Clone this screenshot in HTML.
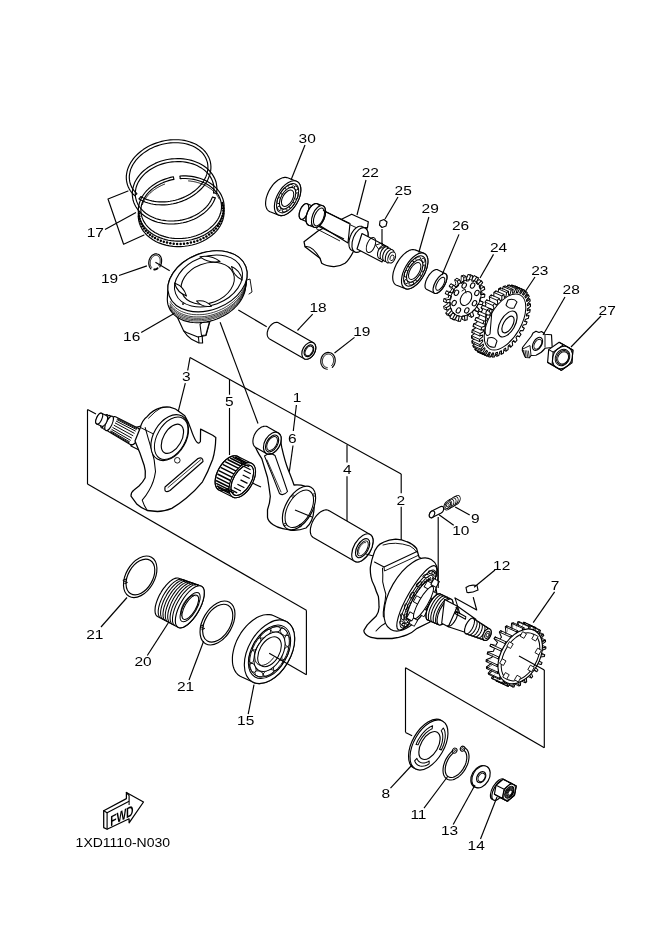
<!DOCTYPE html>
<html><head><meta charset="utf-8"><style>
html,body{margin:0;padding:0;background:#fff;}
svg{display:block;will-change:transform;}
text{font-family:"Liberation Sans",sans-serif;fill:#000;}
</style></head><body>
<svg width="660" height="933" viewBox="0 0 660 933">
<circle cx="222.3" cy="203.0" r="1.25" fill="#000"/>
<circle cx="222.9" cy="205.6" r="1.25" fill="#000"/>
<circle cx="223.2" cy="208.2" r="1.25" fill="#000"/>
<circle cx="223.3" cy="210.8" r="1.25" fill="#000"/>
<circle cx="223.1" cy="213.4" r="1.25" fill="#000"/>
<circle cx="222.5" cy="216.1" r="1.25" fill="#000"/>
<circle cx="221.7" cy="218.6" r="1.25" fill="#000"/>
<circle cx="220.7" cy="221.2" r="1.25" fill="#000"/>
<circle cx="219.3" cy="223.7" r="1.25" fill="#000"/>
<circle cx="217.8" cy="226.1" r="1.25" fill="#000"/>
<circle cx="215.9" cy="228.4" r="1.25" fill="#000"/>
<circle cx="213.9" cy="230.6" r="1.25" fill="#000"/>
<circle cx="211.6" cy="232.7" r="1.25" fill="#000"/>
<circle cx="209.1" cy="234.6" r="1.25" fill="#000"/>
<circle cx="206.4" cy="236.4" r="1.25" fill="#000"/>
<circle cx="203.5" cy="238.0" r="1.25" fill="#000"/>
<circle cx="200.5" cy="239.4" r="1.25" fill="#000"/>
<circle cx="197.4" cy="240.7" r="1.25" fill="#000"/>
<circle cx="194.2" cy="241.7" r="1.25" fill="#000"/>
<circle cx="190.9" cy="242.6" r="1.25" fill="#000"/>
<circle cx="187.5" cy="243.2" r="1.25" fill="#000"/>
<circle cx="184.0" cy="243.7" r="1.25" fill="#000"/>
<circle cx="180.6" cy="243.9" r="1.25" fill="#000"/>
<circle cx="177.1" cy="243.9" r="1.25" fill="#000"/>
<circle cx="173.7" cy="243.7" r="1.25" fill="#000"/>
<circle cx="170.3" cy="243.3" r="1.25" fill="#000"/>
<circle cx="167.0" cy="242.6" r="1.25" fill="#000"/>
<circle cx="163.8" cy="241.8" r="1.25" fill="#000"/>
<circle cx="160.8" cy="240.7" r="1.25" fill="#000"/>
<circle cx="157.8" cy="239.5" r="1.25" fill="#000"/>
<circle cx="155.0" cy="238.1" r="1.25" fill="#000"/>
<circle cx="152.4" cy="236.5" r="1.25" fill="#000"/>
<circle cx="150.0" cy="234.7" r="1.25" fill="#000"/>
<circle cx="147.8" cy="232.8" r="1.25" fill="#000"/>
<circle cx="145.8" cy="230.7" r="1.25" fill="#000"/>
<circle cx="144.0" cy="228.5" r="1.25" fill="#000"/>
<circle cx="142.5" cy="226.2" r="1.25" fill="#000"/>
<circle cx="141.3" cy="223.8" r="1.25" fill="#000"/>
<circle cx="140.3" cy="221.3" r="1.25" fill="#000"/>
<circle cx="139.6" cy="218.8" r="1.25" fill="#000"/>
<circle cx="139.2" cy="216.2" r="1.25" fill="#000"/>
<circle cx="139.1" cy="213.6" r="1.25" fill="#000"/>
<path d="M222.3,202.9 L223.2,205.7 L223.8,208.5 L224.1,211.4 L224.0,214.3 L223.6,217.2 L222.8,220.0 L221.7,222.9 L220.3,225.6 L218.6,228.3 L216.6,230.8 L214.3,233.3 L211.7,235.5 L208.9,237.6 L205.9,239.5 L202.7,241.2 L199.3,242.7 L195.8,244.0 L192.1,245.0 L188.4,245.8 L184.6,246.3 L180.8,246.6 L177.0,246.6 L173.2,246.4 L169.5,245.9 L165.9,245.1 L162.4,244.1 L159.0,242.9 L155.8,241.4 L152.9,239.7 L150.1,237.8 L147.6,235.8 L145.4,233.5 L143.4,231.1 L141.8,228.6 L140.4,225.9 L139.4,223.2 L138.7,220.3 L138.3,217.5 L138.3,214.6 L138.7,211.7" fill="none" stroke="#000" stroke-width="1.15" stroke-linejoin="round" stroke-linecap="round"/>
<path d="M180.0,176.0 L183.0,175.9 L185.9,175.9 L188.8,176.1 L191.6,176.4 L194.4,176.9 L197.2,177.6 L199.8,178.3 L202.4,179.2 L204.9,180.3 L207.3,181.5 L209.5,182.8 L211.7,184.2 L213.7,185.7 L215.5,187.4 L217.2,189.1 L218.7,191.0 L220.0,192.9 L221.2,194.9 L222.1,196.9 L222.9,199.0 L223.5,201.1 L223.9,203.3 L224.1,205.5 L224.1,207.8 L223.9,210.0 L223.5,212.2 L222.9,214.4 L222.1,216.6 L221.1,218.7 L219.9,220.8 L218.6,222.8 L217.1,224.8 L215.4,226.6 L213.5,228.4 L211.6,230.2 L209.4,231.8 L207.2,233.3 L204.8,234.7 L202.3,235.9 L199.7,237.1 L197.0,238.1 L194.3,238.9 L191.5,239.7 L188.6,240.3 L185.7,240.7 L182.8,241.0 L179.9,241.1 L177.0,241.1 L174.1,240.9 L171.2,240.6 L168.4,240.2 L165.6,239.6 L163.0,238.8 L160.4,237.9 L157.9,236.9 L155.5,235.7 L153.2,234.4 L151.0,233.0 L149.0,231.5 L147.2,229.9 L145.5,228.1 L144.0,226.3 L142.6,224.4 L141.4,222.5 L140.4,220.4 L139.6,218.3 L139.0,216.2 L138.6,214.0 L138.3,211.8 L138.3,209.6 L138.5,207.4 L138.9,205.2 L139.4,203.0 L140.2,200.8 L141.1,198.6 L142.3,196.5 L143.6,194.5 L145.1,192.5 L146.7,190.6 L148.6,188.8 L150.5,187.1 L152.6,185.5 L154.9,184.0 L157.2,182.5 L159.7,181.3 L162.3,180.1 L165.0,179.1 L167.7,178.2 L170.5,177.4 L173.4,176.8" fill="none" stroke="#000" stroke-width="1.15" stroke-linejoin="round" stroke-linecap="round"/>
<path d="M180.2,178.6 L182.9,178.5 L185.7,178.5 L188.4,178.7 L191.1,179.0 L193.7,179.4 L196.3,180.0 L198.8,180.7 L201.2,181.5 L203.5,182.5 L205.8,183.6 L207.9,184.8 L209.9,186.1 L211.7,187.5 L213.4,189.0 L215.0,190.6 L216.4,192.3 L217.7,194.0 L218.8,195.9 L219.7,197.7 L220.4,199.7 L220.9,201.7 L221.3,203.7 L221.5,205.7 L221.5,207.7 L221.3,209.8 L220.9,211.8 L220.3,213.8 L219.6,215.8 L218.7,217.8 L217.6,219.7 L216.3,221.6 L214.9,223.4 L213.3,225.1 L211.5,226.8 L209.7,228.4 L207.7,229.9 L205.5,231.2 L203.3,232.5 L201.0,233.7 L198.5,234.7 L196.0,235.7 L193.4,236.5 L190.8,237.2 L188.1,237.7 L185.4,238.1 L182.6,238.4 L179.9,238.5 L177.2,238.5 L174.4,238.4 L171.8,238.1 L169.1,237.7 L166.5,237.1 L164.0,236.4 L161.6,235.6 L159.2,234.7 L157.0,233.6 L154.8,232.4 L152.8,231.1 L150.9,229.7 L149.2,228.2 L147.6,226.7 L146.2,225.0 L144.9,223.2 L143.8,221.4 L142.9,219.5 L142.1,217.6 L141.5,215.7 L141.1,213.7 L140.9,211.6 L140.9,209.6 L141.1,207.5 L141.4,205.5 L142.0,203.5 L142.7,201.5 L143.6,199.5 L144.7,197.6 L145.9,195.7 L147.3,193.9 L148.9,192.1 L150.6,190.5 L152.4,188.9 L154.4,187.4 L156.5,186.0 L158.8,184.7 L161.1,183.5 L163.5,182.4 L166.0,181.5 L168.6,180.6 L171.2,179.9 L173.9,179.4" fill="none" stroke="#000" stroke-width="1.15" stroke-linejoin="round" stroke-linecap="round"/>
<line x1="173.4" y1="176.8" x2="173.9" y2="179.4" stroke="#000" stroke-width="1.15"/>
<line x1="180.0" y1="176.0" x2="180.2" y2="178.6" stroke="#000" stroke-width="1.15"/>
<path d="M142.4,204.5 L142.6,203.9 L142.9,203.2 L143.2,202.6 L143.5,202.0 L143.8,201.3 L144.1,200.7 L144.5,200.1 L144.8,199.5 L145.2,198.9 L145.6,198.3 L146.1,197.7 L146.5,197.1 L147.0,196.5 L147.4,195.9 L147.9,195.4 L148.4,194.8 L148.9,194.3 L149.5,193.7 L150.0,193.2 L150.6,192.7 L151.2,192.1 L151.8,191.6 L152.4,191.1 L153.0,190.6 L153.6,190.2 L154.3,189.7 L154.9,189.2 L155.6,188.8 L156.3,188.3 L157.0,187.9 L157.7,187.5 L158.4,187.1 L159.1,186.7 L159.9,186.3 L160.6,185.9 L161.4,185.5 L162.2,185.2 L162.9,184.8 L163.7,184.5 L164.5,184.2" fill="none" stroke="#000" stroke-width="0.92" stroke-linejoin="round" stroke-linecap="round"/>
<path d="M188.6,180.9 L189.6,181.0 L190.6,181.1 L191.7,181.3 L192.7,181.4 L193.7,181.6 L194.7,181.8 L195.7,182.0 L196.7,182.3 L197.6,182.6 L198.6,182.8 L199.5,183.1 L200.5,183.5 L201.4,183.8 L202.3,184.2 L203.2,184.5 L204.1,184.9 L204.9,185.3 L205.8,185.8 L206.6,186.2 L207.4,186.7 L208.2,187.2 L209.0,187.7 L209.7,188.2 L210.5,188.7 L211.2,189.2 L211.9,189.8 L212.5,190.4 L213.2,191.0 L213.8,191.6 L214.4,192.2 L215.0,192.8 L215.6,193.4 L216.1,194.1 L216.6,194.7 L217.1,195.4 L217.6,196.1 L218.0,196.8 L218.4,197.5 L218.8,198.2 L219.2,198.9" fill="none" stroke="#000" stroke-width="0.92" stroke-linejoin="round" stroke-linecap="round"/>
<path d="M215.3,197.9 L214.4,200.0 L213.4,202.2 L212.1,204.3 L210.7,206.3 L209.1,208.2 L207.3,210.1 L205.4,211.9 L203.4,213.6 L201.2,215.1 L198.9,216.6 L196.5,218.0 L193.9,219.2 L191.3,220.3 L188.6,221.3 L185.9,222.1 L183.1,222.8 L180.2,223.3 L177.4,223.7 L174.5,223.9 L171.6,224.0 L168.7,224.0 L165.9,223.7 L163.1,223.4 L160.3,222.8 L157.6,222.2 L155.0,221.4 L152.5,220.4 L150.1,219.3 L147.8,218.1 L145.6,216.8 L143.6,215.3 L141.7,213.7 L140.0,212.0 L138.4,210.3 L137.0,208.4 L135.7,206.5 L134.7,204.5 L133.8,202.4 L133.1,200.3 L132.7,198.1 L132.4,195.9 L132.3,193.7 L132.4,191.4 L132.7,189.2 L133.2,187.0 L133.9,184.8 L134.7,182.6 L135.8,180.5 L137.1,178.4 L138.5,176.4 L140.1,174.4 L141.8,172.5 L143.7,170.8 L145.8,169.1 L147.9,167.5 L150.3,166.0 L152.7,164.7 L155.2,163.4 L157.8,162.3 L160.5,161.3 L163.2,160.5 L166.1,159.8 L168.9,159.3 L171.8,158.9 L174.7,158.7 L177.6,158.6 L180.4,158.6 L183.3,158.9 L186.1,159.2 L188.8,159.7 L191.5,160.4 L194.1,161.2 L196.6,162.2 L199.1,163.3 L201.4,164.5 L203.5,165.8 L205.6,167.3 L207.5,168.8 L209.2,170.5 L210.8,172.3 L212.2,174.1 L213.4,176.1 L214.5,178.1 L215.4,180.2 L216.1,182.3 L216.5,184.5 L216.8,186.7 L216.9,188.9 L216.8,191.1 L216.5,193.3" fill="none" stroke="#000" stroke-width="1.15" stroke-linejoin="round" stroke-linecap="round"/>
<path d="M212.4,197.1 L211.6,199.1 L210.6,201.1 L209.4,203.0 L208.1,204.8 L206.6,206.6 L205.0,208.3 L203.2,209.9 L201.3,211.4 L199.2,212.9 L197.1,214.2 L194.8,215.5 L192.5,216.6 L190.1,217.6 L187.6,218.5 L185.0,219.2 L182.4,219.9 L179.7,220.4 L177.1,220.7 L174.4,220.9 L171.7,221.0 L169.0,221.0 L166.4,220.8 L163.8,220.4 L161.2,220.0 L158.7,219.4 L156.3,218.7 L154.0,217.8 L151.7,216.8 L149.6,215.7 L147.6,214.5 L145.7,213.2 L144.0,211.8 L142.4,210.2 L140.9,208.6 L139.6,207.0 L138.4,205.2 L137.5,203.4 L136.7,201.5 L136.1,199.6 L135.6,197.6 L135.3,195.6 L135.3,193.6 L135.4,191.5 L135.7,189.5 L136.1,187.5 L136.8,185.5 L137.6,183.5 L138.6,181.6 L139.8,179.7 L141.1,177.9 L142.6,176.1 L144.2,174.4 L146.0,172.7 L147.9,171.2 L149.9,169.8 L152.1,168.4 L154.3,167.2 L156.7,166.0 L159.1,165.0 L161.6,164.1 L164.1,163.4 L166.8,162.8 L169.4,162.3 L172.1,161.9 L174.8,161.7 L177.4,161.6 L180.1,161.6 L182.8,161.8 L185.4,162.1 L187.9,162.6 L190.4,163.2 L192.8,163.9 L195.2,164.8 L197.4,165.8 L199.5,166.9 L201.5,168.1 L203.4,169.4 L205.2,170.8 L206.8,172.3 L208.3,173.9 L209.6,175.6 L210.7,177.4 L211.7,179.2 L212.5,181.1 L213.1,183.0 L213.6,185.0 L213.8,187.0 L213.9,189.0 L213.8,191.0 L213.5,193.0" fill="none" stroke="#000" stroke-width="1.15" stroke-linejoin="round" stroke-linecap="round"/>
<line x1="216.5" y1="193.3" x2="213.5" y2="193.0" stroke="#000" stroke-width="1.15"/>
<line x1="215.3" y1="197.9" x2="212.4" y2="197.1" stroke="#000" stroke-width="1.15"/>
<path d="M134.6,195.6 L133.0,194.0 L131.5,192.3 L130.2,190.5 L129.1,188.6 L128.2,186.7 L127.4,184.6 L126.9,182.6 L126.5,180.4 L126.3,178.3 L126.3,176.1 L126.6,173.8 L127.0,171.6 L127.6,169.4 L128.4,167.2 L129.4,165.0 L130.5,162.9 L131.9,160.8 L133.4,158.7 L135.1,156.7 L136.9,154.8 L138.9,153.0 L141.0,151.2 L143.2,149.6 L145.6,148.1 L148.1,146.6 L150.6,145.3 L153.3,144.1 L156.0,143.1 L158.8,142.2 L161.6,141.4 L164.4,140.7 L167.3,140.2 L170.2,139.9 L173.1,139.7 L175.9,139.7 L178.7,139.8 L181.5,140.0 L184.2,140.4 L186.8,141.0 L189.4,141.7 L191.8,142.6 L194.2,143.5 L196.4,144.6 L198.5,145.9 L200.5,147.3 L202.3,148.7 L204.0,150.3 L205.5,152.0 L206.8,153.8 L207.9,155.7 L208.9,157.6 L209.7,159.6 L210.3,161.7 L210.7,163.8 L210.9,166.0 L210.9,168.2 L210.7,170.4 L210.3,172.6 L209.7,174.9 L208.9,177.1 L208.0,179.2 L206.9,181.4 L205.5,183.5 L204.1,185.6 L202.4,187.6 L200.6,189.5 L198.6,191.3 L196.5,193.1 L194.3,194.8 L192.0,196.3 L189.5,197.8 L187.0,199.1 L184.3,200.3 L181.6,201.4 L178.9,202.3 L176.1,203.1 L173.2,203.8 L170.3,204.3 L167.5,204.7 L164.6,204.9 L161.7,204.9 L158.9,204.8 L156.1,204.6 L153.4,204.2 L150.8,203.7 L148.2,203.0 L145.7,202.2 L143.4,201.2 L141.1,200.1 L139.0,198.9" fill="none" stroke="#000" stroke-width="1.15" stroke-linejoin="round" stroke-linecap="round"/>
<path d="M136.9,193.7 L135.4,192.2 L134.0,190.7 L132.9,189.1 L131.8,187.4 L131.0,185.6 L130.3,183.8 L129.8,181.9 L129.5,179.9 L129.3,178.0 L129.3,176.0 L129.6,174.0 L130.0,172.0 L130.5,169.9 L131.3,167.9 L132.2,165.9 L133.3,164.0 L134.6,162.1 L136.0,160.2 L137.6,158.4 L139.3,156.6 L141.1,155.0 L143.1,153.4 L145.2,151.9 L147.4,150.5 L149.7,149.1 L152.1,147.9 L154.5,146.8 L157.1,145.9 L159.7,145.0 L162.3,144.3 L164.9,143.7 L167.6,143.2 L170.3,142.9 L172.9,142.7 L175.6,142.7 L178.2,142.7 L180.8,143.0 L183.3,143.3 L185.7,143.8 L188.1,144.4 L190.4,145.2 L192.6,146.0 L194.6,147.0 L196.6,148.2 L198.4,149.4 L200.0,150.7 L201.6,152.1 L203.0,153.7 L204.2,155.3 L205.2,157.0 L206.1,158.7 L206.8,160.6 L207.4,162.4 L207.7,164.4 L207.9,166.3 L207.9,168.3 L207.7,170.3 L207.3,172.3 L206.8,174.4 L206.0,176.4 L205.1,178.3 L204.1,180.3 L202.8,182.2 L201.4,184.1 L199.9,185.9 L198.2,187.7 L196.4,189.4 L194.4,191.0 L192.3,192.5 L190.2,193.9 L187.9,195.3 L185.5,196.5 L183.0,197.6 L180.5,198.6 L177.9,199.5 L175.3,200.2 L172.7,200.8 L170.0,201.3 L167.3,201.7 L164.7,201.9 L162.0,201.9 L159.4,201.9 L156.8,201.7 L154.3,201.4 L151.8,200.9 L149.5,200.3 L147.2,199.6 L145.0,198.7 L142.9,197.7 L140.9,196.6" fill="none" stroke="#000" stroke-width="1.15" stroke-linejoin="round" stroke-linecap="round"/>
<line x1="139.0" y1="198.9" x2="140.9" y2="196.6" stroke="#000" stroke-width="1.15"/>
<line x1="134.6" y1="195.6" x2="136.9" y2="193.7" stroke="#000" stroke-width="1.15"/>
<path d="M128.0,191.0 L108.0,199.0 L123.6,244.2 L144.0,235.0" fill="none" stroke="#000" stroke-width="1.15" stroke-linejoin="round" stroke-linecap="round"/>
<line x1="105.0" y1="229.5" x2="136.0" y2="212.5" stroke="#000" stroke-width="1.15"/>
<path d="M150.9,268.8 L150.4,268.2 L149.9,267.6 L149.5,266.8 L149.2,266.0 L149.0,265.1 L148.8,264.2 L148.7,263.2 L148.8,262.3 L148.9,261.3 L149.1,260.3 L149.4,259.4 L149.8,258.5 L150.3,257.6 L150.8,256.8 L151.4,256.1 L152.0,255.5 L152.7,254.9 L153.5,254.5 L154.2,254.2 L155.0,253.9 L155.7,253.8 L156.5,253.8 L157.2,254.0 L158.0,254.2 L158.6,254.5 L159.3,255.0 L159.8,255.5 L160.3,256.2 L160.8,256.9 L161.1,257.7 L161.4,258.6 L161.6,259.5 L161.6,260.4 L161.6,261.4 L161.5,262.3 L161.4,263.3 L161.1,264.3 L160.7,265.2 L160.3,266.0 L159.8,266.9" fill="none" stroke="#000" stroke-width="1.15" stroke-linejoin="round" stroke-linecap="round"/>
<path d="M151.6,267.4 L151.2,266.9 L150.9,266.4 L150.6,265.7 L150.4,265.1 L150.2,264.4 L150.2,263.6 L150.2,262.9 L150.2,262.1 L150.3,261.3 L150.5,260.5 L150.8,259.8 L151.1,259.1 L151.5,258.4 L151.9,257.8 L152.3,257.2 L152.8,256.7 L153.4,256.2 L153.9,255.9 L154.5,255.6 L155.1,255.4 L155.7,255.3 L156.3,255.3 L156.8,255.4 L157.4,255.6 L157.9,255.8 L158.4,256.2 L158.8,256.6 L159.2,257.1 L159.5,257.7 L159.8,258.3 L160.0,258.9 L160.2,259.7 L160.2,260.4 L160.2,261.2 L160.2,261.9 L160.1,262.7 L159.9,263.5 L159.6,264.2 L159.3,265.0 L158.9,265.6" fill="none" stroke="#000" stroke-width="0.92" stroke-linejoin="round" stroke-linecap="round"/>
<path d="M157.6,268.2 L157.6,268.3 L157.5,268.3 L157.4,268.4 L157.3,268.5 L157.2,268.5 L157.1,268.6 L157.1,268.6 L157.0,268.7 L156.9,268.7 L156.8,268.8 L156.7,268.8 L156.6,268.9 L156.6,268.9 L156.5,269.0 L156.4,269.0 L156.3,269.0 L156.2,269.1 L156.1,269.1 L156.0,269.1 L156.0,269.2 L155.9,269.2 L155.8,269.2 L155.7,269.3 L155.6,269.3 L155.5,269.3 L155.4,269.3 L155.3,269.4 L155.3,269.4 L155.2,269.4 L155.1,269.4 L155.0,269.4 L154.9,269.4 L154.8,269.5 L154.7,269.5 L154.6,269.5 L154.6,269.5 L154.5,269.5 L154.4,269.5 L154.3,269.5 L154.2,269.5" fill="none" stroke="#000" stroke-width="1.84" stroke-linejoin="round" stroke-linecap="round"/>
<line x1="119.0" y1="275.5" x2="146.9" y2="265.9" stroke="#000" stroke-width="1.15"/>
<line x1="155.4" y1="262.2" x2="169.7" y2="270.7" stroke="#000" stroke-width="1.15"/>
<line x1="220.1" y1="322.3" x2="258.0" y2="423.5" stroke="#000" stroke-width="1.15"/>
<path d="M173,306 L174,310 L183.6,330.8 Q187,336.5 191.5,339.2 L199,343 L202.6,343 L202.2,336.3 L206,335.5 L210,321 L190,318 Z" fill="#fff" stroke="#000" stroke-width="1.15" stroke-linejoin="round" stroke-linecap="round"/>
<path d="M183.6,330.8 L186.5,332.5 L197.9,337.1 L202.2,336.3" fill="none" stroke="#000" stroke-width="1.03" stroke-linejoin="round" stroke-linecap="round"/>
<path d="M200,324.4 L202.1,322.3 L209.5,321.7 L205.8,335 L201.5,335.5 Z" fill="#fff" stroke="#000" stroke-width="1.03" stroke-linejoin="round" stroke-linecap="round"/>
<line x1="198.4" y1="336.5" x2="199.0" y2="343.0" stroke="#000" stroke-width="1.03"/>
<path d="M167.3,299.4 L167.9,288.6 L168.0,286.0 L168.5,283.3 L169.2,280.7 L170.3,278.0 L171.6,275.4 L173.2,272.8 L175.0,270.3 L177.2,267.9 L179.5,265.5 L182.0,263.3 L184.8,261.2 L187.7,259.3 L190.8,257.6 L193.9,256.0 L197.2,254.6 L200.6,253.4 L204.1,252.4 L207.5,251.7 L211.0,251.2 L214.4,250.9 L217.8,250.8 L221.1,251.0 L224.2,251.4 L227.3,252.0 L230.2,252.9 L233.0,253.9 L235.5,255.2 L237.9,256.7 L240.0,258.4 L241.8,260.2 L243.4,262.2 L244.7,264.3 L245.8,266.6 L246.5,269.0 L247.0,271.5 L247.1,274.0 L247.0,276.6 L245.5,287.8 L245.1,290.4 L244.4,293.1 L243.3,295.7 L242.1,298.3 L240.5,300.9 L238.7,303.4 L236.6,305.9 L234.3,308.2 L231.8,310.4 L229.1,312.4 L226.2,314.3 L223.2,316.1 L220.0,317.6 L216.8,319.0 L213.4,320.2 L210.0,321.1 L206.6,321.9 L203.2,322.4 L199.8,322.6 L196.5,322.7 L193.2,322.5 L190.1,322.1 L187.0,321.4 L184.1,320.6 L181.4,319.5 L178.9,318.2 L176.6,316.7 L174.5,315.1 L172.6,313.2 L171.0,311.2 L169.7,309.1 L168.7,306.8 L167.9,304.4 L167.5,302.0 Z" fill="#fff" stroke="#000" stroke-width="1.15" stroke-linejoin="round" stroke-linecap="round"/>
<path d="M246.5,274.5 L246.6,276.6 L246.6,278.7 L246.3,280.9 L245.9,283.1 L245.2,285.3 L244.4,287.4 L243.3,289.6 L242.1,291.7 L240.7,293.8 L239.1,295.8 L237.4,297.8 L235.5,299.7 L233.5,301.6 L231.3,303.3 L229.0,305.0 L226.6,306.5 L224.1,308.0 L221.5,309.3 L218.8,310.4 L216.1,311.5 L213.3,312.4 L210.5,313.2 L207.7,313.8 L204.9,314.3 L202.1,314.6 L199.3,314.7 L196.6,314.7 L193.9,314.6 L191.3,314.3 L188.7,313.8 L186.3,313.2 L183.9,312.4 L181.7,311.5 L179.6,310.5 L177.7,309.3 L175.9,308.0 L174.3,306.6 L172.8,305.0 L171.5,303.4 L170.4,301.6" fill="none" stroke="#000" stroke-width="0.75" stroke-linejoin="round" stroke-linecap="round"/>
<path d="M246.3,276.7 L246.4,278.8 L246.4,280.9 L246.1,283.1 L245.7,285.3 L245.0,287.5 L244.2,289.6 L243.1,291.8 L241.9,293.9 L240.5,296.0 L238.9,298.0 L237.2,300.0 L235.3,301.9 L233.3,303.8 L231.1,305.5 L228.8,307.2 L226.4,308.7 L223.9,310.2 L221.3,311.5 L218.6,312.6 L215.9,313.7 L213.1,314.6 L210.3,315.4 L207.5,316.0 L204.7,316.5 L201.9,316.8 L199.1,316.9 L196.3,316.9 L193.7,316.8 L191.0,316.5 L188.5,316.0 L186.1,315.4 L183.7,314.6 L181.5,313.7 L179.4,312.7 L177.5,311.5 L175.7,310.2 L174.0,308.8 L172.6,307.2 L171.3,305.6 L170.2,303.8" fill="none" stroke="#000" stroke-width="0.75" stroke-linejoin="round" stroke-linecap="round"/>
<path d="M246.1,278.1 L246.3,280.2 L246.2,282.3 L246.0,284.5 L245.5,286.7 L244.9,288.9 L244.0,291.0 L243.0,293.2 L241.8,295.3 L240.3,297.4 L238.8,299.4 L237.0,301.4 L235.1,303.3 L233.1,305.2 L230.9,306.9 L228.6,308.6 L226.2,310.1 L223.7,311.6 L221.1,312.9 L218.5,314.0 L215.8,315.1 L213.0,316.0 L210.2,316.8 L207.4,317.4 L204.5,317.9 L201.7,318.2 L198.9,318.3 L196.2,318.3 L193.5,318.2 L190.9,317.9 L188.4,317.4 L185.9,316.8 L183.6,316.0 L181.4,315.1 L179.3,314.1 L177.3,312.9 L175.5,311.6 L173.9,310.2 L172.4,308.6 L171.1,307.0 L170.0,305.2" fill="none" stroke="#000" stroke-width="0.75" stroke-linejoin="round" stroke-linecap="round"/>
<path d="M246.0,279.5 L246.1,281.6 L246.1,283.7 L245.8,285.9 L245.4,288.1 L244.7,290.3 L243.9,292.4 L242.8,294.6 L241.6,296.7 L240.2,298.8 L238.6,300.8 L236.9,302.8 L235.0,304.7 L233.0,306.6 L230.8,308.3 L228.5,310.0 L226.1,311.5 L223.6,313.0 L221.0,314.3 L218.3,315.4 L215.6,316.5 L212.8,317.4 L210.0,318.2 L207.2,318.8 L204.4,319.3 L201.6,319.6 L198.8,319.7 L196.1,319.7 L193.4,319.6 L190.8,319.3 L188.2,318.8 L185.8,318.2 L183.4,317.4 L181.2,316.5 L179.1,315.5 L177.2,314.3 L175.4,313.0 L173.8,311.6 L172.3,310.0 L171.0,308.4 L169.9,306.6" fill="none" stroke="#000" stroke-width="0.75" stroke-linejoin="round" stroke-linecap="round"/>
<path d="M245.9,280.8 L246.0,282.9 L246.0,285.0 L245.7,287.2 L245.2,289.4 L244.6,291.6 L243.7,293.7 L242.7,295.9 L241.5,298.0 L240.1,300.1 L238.5,302.1 L236.8,304.1 L234.9,306.0 L232.8,307.9 L230.7,309.6 L228.4,311.3 L226.0,312.8 L223.5,314.3 L220.9,315.6 L218.2,316.7 L215.5,317.8 L212.7,318.7 L209.9,319.5 L207.1,320.1 L204.3,320.6 L201.5,320.9 L198.7,321.0 L195.9,321.0 L193.2,320.9 L190.6,320.6 L188.1,320.1 L185.6,319.5 L183.3,318.7 L181.1,317.8 L179.0,316.8 L177.1,315.6 L175.3,314.3 L173.6,312.9 L172.2,311.3 L170.9,309.7 L169.8,307.9" fill="none" stroke="#000" stroke-width="0.75" stroke-linejoin="round" stroke-linecap="round"/>
<ellipse cx="207.5" cy="281.3" rx="41.0" ry="28.6" transform="rotate(-21.0 207.5 281.3)" fill="#fff" stroke="#000" stroke-width="1.15"/>
<ellipse cx="208.5" cy="281.0" rx="35.2" ry="24.3" transform="rotate(-21.0 208.5 281.0)" fill="none" stroke="#000" stroke-width="1.03"/>
<ellipse cx="207.7" cy="283.2" rx="27.5" ry="19.8" transform="rotate(-21.0 207.7 283.2)" fill="none" stroke="#000" stroke-width="1.03"/>
<path d="M200.0,256.8 Q209.0,263.5 220.0,261.5 Q211.0,254.8 200.0,256.8 Z" fill="#fff" stroke="#000" stroke-width="1.03" stroke-linejoin="round" stroke-linecap="round"/>
<path d="M231.5,266.5 Q233.4,276.1 242.3,280.0 Q240.4,270.4 231.5,266.5 Z" fill="#fff" stroke="#000" stroke-width="1.03" stroke-linejoin="round" stroke-linecap="round"/>
<path d="M174.5,283.0 Q177.2,292.6 186.5,296.0 Q183.8,286.4 174.5,283.0 Z" fill="#fff" stroke="#000" stroke-width="1.03" stroke-linejoin="round" stroke-linecap="round"/>
<path d="M196.5,301.0 Q202.5,307.9 211.5,306.2 Q205.5,299.3 196.5,301.0 Z" fill="#fff" stroke="#000" stroke-width="1.03" stroke-linejoin="round" stroke-linecap="round"/>
<circle cx="183" cy="304" r="0.9" fill="#000"/>
<path d="M247,280 L250,279 L252,292 L249,294" fill="none" stroke="#000" stroke-width="0.92" stroke-linejoin="round" stroke-linecap="round"/>
<line x1="141.2" y1="332.5" x2="174.5" y2="313.2" stroke="#000" stroke-width="1.15"/>
<line x1="238.3" y1="310.0" x2="266.7" y2="326.7" stroke="#000" stroke-width="1.15"/>
<path d="M267.2,333.7 L267.2,333.0 L267.3,332.2 L267.5,331.5 L267.7,330.8 L267.9,330.0 L268.2,329.3 L268.5,328.6 L268.9,327.9 L269.3,327.2 L269.8,326.5 L270.3,325.9 L270.8,325.3 L271.4,324.8 L271.9,324.3 L272.5,323.8 L273.1,323.4 L273.7,323.1 L274.3,322.8 L274.9,322.6 L275.5,322.5 L276.1,322.4 L276.7,322.4 L277.3,322.4 L277.8,322.5 L278.3,322.7 L278.8,322.9 L313.4,342.7 L313.8,343.0 L314.2,343.4 L314.6,343.8 L314.9,344.3 L315.2,344.8 L315.4,345.3 L315.6,345.9 L315.7,346.6 L315.8,347.2 L315.8,347.9 L315.8,348.6 L315.7,349.4 L315.5,350.1 L315.3,350.8 L315.1,351.6 L314.8,352.3 L314.5,353.0 L314.1,353.8 L313.7,354.4 L313.2,355.1 L312.7,355.7 L312.2,356.3 L311.6,356.8 L311.1,357.3 L310.5,357.8 L309.9,358.2 L309.3,358.5 L308.7,358.8 L308.1,359.0 L307.5,359.1 L306.9,359.2 L306.3,359.2 L305.7,359.2 L305.2,359.1 L304.7,358.9 L304.2,358.7 L269.6,338.9 L269.2,338.6 L268.8,338.2 L268.4,337.8 L268.1,337.3 L267.8,336.8 L267.6,336.3 L267.4,335.7 L267.3,335.0 L267.2,334.4 Z" fill="#fff" stroke="#000" stroke-width="1.15" stroke-linejoin="round" stroke-linecap="round"/>
<ellipse cx="308.8" cy="350.7" rx="6.1" ry="9.2" transform="rotate(30.0 308.8 350.7)" fill="#fff" stroke="#000" stroke-width="1.15"/>
<ellipse cx="308.9" cy="350.8" rx="4.2" ry="6.3" transform="rotate(30.0 308.9 350.8)" fill="none" stroke="#000" stroke-width="1.15"/>
<ellipse cx="309.0" cy="350.9" rx="3.3" ry="5.2" transform="rotate(30.0 309.0 350.9)" fill="none" stroke="#000" stroke-width="0.92"/>
<line x1="312.7" y1="314.2" x2="300.0" y2="327.7" stroke="#000" stroke-width="1.15"/>
<line x1="300.0" y1="327.7" x2="297.5" y2="330.5" stroke="#000" stroke-width="1.15"/>
<path d="M327.3,369.2 L326.3,369.0 L325.3,368.7 L324.4,368.3 L323.6,367.7 L322.8,367.0 L322.2,366.1 L321.7,365.2 L321.2,364.2 L320.9,363.1 L320.8,362.0 L320.8,360.8 L320.9,359.6 L321.2,358.5 L321.5,357.4 L322.1,356.4 L322.7,355.4 L323.4,354.6 L324.2,353.9 L325.1,353.3 L326.1,352.9 L327.1,352.6 L328.1,352.4 L329.1,352.5 L330.0,352.7 L331.0,353.0 L331.9,353.5 L332.7,354.1 L333.4,354.9 L334.0,355.8 L334.5,356.8 L334.9,357.8 L335.1,358.9 L335.2,360.1 L335.2,361.2 L335.0,362.4 L334.7,363.5 L334.3,364.6 L333.7,365.6 L333.1,366.5 L332.3,367.3" fill="none" stroke="#000" stroke-width="1.15" stroke-linejoin="round" stroke-linecap="round"/>
<path d="M327.2,367.5 L326.5,367.4 L325.7,367.2 L325.1,366.8 L324.4,366.3 L323.9,365.7 L323.4,365.1 L323.0,364.3 L322.7,363.5 L322.5,362.6 L322.4,361.7 L322.4,360.8 L322.5,359.9 L322.7,359.0 L323.0,358.1 L323.4,357.3 L323.9,356.5 L324.4,355.9 L325.1,355.3 L325.7,354.8 L326.5,354.4 L327.2,354.2 L328.0,354.1 L328.7,354.0 L329.5,354.2 L330.2,354.4 L330.9,354.8 L331.5,355.2 L332.1,355.8 L332.6,356.5 L333.0,357.2 L333.3,358.1 L333.5,358.9 L333.6,359.8 L333.6,360.7 L333.5,361.7 L333.3,362.6 L333.0,363.4 L332.6,364.3 L332.2,365.0 L331.6,365.7" fill="none" stroke="#000" stroke-width="0.92" stroke-linejoin="round" stroke-linecap="round"/>
<line x1="354.5" y1="337.4" x2="334.5" y2="353.0" stroke="#000" stroke-width="1.15"/>
<line x1="190.0" y1="357.6" x2="401.2" y2="474.1" stroke="#000" stroke-width="1.15"/>
<line x1="190.0" y1="357.6" x2="187.7" y2="370.5" stroke="#000" stroke-width="1.15"/>
<line x1="185.3" y1="383.2" x2="178.0" y2="412.3" stroke="#000" stroke-width="1.15"/>
<line x1="229.5" y1="379.5" x2="229.5" y2="394.7" stroke="#000" stroke-width="1.15"/>
<line x1="229.5" y1="408.0" x2="229.5" y2="455.0" stroke="#000" stroke-width="1.15"/>
<line x1="296.4" y1="405.0" x2="293.3" y2="431.0" stroke="#000" stroke-width="1.15"/>
<line x1="293.0" y1="445.5" x2="289.3" y2="471.8" stroke="#000" stroke-width="1.15"/>
<line x1="347.0" y1="444.8" x2="347.0" y2="462.5" stroke="#000" stroke-width="1.15"/>
<line x1="347.0" y1="476.2" x2="347.0" y2="522.0" stroke="#000" stroke-width="1.15"/>
<line x1="401.2" y1="474.1" x2="401.2" y2="493.2" stroke="#000" stroke-width="1.15"/>
<line x1="401.2" y1="506.8" x2="401.2" y2="540.0" stroke="#000" stroke-width="1.15"/>
<line x1="87.5" y1="409.6" x2="87.5" y2="484.1" stroke="#000" stroke-width="1.15"/>
<line x1="87.5" y1="409.6" x2="96.0" y2="414.0" stroke="#000" stroke-width="1.15"/>
<line x1="87.5" y1="484.1" x2="306.4" y2="610.3" stroke="#000" stroke-width="1.15"/>
<line x1="306.4" y1="610.3" x2="306.4" y2="674.7" stroke="#000" stroke-width="1.15"/>
<path d="M131.0,428.6 L141.0,426.0 L146.0,440.0 L141.0,451.0 L131.0,446.0 Z" fill="#fff" stroke="#000" stroke-width="1.15" stroke-linejoin="round" stroke-linecap="round"/>
<path d="M107.2,428.4 L107.3,427.8 L107.3,427.2 L107.4,426.6 L107.6,426.0 L107.8,425.3 L108.0,424.6 L108.2,424.0 L108.5,423.3 L108.7,422.7 L109.0,422.0 L109.4,421.4 L109.8,420.8 L110.1,420.2 L110.5,419.7 L110.9,419.2 L111.3,418.7 L111.7,418.3 L112.1,417.9 L112.6,417.5 L113.0,417.2 L113.4,417.0 L113.8,416.8 L114.1,416.7 L114.5,416.6 L114.8,416.6 L115.2,416.7 L115.5,416.8 L138.3,428.3 L138.6,428.5 L138.9,428.8 L139.2,429.1 L139.4,429.4 L139.6,429.9 L139.7,430.3 L139.8,430.8 L139.9,431.4 L139.9,432.0 L139.9,432.6 L139.8,433.3 L139.7,434.0 L139.6,434.7 L139.4,435.4 L139.2,436.1 L138.9,436.8 L138.6,437.6 L138.3,438.3 L138.0,439.0 L137.6,439.7 L137.2,440.3 L136.8,441.0 L136.3,441.6 L135.9,442.1 L135.4,442.6 L135.0,443.1 L134.5,443.5 L134.0,443.9 L133.6,444.2 L133.1,444.4 L132.7,444.6 L132.2,444.8 L131.8,444.8 L131.4,444.8 L131.0,444.8 L130.7,444.7 L108.5,431.6 L108.3,431.5 L108.0,431.2 L107.8,431.0 L107.6,430.7 L107.5,430.3 L107.4,429.9 L107.3,429.4 L107.2,428.9 Z" fill="#fff" stroke="#000" stroke-width="1.15" stroke-linejoin="round" stroke-linecap="round"/>
<line x1="110.2" y1="431.6" x2="129.3" y2="442.9" stroke="#000" stroke-width="0.98"/>
<line x1="110.7" y1="430.8" x2="129.8" y2="442.0" stroke="#000" stroke-width="0.98"/>
<line x1="111.5" y1="429.3" x2="130.7" y2="440.4" stroke="#000" stroke-width="0.98"/>
<line x1="112.5" y1="427.4" x2="131.9" y2="438.2" stroke="#000" stroke-width="0.98"/>
<line x1="113.8" y1="425.2" x2="133.2" y2="435.8" stroke="#000" stroke-width="0.98"/>
<line x1="115.0" y1="422.9" x2="134.5" y2="433.4" stroke="#000" stroke-width="0.98"/>
<line x1="116.0" y1="421.0" x2="135.7" y2="431.2" stroke="#000" stroke-width="0.98"/>
<line x1="116.8" y1="419.5" x2="136.6" y2="429.6" stroke="#000" stroke-width="0.98"/>
<line x1="117.3" y1="418.7" x2="137.1" y2="428.7" stroke="#000" stroke-width="0.98"/>
<path d="M138.3,428.3 L138.6,428.5 L138.9,428.7 L139.1,429.0 L139.3,429.3 L139.5,429.6 L139.6,430.0 L139.7,430.5 L139.8,430.9 L139.9,431.5 L139.9,432.0 L139.9,432.6 L139.8,433.1 L139.7,433.8 L139.6,434.4 L139.5,435.0 L139.3,435.7 L139.1,436.3 L138.9,437.0 L138.6,437.6 L138.3,438.3 L138.0,438.9 L137.7,439.5 L137.3,440.1 L136.9,440.7 L136.6,441.3 L136.2,441.8 L135.8,442.3 L135.3,442.7 L134.9,443.1 L134.5,443.5 L134.1,443.9 L133.7,444.1 L133.2,444.4 L132.8,444.6 L132.4,444.7 L132.1,444.8 L131.7,444.8 L131.3,444.8 L131.0,444.8 L130.7,444.7" fill="none" stroke="#000" stroke-width="1.03" stroke-linejoin="round" stroke-linecap="round"/>
<ellipse cx="104.5" cy="421.2" rx="3.0" ry="7.2" transform="rotate(25.0 104.5 421.2)" fill="#fff" stroke="#000" stroke-width="1.03"/>
<ellipse cx="106.8" cy="422.3" rx="3.0" ry="7.5" transform="rotate(25.0 106.8 422.3)" fill="#fff" stroke="#000" stroke-width="1.03"/>
<ellipse cx="109.1" cy="423.4" rx="3.0" ry="7.8" transform="rotate(25.0 109.1 423.4)" fill="#fff" stroke="#000" stroke-width="1.03"/>
<path d="M95.8,421.5 L95.8,421.1 L95.9,420.7 L95.9,420.3 L96.0,419.8 L96.2,419.4 L96.3,418.9 L96.5,418.4 L96.6,418.0 L96.8,417.5 L97.1,417.1 L97.3,416.6 L97.6,416.2 L97.8,415.8 L98.1,415.4 L98.4,415.0 L98.7,414.7 L99.0,414.4 L99.3,414.1 L99.6,413.9 L99.9,413.7 L100.1,413.5 L100.4,413.4 L100.7,413.3 L101.0,413.2 L101.2,413.2 L101.4,413.3 L101.7,413.3 L106.7,415.7 L106.8,415.9 L107.0,416.0 L107.2,416.2 L107.3,416.4 L107.4,416.7 L107.5,417.0 L107.6,417.3 L107.6,417.7 L107.6,418.1 L107.6,418.5 L107.5,418.9 L107.5,419.3 L107.4,419.8 L107.2,420.2 L107.1,420.7 L107.0,421.2 L106.8,421.6 L106.6,422.1 L106.3,422.6 L106.1,423.0 L105.8,423.4 L105.6,423.8 L105.3,424.2 L105.0,424.6 L104.7,424.9 L104.4,425.2 L104.1,425.5 L103.8,425.7 L103.5,425.9 L103.3,426.1 L103.0,426.2 L102.7,426.3 L102.4,426.4 L102.2,426.4 L102.0,426.3 L101.8,426.3 L96.8,423.9 L96.5,423.7 L96.4,423.6 L96.2,423.4 L96.1,423.2 L96.0,422.9 L95.9,422.6 L95.8,422.3 L95.8,421.9 Z" fill="#fff" stroke="#000" stroke-width="1.15" stroke-linejoin="round" stroke-linecap="round"/>
<ellipse cx="99.2" cy="418.6" rx="2.6" ry="5.8" transform="rotate(25.0 99.2 418.6)" fill="#fff" stroke="#000" stroke-width="1.15"/>
<path d="M140,428.6 Q142,420 147.3,416.4 Q153,410 159.5,408.2 Q165,406.5 169.8,407.2 Q176,408.5 180,412.3 L184.8,415.8 Q188.5,421.8 190.9,429.1 Q193.5,437 196,441 Q198.5,444.8 200.4,441.5 L200.6,429.1 L212.7,435.2 L215.8,437.5 Q215.5,450 212.7,459.3 Q208,472 202.5,481.8 Q195,491 186.1,498.2 Q179,504 171.8,508.4 Q164,511.5 157.5,511.5 L147.3,510.5 Q141,508 137,504.3 L131,496.1 Q131,492 134,490 L139,486 Q143,482 145.2,477.7 Q146,471 144.2,465.5 Q142,459 140,453.2 Q137,446 135,441 Z" fill="#fff" stroke="#000" stroke-width="1.26" stroke-linejoin="round" stroke-linecap="round"/>
<path d="M145.2,427.6 Q148,438 151.4,449 Q155,460 155.5,471.6 Q154,482 149.3,490 Q146,496 142.2,500.2 Q144,506 147.3,510.5" fill="none" stroke="#000" stroke-width="1.03" stroke-linejoin="round" stroke-linecap="round"/>
<path d="M141.2,427.9 L153.3,433.9" fill="none" stroke="#000" stroke-width="1.03" stroke-linejoin="round" stroke-linecap="round"/>
<path d="M148.5,418.2 Q155,411 161.8,407.3" fill="none" stroke="#000" stroke-width="0.92" stroke-linejoin="round" stroke-linecap="round"/>
<ellipse cx="169.7" cy="437.6" rx="16.3" ry="24.8" transform="rotate(30.0 169.7 437.6)" fill="#fff" stroke="#000" stroke-width="1.15"/>
<ellipse cx="171.2" cy="438.2" rx="14.1" ry="23.1" transform="rotate(30.0 171.2 438.2)" fill="none" stroke="#000" stroke-width="1.03"/>
<ellipse cx="172.4" cy="438.8" rx="9.0" ry="16.0" transform="rotate(30.0 172.4 438.8)" fill="none" stroke="#000" stroke-width="1.15"/>
<circle cx="177.3" cy="460.3" r="2.8" fill="none" stroke="#000" stroke-width="0.9"/>
<path d="M165,487 L198,458.5 Q203,456.5 203,461.5 L170,490.5 Q164,494 165,487 Z" fill="none" stroke="#000" stroke-width="1.15" stroke-linejoin="round" stroke-linecap="round"/>
<path d="M168,487.5 L201,459.5" fill="none" stroke="#000" stroke-width="0.80" stroke-linejoin="round" stroke-linecap="round"/>
<line x1="250.0" y1="482.0" x2="261.0" y2="487.0" stroke="#000" stroke-width="1.15"/>
<path d="M215.1,481.3 L215.2,480.0 L215.4,478.5 L215.7,477.1 L216.1,475.6 L216.5,474.0 L217.1,472.5 L217.8,471.0 L218.5,469.5 L219.3,468.0 L220.2,466.6 L221.1,465.2 L222.1,463.9 L223.1,462.6 L224.2,461.4 L225.3,460.3 L226.4,459.4 L227.6,458.5 L228.8,457.7 L229.9,457.1 L231.0,456.5 L232.2,456.1 L233.2,455.9 L234.3,455.7 L235.3,455.7 L236.2,455.8 L237.1,456.1 L237.9,456.5 L251.9,463.5 L252.7,464.0 L253.4,464.6 L253.9,465.4 L254.4,466.3 L254.8,467.2 L255.2,468.3 L255.4,469.5 L255.5,470.7 L255.5,472.1 L255.4,473.4 L255.2,474.9 L254.9,476.4 L254.5,477.9 L254.1,479.4 L253.5,480.9 L252.8,482.4 L252.1,483.9 L251.3,485.4 L250.4,486.8 L249.5,488.2 L248.5,489.6 L247.5,490.8 L246.4,492.0 L245.3,493.1 L244.2,494.0 L243.0,494.9 L241.8,495.7 L240.7,496.3 L239.6,496.9 L238.4,497.3 L237.4,497.5 L236.3,497.7 L235.3,497.7 L234.4,497.6 L233.5,497.3 L232.7,496.9 L218.7,489.9 L217.9,489.4 L217.2,488.8 L216.7,488.0 L216.2,487.1 L215.8,486.1 L215.4,485.1 L215.2,483.9 L215.1,482.7 Z" fill="#fff" stroke="#000" stroke-width="1.15" stroke-linejoin="round" stroke-linecap="round"/>
<ellipse cx="228.3" cy="473.2" rx="10.4" ry="19.3" transform="rotate(30.0 228.3 473.2)" fill="none" stroke="#000" stroke-width="1.03"/>
<line x1="218.0" y1="487.7" x2="232.0" y2="494.7" stroke="#000" stroke-width="1.49"/>
<line x1="216.8" y1="485.8" x2="230.8" y2="492.8" stroke="#000" stroke-width="1.49"/>
<line x1="216.2" y1="483.4" x2="230.2" y2="490.4" stroke="#000" stroke-width="1.49"/>
<line x1="216.0" y1="480.5" x2="230.0" y2="487.5" stroke="#000" stroke-width="1.49"/>
<line x1="216.4" y1="477.3" x2="230.4" y2="484.3" stroke="#000" stroke-width="1.49"/>
<line x1="217.4" y1="474.0" x2="231.4" y2="481.0" stroke="#000" stroke-width="1.49"/>
<line x1="218.8" y1="470.6" x2="232.8" y2="477.6" stroke="#000" stroke-width="1.49"/>
<line x1="220.6" y1="467.3" x2="234.6" y2="474.3" stroke="#000" stroke-width="1.49"/>
<line x1="222.7" y1="464.3" x2="236.7" y2="471.3" stroke="#000" stroke-width="1.49"/>
<line x1="225.1" y1="461.6" x2="239.1" y2="468.6" stroke="#000" stroke-width="1.49"/>
<line x1="227.6" y1="459.5" x2="241.6" y2="466.5" stroke="#000" stroke-width="1.49"/>
<line x1="230.2" y1="458.0" x2="244.2" y2="465.0" stroke="#000" stroke-width="1.49"/>
<line x1="232.7" y1="457.1" x2="246.7" y2="464.1" stroke="#000" stroke-width="1.49"/>
<line x1="235.0" y1="457.0" x2="249.0" y2="464.0" stroke="#000" stroke-width="1.49"/>
<ellipse cx="242.3" cy="480.2" rx="10.4" ry="19.3" transform="rotate(30.0 242.3 480.2)" fill="#fff" stroke="#000" stroke-width="1.15"/>
<ellipse cx="242.3" cy="480.2" rx="8.8" ry="16.8" transform="rotate(30.0 242.3 480.2)" fill="none" stroke="#000" stroke-width="1.03"/>
<line x1="242.2" y1="463.3" x2="249.2" y2="466.8" stroke="#000" stroke-width="1.26"/>
<line x1="243.6" y1="466.2" x2="250.6" y2="469.7" stroke="#000" stroke-width="1.26"/>
<line x1="243.8" y1="470.3" x2="250.8" y2="473.8" stroke="#000" stroke-width="1.26"/>
<line x1="242.7" y1="475.0" x2="249.7" y2="478.5" stroke="#000" stroke-width="1.26"/>
<line x1="240.5" y1="479.9" x2="247.5" y2="483.4" stroke="#000" stroke-width="1.26"/>
<line x1="237.4" y1="484.2" x2="244.4" y2="487.7" stroke="#000" stroke-width="1.26"/>
<line x1="233.9" y1="487.5" x2="240.9" y2="491.0" stroke="#000" stroke-width="1.26"/>
<line x1="230.2" y1="489.4" x2="237.2" y2="492.9" stroke="#000" stroke-width="1.26"/>
<line x1="227.0" y1="489.6" x2="234.0" y2="493.1" stroke="#000" stroke-width="1.26"/>
<ellipse cx="242.3" cy="480.2" rx="8.8" ry="16.8" transform="rotate(30.0 242.3 480.2)" fill="none" stroke="#000" stroke-width="1.03"/>
<path d="M255,442 L262,432 L275,433 L280.5,440 L281.7,447.2 Q285,462 288.3,470 Q292,479 294,485 Q305,484 310,490 Q315,497 314,510 Q313,522 306,528 Q298,531 290,530 L282.7,528.6 Q277,527.5 273.2,524.8 Q268,521 267.5,517.3 L267.5,509.7 Q270,503 270.3,496.4 Q269,486 267.5,477.5 Q264,466 261.8,458.6 Q256,450 254.2,443.4 Z" fill="#fff" stroke="#000" stroke-width="1.26" stroke-linejoin="round" stroke-linecap="round"/>
<path d="M252.9,440.9 L253.0,440.0 L253.1,439.1 L253.3,438.1 L253.6,437.1 L253.9,436.2 L254.2,435.2 L254.7,434.3 L255.2,433.4 L255.7,432.5 L256.3,431.6 L256.9,430.8 L257.6,430.1 L258.3,429.4 L259.1,428.7 L259.8,428.2 L260.6,427.6 L261.3,427.2 L262.1,426.8 L262.9,426.6 L263.6,426.4 L264.4,426.2 L265.1,426.2 L265.8,426.2 L266.5,426.4 L267.2,426.6 L267.8,426.9 L278.3,432.9 L278.8,433.3 L279.3,433.7 L279.8,434.2 L280.2,434.8 L280.5,435.5 L280.8,436.2 L281.0,436.9 L281.1,437.8 L281.2,438.6 L281.2,439.5 L281.1,440.4 L281.0,441.4 L280.8,442.3 L280.6,443.3 L280.2,444.2 L279.9,445.2 L279.4,446.1 L278.9,447.0 L278.4,447.9 L277.8,448.8 L277.1,449.6 L276.5,450.3 L275.8,451.0 L275.1,451.7 L274.3,452.2 L273.5,452.8 L272.8,453.2 L272.0,453.6 L271.2,453.8 L270.4,454.0 L269.7,454.2 L269.0,454.2 L268.3,454.1 L267.6,454.0 L266.9,453.8 L266.3,453.5 L255.8,447.5 L255.3,447.1 L254.8,446.7 L254.3,446.2 L253.9,445.6 L253.6,444.9 L253.3,444.2 L253.1,443.5 L253.0,442.6 L252.9,441.8 Z" fill="#fff" stroke="#000" stroke-width="1.15" stroke-linejoin="round" stroke-linecap="round"/>
<ellipse cx="272.3" cy="443.2" rx="7.6" ry="11.9" transform="rotate(30.0 272.3 443.2)" fill="#fff" stroke="#000" stroke-width="1.15"/>
<ellipse cx="272.1" cy="443.5" rx="5.4" ry="9.3" transform="rotate(30.0 272.1 443.5)" fill="none" stroke="#000" stroke-width="1.15"/>
<ellipse cx="272.1" cy="443.5" rx="4.4" ry="7.6" transform="rotate(30.0 272.1 443.5)" fill="none" stroke="#000" stroke-width="0.92"/>
<path d="M264.5,456 Q272,474 279.5,493.5 Q283.5,496.5 287.5,491.5 Q281,472 275,455.5 Q270,451.5 264.5,456 Z" fill="none" stroke="#000" stroke-width="1.03" stroke-linejoin="round" stroke-linecap="round"/>
<path d="M267,460 L281,492" fill="none" stroke="#000" stroke-width="0.80" stroke-linejoin="round" stroke-linecap="round"/>
<ellipse cx="299.0" cy="508.0" rx="13.3" ry="24.0" transform="rotate(30.0 299.0 508.0)" fill="#fff" stroke="#000" stroke-width="1.15"/>
<ellipse cx="299.3" cy="508.8" rx="11.4" ry="20.6" transform="rotate(30.0 299.3 508.8)" fill="none" stroke="#000" stroke-width="1.03"/>
<circle cx="300.2" cy="525.6" r="1.3" fill="none" stroke="#000" stroke-width="0.8"/>
<circle cx="285.1" cy="524.5" r="1.3" fill="none" stroke="#000" stroke-width="0.8"/>
<circle cx="293.0" cy="496.1" r="1.3" fill="none" stroke="#000" stroke-width="0.8"/>
<circle cx="314.2" cy="494.9" r="1.3" fill="none" stroke="#000" stroke-width="0.8"/>
<line x1="295.0" y1="510.0" x2="312.0" y2="517.0" stroke="#000" stroke-width="1.15"/>
<path d="M310.3,530.5 L310.4,529.4 L310.5,528.2 L310.8,527.0 L311.1,525.8 L311.4,524.6 L311.9,523.4 L312.4,522.1 L313.0,520.9 L313.6,519.8 L314.3,518.6 L315.1,517.5 L315.9,516.4 L316.7,515.4 L317.6,514.5 L318.5,513.6 L319.4,512.8 L320.3,512.1 L321.3,511.5 L322.2,511.0 L323.1,510.6 L324.0,510.2 L324.9,510.0 L325.8,509.9 L326.6,509.9 L327.4,510.0 L328.1,510.3 L328.8,510.6 L370.1,534.5 L370.8,534.9 L371.3,535.4 L371.8,536.0 L372.2,536.7 L372.5,537.5 L372.8,538.4 L373.0,539.3 L373.1,540.4 L373.1,541.4 L373.0,542.5 L372.9,543.7 L372.6,544.9 L372.4,546.1 L372.0,547.3 L371.5,548.5 L371.0,549.8 L370.4,551.0 L369.8,552.1 L369.1,553.3 L368.3,554.4 L367.5,555.5 L366.7,556.5 L365.8,557.4 L364.9,558.3 L364.0,559.1 L363.1,559.8 L362.1,560.4 L361.2,560.9 L360.3,561.3 L359.4,561.6 L358.5,561.9 L357.6,562.0 L356.8,562.0 L356.1,561.9 L355.3,561.6 L354.6,561.3 L313.2,537.4 L312.6,537.0 L312.1,536.5 L311.6,535.9 L311.2,535.2 L310.9,534.4 L310.6,533.5 L310.4,532.6 L310.3,531.5 Z" fill="#fff" stroke="#000" stroke-width="1.15" stroke-linejoin="round" stroke-linecap="round"/>
<ellipse cx="362.4" cy="547.9" rx="8.5" ry="15.5" transform="rotate(30.0 362.4 547.9)" fill="#fff" stroke="#000" stroke-width="1.15"/>
<ellipse cx="362.6" cy="548.2" rx="5.6" ry="10.5" transform="rotate(30.0 362.6 548.2)" fill="none" stroke="#000" stroke-width="1.15"/>
<ellipse cx="362.8" cy="548.4" rx="4.2" ry="8.3" transform="rotate(30.0 362.8 548.4)" fill="none" stroke="#000" stroke-width="0.92"/>
<path d="M359.1,553.7 L359.0,553.5 L358.9,553.3 L358.7,553.0 L358.7,552.8 L358.6,552.5 L358.6,552.2 L358.5,551.9 L358.5,551.5 L358.5,551.2 L358.6,550.8 L358.6,550.4 L358.7,550.0 L358.8,549.6 L358.9,549.2 L359.1,548.8 L359.2,548.4 L359.4,548.0 L359.6,547.6 L359.8,547.2 L360.0,546.8 L360.3,546.4 L360.5,546.0 L360.8,545.7 L361.0,545.3 L361.3,545.0 L361.6,544.6 L361.9,544.3 L362.2,544.1 L362.5,543.8 L362.8,543.6 L363.1,543.3 L363.4,543.1 L363.7,543.0 L363.9,542.8 L364.2,542.7 L364.5,542.6 L364.8,542.6 L365.0,542.6 L365.3,542.6 L365.5,542.6" fill="none" stroke="#000" stroke-width="0.92" stroke-linejoin="round" stroke-linecap="round"/>
<line x1="366.0" y1="554.0" x2="377.0" y2="557.0" stroke="#000" stroke-width="1.15"/>
<path d="M373.5,554.6 Q376,545 383.3,542.3 Q389,539.5 395.7,539.2 Q402,539.5 406.8,541.7 Q413,544 416.6,548.5 L419,557 L432,566 L438,600 L430,622 L416.6,628.6 Q412,633 406.8,634.8 Q400,637.5 392,638.5 L377.2,638.5 Q369,637.5 366.1,634.8 Q363,632 364.2,629.8 Q366,627 367.3,624.9 Q372,620 376,616.3 Q379.5,611 379,606.4 Q379,601 378.4,596.6 Q376,591 374.7,586.7 Q371.5,581 371,576.8 Q370,571 370.4,567 Q371.5,560 373.5,554.6 Z" fill="#fff" stroke="#000" stroke-width="1.26" stroke-linejoin="round" stroke-linecap="round"/>
<path d="M374.5,562 L384,567 L417,551.5" fill="none" stroke="#000" stroke-width="1.03" stroke-linejoin="round" stroke-linecap="round"/>
<path d="M384,567 L384.5,571 L418,555.5" fill="none" stroke="#000" stroke-width="0.92" stroke-linejoin="round" stroke-linecap="round"/>
<path d="M383,545 Q395,541 410,546 Q415,549 416.6,552" fill="none" stroke="#000" stroke-width="0.92" stroke-linejoin="round" stroke-linecap="round"/>
<path d="M382.5,568 Q383,575 382.7,581.8 Q384,588 385.8,594 Q385.5,600 384,606.4 Q383,612 383.3,616.3 Q386,619 389.5,621.2" fill="none" stroke="#000" stroke-width="1.03" stroke-linejoin="round" stroke-linecap="round"/>
<path d="M376,631 Q382,624 389.5,621.2 L398,623" fill="none" stroke="#000" stroke-width="1.03" stroke-linejoin="round" stroke-linecap="round"/>
<ellipse cx="411.0" cy="594.5" rx="20.7" ry="40.4" transform="rotate(30.0 411.0 594.5)" fill="#fff" stroke="#000" stroke-width="1.15"/>
<ellipse cx="416.8" cy="597.8" rx="9.0" ry="36.8" transform="rotate(30.0 416.8 597.8)" fill="#fff" stroke="#000" stroke-width="1.15"/>
<ellipse cx="418.0" cy="599.0" rx="8.1" ry="33.1" transform="rotate(30.0 418.0 599.0)" fill="none" stroke="#000" stroke-width="0.92"/>
<ellipse cx="424.7" cy="602.5" rx="1.6" ry="3.2" transform="rotate(30.0 424.7 602.5)" fill="none" stroke="#000" stroke-width="0.92"/>
<ellipse cx="417.5" cy="613.5" rx="1.6" ry="3.2" transform="rotate(55.7 417.5 613.5)" fill="none" stroke="#000" stroke-width="0.92"/>
<ellipse cx="410.5" cy="621.5" rx="1.6" ry="3.2" transform="rotate(81.4 410.5 621.5)" fill="none" stroke="#000" stroke-width="0.92"/>
<ellipse cx="405.0" cy="625.1" rx="1.6" ry="3.2" transform="rotate(107.1 405.0 625.1)" fill="none" stroke="#000" stroke-width="0.92"/>
<ellipse cx="402.2" cy="623.5" rx="1.6" ry="3.2" transform="rotate(132.9 402.2 623.5)" fill="none" stroke="#000" stroke-width="0.92"/>
<ellipse cx="402.5" cy="616.9" rx="1.6" ry="3.2" transform="rotate(158.6 402.5 616.9)" fill="none" stroke="#000" stroke-width="0.92"/>
<ellipse cx="406.0" cy="606.8" rx="1.6" ry="3.2" transform="rotate(184.3 406.0 606.8)" fill="none" stroke="#000" stroke-width="0.92"/>
<ellipse cx="411.9" cy="595.1" rx="1.6" ry="3.2" transform="rotate(210.0 411.9 595.1)" fill="none" stroke="#000" stroke-width="0.92"/>
<ellipse cx="419.1" cy="584.1" rx="1.6" ry="3.2" transform="rotate(235.7 419.1 584.1)" fill="none" stroke="#000" stroke-width="0.92"/>
<ellipse cx="426.1" cy="576.1" rx="1.6" ry="3.2" transform="rotate(261.4 426.1 576.1)" fill="none" stroke="#000" stroke-width="0.92"/>
<ellipse cx="431.6" cy="572.5" rx="1.6" ry="3.2" transform="rotate(287.1 431.6 572.5)" fill="none" stroke="#000" stroke-width="0.92"/>
<ellipse cx="434.4" cy="574.1" rx="1.6" ry="3.2" transform="rotate(312.9 434.4 574.1)" fill="none" stroke="#000" stroke-width="0.92"/>
<ellipse cx="434.1" cy="580.7" rx="1.6" ry="3.2" transform="rotate(338.6 434.1 580.7)" fill="none" stroke="#000" stroke-width="0.92"/>
<ellipse cx="430.6" cy="590.8" rx="1.6" ry="3.2" transform="rotate(364.3 430.6 590.8)" fill="none" stroke="#000" stroke-width="0.92"/>
<ellipse cx="418.6" cy="599.2" rx="6.7" ry="27.2" transform="rotate(30.0 418.6 599.2)" fill="none" stroke="#000" stroke-width="0.92"/>
<path d="M406.1,620.8 L408.2,618.1 L407.7,617.5 Z" fill="#000" stroke="#000" stroke-width="0.69" stroke-linejoin="round" stroke-linecap="round"/>
<path d="M405.5,619.5 L407.5,617.2 L407.3,616.1 Z" fill="#000" stroke="#000" stroke-width="0.69" stroke-linejoin="round" stroke-linecap="round"/>
<path d="M405.4,617.4 L407.3,615.6 L407.4,614.1 Z" fill="#000" stroke="#000" stroke-width="0.69" stroke-linejoin="round" stroke-linecap="round"/>
<path d="M405.9,614.7 L407.5,613.5 L407.9,611.6 Z" fill="#000" stroke="#000" stroke-width="0.69" stroke-linejoin="round" stroke-linecap="round"/>
<path d="M406.8,611.4 L408.2,610.8 L408.9,608.6 Z" fill="#000" stroke="#000" stroke-width="0.69" stroke-linejoin="round" stroke-linecap="round"/>
<path d="M408.1,607.7 L409.2,607.7 L410.2,605.3 Z" fill="#000" stroke="#000" stroke-width="0.69" stroke-linejoin="round" stroke-linecap="round"/>
<path d="M409.9,603.7 L410.6,604.4 L411.8,601.8 Z" fill="#000" stroke="#000" stroke-width="0.69" stroke-linejoin="round" stroke-linecap="round"/>
<path d="M412.0,599.5 L412.3,600.8 L413.7,598.2 Z" fill="#000" stroke="#000" stroke-width="0.69" stroke-linejoin="round" stroke-linecap="round"/>
<path d="M414.3,595.3 L414.2,597.2 L415.8,594.6 Z" fill="#000" stroke="#000" stroke-width="0.69" stroke-linejoin="round" stroke-linecap="round"/>
<path d="M416.9,591.3 L416.4,593.7 L418.0,591.2 Z" fill="#000" stroke="#000" stroke-width="0.69" stroke-linejoin="round" stroke-linecap="round"/>
<path d="M419.5,587.6 L418.6,590.4 L420.2,588.1 Z" fill="#000" stroke="#000" stroke-width="0.69" stroke-linejoin="round" stroke-linecap="round"/>
<path d="M422.1,584.3 L420.8,587.4 L422.4,585.5 Z" fill="#000" stroke="#000" stroke-width="0.69" stroke-linejoin="round" stroke-linecap="round"/>
<path d="M424.5,581.6 L423.0,584.9 L424.5,583.3 Z" fill="#000" stroke="#000" stroke-width="0.69" stroke-linejoin="round" stroke-linecap="round"/>
<path d="M426.8,579.5 L425.0,582.9 L426.4,581.8 Z" fill="#000" stroke="#000" stroke-width="0.69" stroke-linejoin="round" stroke-linecap="round"/>
<path d="M428.8,578.2 L426.8,581.5 L428.0,580.9 Z" fill="#000" stroke="#000" stroke-width="0.69" stroke-linejoin="round" stroke-linecap="round"/>
<path d="M430.4,577.6 L428.3,580.8 L429.2,580.7 Z" fill="#000" stroke="#000" stroke-width="0.69" stroke-linejoin="round" stroke-linecap="round"/>
<ellipse cx="419.0" cy="599.5" rx="5.6" ry="22.8" transform="rotate(30.0 419.0 599.5)" fill="none" stroke="#000" stroke-width="0.92"/>
<rect x="420.0" y="608.9" width="6" height="6.8" fill="#fff" stroke="#000" stroke-width="0.9" transform="rotate(30 423.0 612.3)"/>
<rect x="410.3" y="618.4" width="6" height="6.8" fill="#fff" stroke="#000" stroke-width="0.9" transform="rotate(30 413.3 621.8)"/>
<rect x="407.9" y="613.0" width="6" height="6.8" fill="#fff" stroke="#000" stroke-width="0.9" transform="rotate(30 410.9 616.4)"/>
<rect x="414.6" y="596.8" width="6" height="6.8" fill="#fff" stroke="#000" stroke-width="0.9" transform="rotate(30 417.6 600.2)"/>
<rect x="425.4" y="581.9" width="6" height="6.8" fill="#fff" stroke="#000" stroke-width="0.9" transform="rotate(30 428.4 585.3)"/>
<rect x="432.1" y="579.6" width="6" height="6.8" fill="#fff" stroke="#000" stroke-width="0.9" transform="rotate(30 435.1 583.0)"/>
<rect x="429.7" y="591.6" width="6" height="6.8" fill="#fff" stroke="#000" stroke-width="0.9" transform="rotate(30 432.7 595.0)"/>
<ellipse cx="423.5" cy="602.5" rx="4.5" ry="18.4" transform="rotate(30.0 423.5 602.5)" fill="#fff" stroke="#000" stroke-width="1.03"/>
<path d="M425.9,615.4 L426.0,614.5 L426.1,613.5 L426.3,612.5 L426.5,611.4 L426.8,610.3 L427.2,609.2 L427.6,608.0 L428.0,606.9 L428.5,605.7 L429.1,604.6 L429.6,603.5 L430.2,602.4 L430.9,601.3 L431.5,600.3 L432.2,599.3 L432.9,598.4 L433.6,597.5 L434.3,596.8 L435.0,596.1 L435.7,595.5 L436.4,594.9 L437.0,594.5 L437.7,594.2 L438.3,593.9 L438.9,593.8 L439.4,593.8 L439.9,593.8 L440.4,594.0 L451.2,599.2 L451.6,599.5 L452.0,599.9 L452.3,600.3 L452.5,600.8 L452.7,601.5 L452.9,602.1 L452.9,602.9 L452.9,603.8 L452.9,604.7 L452.8,605.6 L452.6,606.6 L452.4,607.7 L452.1,608.8 L451.8,609.9 L451.4,611.0 L450.9,612.2 L450.5,613.3 L449.9,614.4 L449.4,615.5 L448.8,616.6 L448.2,617.6 L447.5,618.6 L446.9,619.6 L446.2,620.5 L445.5,621.3 L444.8,622.0 L444.1,622.7 L443.4,623.3 L442.7,623.8 L442.1,624.3 L441.4,624.6 L440.8,624.8 L440.3,625.0 L439.7,625.0 L439.2,624.9 L438.8,624.8 L427.6,620.0 L427.2,619.8 L426.9,619.4 L426.6,619.0 L426.3,618.4 L426.1,617.8 L426.0,617.1 L426.0,616.3 Z" fill="#fff" stroke="#000" stroke-width="1.15" stroke-linejoin="round" stroke-linecap="round"/>
<path d="M427.6,620.0 L427.3,619.8 L426.9,619.5 L426.7,619.1 L426.4,618.6 L426.2,618.1 L426.1,617.5 L426.0,616.9 L426.0,616.1 L426.0,615.3 L426.0,614.5 L426.1,613.6 L426.3,612.7 L426.5,611.8 L426.7,610.8 L427.0,609.8 L427.3,608.7 L427.7,607.7 L428.1,606.7 L428.6,605.6 L429.1,604.6 L429.6,603.6 L430.1,602.6 L430.7,601.6 L431.3,600.7 L431.9,599.8 L432.5,598.9 L433.1,598.1 L433.7,597.4 L434.4,596.7 L435.0,596.1 L435.6,595.5 L436.2,595.0 L436.8,594.6 L437.4,594.3 L438.0,594.0 L438.5,593.9 L439.0,593.8 L439.5,593.8 L439.9,593.8 L440.4,594.0" fill="none" stroke="#000" stroke-width="1.03" stroke-linejoin="round" stroke-linecap="round"/>
<path d="M430.0,621.1 L429.7,620.9 L429.3,620.6 L429.1,620.2 L428.8,619.7 L428.6,619.2 L428.5,618.6 L428.4,618.0 L428.4,617.2 L428.4,616.4 L428.4,615.6 L428.5,614.7 L428.7,613.8 L428.9,612.9 L429.1,611.9 L429.4,610.9 L429.7,609.8 L430.1,608.8 L430.5,607.8 L431.0,606.7 L431.5,605.7 L432.0,604.7 L432.5,603.7 L433.1,602.7 L433.7,601.8 L434.3,600.9 L434.9,600.0 L435.5,599.2 L436.1,598.5 L436.8,597.8 L437.4,597.2 L438.0,596.6 L438.6,596.1 L439.2,595.7 L439.8,595.4 L440.4,595.1 L440.9,595.0 L441.4,594.9 L441.9,594.9 L442.3,594.9 L442.8,595.1" fill="none" stroke="#000" stroke-width="1.03" stroke-linejoin="round" stroke-linecap="round"/>
<path d="M432.4,622.2 L432.1,622.0 L431.7,621.7 L431.5,621.3 L431.2,620.8 L431.0,620.3 L430.9,619.7 L430.8,619.1 L430.8,618.3 L430.8,617.5 L430.8,616.7 L430.9,615.8 L431.1,614.9 L431.3,614.0 L431.5,613.0 L431.8,612.0 L432.1,610.9 L432.5,609.9 L432.9,608.9 L433.4,607.8 L433.9,606.8 L434.4,605.8 L434.9,604.8 L435.5,603.8 L436.1,602.9 L436.7,602.0 L437.3,601.1 L437.9,600.3 L438.5,599.6 L439.2,598.9 L439.8,598.3 L440.4,597.7 L441.0,597.2 L441.6,596.8 L442.2,596.5 L442.8,596.2 L443.3,596.1 L443.8,596.0 L444.3,596.0 L444.7,596.0 L445.2,596.2" fill="none" stroke="#000" stroke-width="1.03" stroke-linejoin="round" stroke-linecap="round"/>
<path d="M434.8,623.3 L434.5,623.1 L434.1,622.8 L433.9,622.4 L433.6,621.9 L433.4,621.4 L433.3,620.8 L433.2,620.2 L433.2,619.4 L433.2,618.6 L433.2,617.8 L433.3,616.9 L433.5,616.0 L433.7,615.1 L433.9,614.1 L434.2,613.1 L434.5,612.0 L434.9,611.0 L435.3,610.0 L435.8,608.9 L436.3,607.9 L436.8,606.9 L437.3,605.9 L437.9,604.9 L438.5,604.0 L439.1,603.1 L439.7,602.2 L440.3,601.4 L440.9,600.7 L441.6,600.0 L442.2,599.4 L442.8,598.8 L443.4,598.3 L444.0,597.9 L444.6,597.6 L445.2,597.3 L445.7,597.2 L446.2,597.1 L446.7,597.1 L447.1,597.1 L447.6,597.3" fill="none" stroke="#000" stroke-width="1.03" stroke-linejoin="round" stroke-linecap="round"/>
<path d="M437.2,624.4 L436.9,624.2 L436.5,623.9 L436.3,623.5 L436.0,623.0 L435.8,622.5 L435.7,621.9 L435.6,621.3 L435.6,620.5 L435.6,619.7 L435.6,618.9 L435.7,618.0 L435.9,617.1 L436.1,616.2 L436.3,615.2 L436.6,614.2 L436.9,613.1 L437.3,612.1 L437.7,611.1 L438.2,610.0 L438.7,609.0 L439.2,608.0 L439.7,607.0 L440.3,606.0 L440.9,605.1 L441.5,604.2 L442.1,603.3 L442.7,602.5 L443.3,601.8 L444.0,601.1 L444.6,600.5 L445.2,599.9 L445.8,599.4 L446.4,599.0 L447.0,598.7 L447.6,598.4 L448.1,598.3 L448.6,598.2 L449.1,598.2 L449.5,598.2 L450.0,598.4" fill="none" stroke="#000" stroke-width="1.03" stroke-linejoin="round" stroke-linecap="round"/>
<ellipse cx="445.0" cy="612.0" rx="5.5" ry="14.2" transform="rotate(26.0 445.0 612.0)" fill="#fff" stroke="#000" stroke-width="1.15"/>
<path d="M444.5,599.5 L457.5,606.2 L452.0,621.0 L448.3,626.7 L441.7,623.3 Z" fill="#fff" stroke="#000" stroke-width="1.15" stroke-linejoin="round" stroke-linecap="round"/>
<path d="M457.5,606.2 L475.8,619.2 L465.8,632.5 L448.3,626.7 Z" fill="#fff" stroke="#000" stroke-width="1.15" stroke-linejoin="round" stroke-linecap="round"/>
<path d="M455.9,607.8 L456.2,607.9 L456.6,608.0 L456.9,608.2 L457.1,608.4 L457.4,608.8 L457.6,609.1 L457.7,609.5 L457.9,610.0 L457.9,610.6 L458.0,611.1 L458.0,611.8 L457.9,612.4 L457.8,613.1 L457.7,613.8 L457.5,614.6 L457.3,615.3 L457.1,616.1 L456.8,616.9 L456.5,617.7 L456.2,618.4 L455.8,619.2 L455.4,620.0 L455.0,620.7 L454.5,621.4 L454.1,622.1 L453.6,622.7 L453.1,623.3 L452.6,623.8 L452.1,624.3 L451.6,624.8 L451.2,625.2 L450.7,625.5 L450.2,625.7 L449.8,626.0 L449.3,626.1 L448.9,626.2 L448.5,626.2 L448.1,626.1 L447.8,626.0 L447.5,625.8" fill="none" stroke="#000" stroke-width="1.15" stroke-linejoin="round" stroke-linecap="round"/>
<path d="M464.5,630.9 L464.6,630.4 L464.6,629.8 L464.7,629.1 L464.8,628.5 L465.0,627.8 L465.2,627.2 L465.4,626.5 L465.7,625.8 L465.9,625.1 L466.3,624.4 L466.6,623.8 L467.0,623.1 L467.4,622.5 L467.8,621.9 L468.2,621.3 L468.6,620.8 L469.0,620.3 L469.4,619.8 L469.9,619.4 L470.3,619.1 L470.7,618.8 L471.1,618.5 L471.6,618.3 L471.9,618.2 L472.3,618.1 L472.6,618.1 L473.0,618.2 L473.3,618.3 L473.5,618.4 L490.0,629.2 L490.2,629.4 L490.5,629.6 L490.7,629.9 L490.8,630.2 L491.0,630.6 L491.1,630.9 L491.2,631.4 L491.2,631.8 L491.2,632.2 L491.2,632.7 L491.2,633.2 L491.1,633.7 L491.0,634.2 L490.8,634.7 L490.7,635.2 L490.5,635.7 L490.2,636.2 L490.0,636.7 L489.7,637.1 L489.4,637.6 L489.1,638.0 L488.8,638.4 L488.4,638.8 L488.1,639.1 L487.7,639.4 L487.4,639.7 L487.0,639.9 L486.6,640.1 L486.3,640.2 L485.9,640.3 L485.6,640.4 L485.2,640.4 L484.9,640.4 L484.6,640.3 L466.0,633.8 L465.7,633.7 L465.5,633.6 L465.2,633.3 L465.0,633.1 L464.9,632.7 L464.7,632.3 L464.6,631.9 L464.6,631.4 Z" fill="#fff" stroke="#000" stroke-width="1.15" stroke-linejoin="round" stroke-linecap="round"/>
<path d="M473.3,618.3 L473.5,618.4 L473.7,618.6 L473.9,618.9 L474.1,619.1 L474.2,619.5 L474.3,619.8 L474.4,620.2 L474.5,620.7 L474.5,621.1 L474.5,621.7 L474.4,622.2 L474.3,622.7 L474.2,623.3 L474.1,623.9 L473.9,624.5 L473.7,625.1 L473.5,625.7 L473.3,626.3 L473.0,627.0 L472.7,627.6 L472.4,628.2 L472.1,628.8 L471.8,629.3 L471.4,629.9 L471.0,630.4 L470.7,630.9 L470.3,631.4 L469.9,631.8 L469.5,632.2 L469.1,632.6 L468.7,632.9 L468.4,633.2 L468.0,633.4 L467.6,633.6 L467.3,633.7 L466.9,633.8 L466.6,633.9 L466.3,633.9 L466.0,633.8 L465.7,633.7" fill="none" stroke="#000" stroke-width="1.03" stroke-linejoin="round" stroke-linecap="round"/>
<path d="M475.9,620.0 L476.1,620.1 L476.3,620.3 L476.5,620.5 L476.7,620.8 L476.8,621.1 L476.9,621.5 L477.0,621.9 L477.1,622.3 L477.1,622.8 L477.1,623.2 L477.1,623.8 L477.0,624.3 L476.9,624.8 L476.8,625.4 L476.6,626.0 L476.4,626.6 L476.2,627.2 L476.0,627.8 L475.8,628.4 L475.5,628.9 L475.2,629.5 L474.9,630.1 L474.6,630.6 L474.2,631.2 L473.9,631.7 L473.5,632.1 L473.1,632.6 L472.7,633.0 L472.4,633.4 L472.0,633.7 L471.6,634.0 L471.2,634.3 L470.9,634.5 L470.5,634.7 L470.2,634.8 L469.8,634.9 L469.5,634.9 L469.2,634.9 L468.9,634.9 L468.6,634.8" fill="none" stroke="#000" stroke-width="1.03" stroke-linejoin="round" stroke-linecap="round"/>
<path d="M478.4,621.7 L478.7,621.8 L478.9,622.0 L479.1,622.2 L479.3,622.5 L479.4,622.8 L479.5,623.1 L479.6,623.5 L479.7,623.9 L479.7,624.4 L479.7,624.8 L479.7,625.3 L479.6,625.9 L479.6,626.4 L479.4,626.9 L479.3,627.5 L479.1,628.0 L479.0,628.6 L478.7,629.2 L478.5,629.8 L478.2,630.3 L478.0,630.9 L477.7,631.4 L477.3,631.9 L477.0,632.4 L476.7,632.9 L476.3,633.3 L476.0,633.8 L475.6,634.2 L475.2,634.5 L474.8,634.8 L474.5,635.1 L474.1,635.4 L473.8,635.6 L473.4,635.7 L473.1,635.9 L472.7,635.9 L472.4,636.0 L472.1,636.0 L471.8,635.9 L471.6,635.8" fill="none" stroke="#000" stroke-width="1.03" stroke-linejoin="round" stroke-linecap="round"/>
<path d="M481.0,623.4 L481.3,623.5 L481.5,623.7 L481.7,623.9 L481.9,624.2 L482.0,624.5 L482.1,624.8 L482.2,625.2 L482.3,625.6 L482.4,626.0 L482.4,626.4 L482.3,626.9 L482.3,627.4 L482.2,627.9 L482.1,628.4 L482.0,629.0 L481.8,629.5 L481.7,630.1 L481.5,630.6 L481.2,631.1 L481.0,631.7 L480.7,632.2 L480.4,632.7 L480.1,633.2 L479.8,633.7 L479.5,634.1 L479.1,634.6 L478.8,635.0 L478.4,635.3 L478.1,635.7 L477.7,636.0 L477.4,636.3 L477.0,636.5 L476.6,636.7 L476.3,636.8 L476.0,636.9 L475.6,637.0 L475.3,637.0 L475.0,637.0 L474.7,636.9 L474.5,636.8" fill="none" stroke="#000" stroke-width="1.03" stroke-linejoin="round" stroke-linecap="round"/>
<path d="M483.6,625.1 L483.9,625.2 L484.1,625.4 L484.3,625.6 L484.5,625.9 L484.6,626.1 L484.8,626.5 L484.9,626.8 L484.9,627.2 L485.0,627.6 L485.0,628.0 L485.0,628.5 L485.0,629.0 L484.9,629.5 L484.8,630.0 L484.7,630.5 L484.5,631.0 L484.4,631.5 L484.2,632.0 L484.0,632.5 L483.7,633.0 L483.5,633.5 L483.2,634.0 L482.9,634.5 L482.6,634.9 L482.3,635.4 L482.0,635.8 L481.6,636.2 L481.3,636.5 L480.9,636.8 L480.6,637.1 L480.2,637.4 L479.9,637.6 L479.5,637.8 L479.2,637.9 L478.8,638.0 L478.5,638.1 L478.2,638.1 L477.9,638.0 L477.6,638.0 L477.4,637.9" fill="none" stroke="#000" stroke-width="1.03" stroke-linejoin="round" stroke-linecap="round"/>
<path d="M486.2,626.8 L486.5,626.9 L486.7,627.1 L486.9,627.3 L487.1,627.5 L487.2,627.8 L487.4,628.1 L487.5,628.5 L487.6,628.8 L487.6,629.2 L487.6,629.6 L487.6,630.1 L487.6,630.5 L487.6,631.0 L487.5,631.5 L487.4,632.0 L487.2,632.5 L487.1,632.9 L486.9,633.4 L486.7,633.9 L486.5,634.4 L486.2,634.9 L486.0,635.3 L485.7,635.8 L485.4,636.2 L485.1,636.6 L484.8,637.0 L484.5,637.4 L484.1,637.7 L483.8,638.0 L483.4,638.2 L483.1,638.5 L482.8,638.7 L482.4,638.8 L482.1,639.0 L481.7,639.1 L481.4,639.1 L481.1,639.1 L480.8,639.1 L480.5,639.0 L480.3,638.9" fill="none" stroke="#000" stroke-width="1.03" stroke-linejoin="round" stroke-linecap="round"/>
<path d="M488.8,628.4 L489.1,628.6 L489.3,628.8 L489.5,629.0 L489.7,629.2 L489.8,629.5 L490.0,629.8 L490.1,630.1 L490.2,630.5 L490.2,630.9 L490.3,631.2 L490.3,631.7 L490.3,632.1 L490.2,632.5 L490.2,633.0 L490.1,633.5 L489.9,633.9 L489.8,634.4 L489.6,634.9 L489.4,635.3 L489.2,635.8 L489.0,636.2 L488.8,636.7 L488.5,637.1 L488.2,637.5 L487.9,637.9 L487.6,638.2 L487.3,638.6 L487.0,638.9 L486.6,639.1 L486.3,639.4 L486.0,639.6 L485.6,639.8 L485.3,639.9 L485.0,640.0 L484.6,640.1 L484.3,640.2 L484.0,640.2 L483.7,640.1 L483.5,640.1 L483.2,640.0" fill="none" stroke="#000" stroke-width="1.03" stroke-linejoin="round" stroke-linecap="round"/>
<ellipse cx="487.0" cy="634.6" rx="3.6" ry="6.2" transform="rotate(26.0 487.0 634.6)" fill="#fff" stroke="#000" stroke-width="1.15"/>
<ellipse cx="487.3" cy="634.9" rx="2.2" ry="3.8" transform="rotate(26.0 487.3 634.9)" fill="none" stroke="#000" stroke-width="0.92"/>
<ellipse cx="487.5" cy="635.0" rx="1.2" ry="2.2" transform="rotate(26.0 487.5 635.0)" fill="none" stroke="#000" stroke-width="0.80"/>
<path d="M455.8,611.3 L465.8,616.8 L465.5,619.2 L455.5,613.8 Z" fill="none" stroke="#000" stroke-width="1.03" stroke-linejoin="round" stroke-linecap="round"/>
<line x1="455.0" y1="597.9" x2="460.0" y2="614.2" stroke="#000" stroke-width="1.03"/>
<path d="M455.0,597.9 L476.7,610.0 L473.3,597.5" fill="none" stroke="#000" stroke-width="1.15" stroke-linejoin="round" stroke-linecap="round"/>
<path d="M466,587.5 Q470,584 477,585.5 L478,590 Q472,593 467,592.5 Z" fill="#fff" stroke="#000" stroke-width="1.15" stroke-linejoin="round" stroke-linecap="round"/>
<line x1="495.0" y1="570.0" x2="474.1" y2="587.3" stroke="#000" stroke-width="1.15"/>
<path d="M429.4,515.3 L429.4,515.0 L429.4,514.8 L429.4,514.5 L429.5,514.2 L429.6,513.9 L429.7,513.6 L429.8,513.3 L430.1,512.7 L430.3,512.5 L430.5,512.2 L430.7,512.0 L430.9,511.8 L431.1,511.6 L431.3,511.4 L431.5,511.3 L431.8,511.1 L440.8,506.6 L441.0,506.6 L441.2,506.5 L441.5,506.4 L441.7,506.4 L441.9,506.4 L442.1,506.4 L442.3,506.5 L442.5,506.5 L442.7,506.6 L442.9,506.8 L443.0,506.9 L443.2,507.1 L443.3,507.3 L443.4,507.5 L443.5,507.7 L443.6,507.9 L443.6,508.2 L443.6,508.5 L443.6,508.8 L443.6,509.1 L443.6,509.3 L443.6,509.6 L443.5,509.9 L443.4,510.2 L443.3,510.5 L443.2,510.8 L442.9,511.4 L442.7,511.6 L442.5,511.9 L442.3,512.1 L442.1,512.3 L441.9,512.5 L441.7,512.7 L441.5,512.8 L441.2,513.0 L432.2,517.5 L432.0,517.5 L431.8,517.6 L431.5,517.7 L431.3,517.7 L431.1,517.7 L430.9,517.7 L430.7,517.6 L430.5,517.6 L430.3,517.5 L430.1,517.3 L430.0,517.2 L429.8,517.0 L429.7,516.8 L429.6,516.6 L429.5,516.4 L429.4,516.1 L429.4,515.9 L429.4,515.6 Z" fill="#fff" stroke="#000" stroke-width="1.15" stroke-linejoin="round" stroke-linecap="round"/>
<ellipse cx="432.0" cy="514.3" rx="2.4" ry="3.6" transform="rotate(25.0 432.0 514.3)" fill="#fff" stroke="#000" stroke-width="1.15"/>
<line x1="438.2" y1="517.0" x2="438.2" y2="588.0" stroke="#000" stroke-width="1.15"/>
<line x1="439.0" y1="514.7" x2="453.7" y2="525.3" stroke="#000" stroke-width="1.15"/>
<ellipse cx="456.3" cy="500.2" rx="3.4" ry="5.2" transform="rotate(30.0 456.3 500.2)" fill="#fff" stroke="#000" stroke-width="0.92"/>
<ellipse cx="454.2" cy="501.4" rx="3.4" ry="5.2" transform="rotate(30.0 454.2 501.4)" fill="#fff" stroke="#000" stroke-width="0.92"/>
<ellipse cx="452.1" cy="502.7" rx="3.4" ry="5.2" transform="rotate(30.0 452.1 502.7)" fill="#fff" stroke="#000" stroke-width="0.92"/>
<ellipse cx="449.9" cy="503.9" rx="3.4" ry="5.2" transform="rotate(30.0 449.9 503.9)" fill="#fff" stroke="#000" stroke-width="0.92"/>
<ellipse cx="447.8" cy="505.2" rx="3.4" ry="5.2" transform="rotate(30.0 447.8 505.2)" fill="#fff" stroke="#000" stroke-width="0.92"/>
<ellipse cx="447.8" cy="505.2" rx="2.3" ry="3.7" transform="rotate(30.0 447.8 505.2)" fill="none" stroke="#000" stroke-width="0.92"/>
<ellipse cx="447.8" cy="505.2" rx="1.1" ry="1.9" transform="rotate(30.0 447.8 505.2)" fill="none" stroke="#000" stroke-width="0.80"/>
<line x1="455.2" y1="507.1" x2="469.7" y2="515.0" stroke="#000" stroke-width="1.15"/>
<path d="M524.3,659.8 L523.4,661.3 L527.0,665.0 L525.8,666.7 L521.7,663.7 L520.6,665.1 L519.5,666.4 L521.7,671.6 L520.3,673.0 L517.5,668.3 L516.3,669.4 L515.0,670.5 L515.7,676.8 L514.2,677.8 L512.9,671.9 L511.5,672.6 L510.1,673.3 L509.4,680.3 L507.9,680.9 L508.0,674.0 L506.7,674.4 L505.3,674.6 L503.1,681.9 L501.7,681.9 L503.3,674.7 L502.1,674.6 L500.9,674.4 L497.3,681.4 L496.1,681.0 L499.1,673.8 L498.1,673.3 L497.1,672.6 L492.5,678.9 L491.5,678.0 L495.7,671.4 L495.0,670.5 L494.2,669.5 L488.8,674.5 L488.2,673.2 L493.3,667.7 L492.9,666.4 L492.5,665.1 L486.6,668.6 L486.4,667.0 L492.1,662.8 L492.0,661.3 L491.9,659.8 L486.1,661.6 L486.2,659.8 L492.1,657.3 L492.3,655.6 L492.7,654.0 L487.2,653.9 L487.7,652.0 L493.4,651.3 L494.0,649.7 L494.6,648.0 L489.9,646.0 L490.8,644.2 L495.8,645.4 L496.7,643.8 L497.6,642.3 L494.0,638.6 L495.2,636.9 L499.3,639.9 L500.4,638.5 L501.5,637.2 L499.3,632.0 L500.7,630.6 L503.5,635.3 L504.7,634.2 L506.0,633.1 L505.3,626.8 L506.8,625.8 L508.1,631.7 L509.5,631.0 L510.9,630.3 L511.6,623.3 L513.1,622.7 L513.0,629.6 L514.3,629.2 L515.7,629.0 L517.9,621.7 L519.3,621.7 L517.7,628.9 L518.9,629.0 L520.1,629.2 L523.7,622.2 L524.9,622.6 L521.9,629.8 L522.9,630.3 L523.9,631.0 L528.5,624.7 L529.5,625.6 L525.3,632.2 L526.0,633.1 L526.8,634.1 L532.2,629.1 L532.8,630.4 L527.7,635.9 L528.1,637.2 L528.5,638.5 L534.4,635.0 L534.6,636.6 L528.9,640.8 L529.0,642.3 L529.1,643.8 L534.9,642.0 L534.8,643.8 L528.9,646.3 L528.7,648.0 L528.3,649.6 L533.8,649.7 L533.3,651.6 L527.6,652.3 L527.0,653.9 L526.4,655.6 L531.1,657.6 L530.2,659.4 L525.2,658.2 Z" fill="#fff" stroke="#000" stroke-width="1.03" stroke-linejoin="round" stroke-linecap="round"/>
<path d="M526.1,660.6 L525.2,662.2 L528.8,665.9 L527.6,667.6 L523.6,664.5 L522.5,665.9 L521.3,667.2 L523.6,672.4 L522.2,673.8 L519.4,669.2 L518.1,670.3 L516.8,671.3 L517.6,677.6 L516.1,678.6 L514.7,672.7 L513.3,673.5 L512.0,674.1 L511.2,681.1 L509.7,681.7 L509.8,674.9 L508.5,675.2 L507.2,675.4 L504.9,682.7 L503.5,682.8 L505.2,675.5 L503.9,675.4 L502.7,675.2 L499.2,682.2 L497.9,681.8 L501.0,674.6 L499.9,674.1 L499.0,673.5 L494.3,679.7 L493.3,678.8 L497.6,672.2 L496.8,671.3 L496.1,670.3 L490.7,675.4 L490.0,674.1 L495.2,668.5 L494.7,667.2 L494.3,665.9 L488.5,669.5 L488.2,667.9 L493.9,663.7 L493.8,662.2 L493.8,660.6 L487.9,662.4 L488.1,660.6 L493.9,658.1 L494.2,656.5 L494.5,654.8 L489.1,654.7 L489.6,652.8 L495.2,652.2 L495.8,650.5 L496.4,648.8 L491.8,646.8 L492.6,645.0 L497.7,646.3 L498.5,644.7 L499.5,643.1 L495.9,639.4 L497.0,637.7 L501.1,640.8 L502.2,639.4 L503.4,638.0 L501.1,632.8 L502.5,631.4 L505.3,636.1 L506.6,635.0 L507.9,634.0 L507.1,627.6 L508.6,626.6 L510.0,632.6 L511.3,631.8 L512.7,631.2 L513.4,624.1 L515.0,623.6 L514.8,630.4 L516.2,630.0 L517.5,629.8 L519.7,622.6 L521.2,622.5 L519.5,629.7 L520.7,629.8 L521.9,630.0 L525.5,623.1 L526.8,623.5 L523.7,630.6 L524.7,631.2 L525.7,631.8 L530.4,625.6 L531.4,626.4 L527.1,633.0 L527.9,634.0 L528.6,635.0 L534.0,629.9 L534.7,631.2 L529.5,636.8 L530.0,638.0 L530.4,639.4 L536.2,635.8 L536.5,637.4 L530.7,641.6 L530.9,643.1 L530.9,644.6 L536.7,642.9 L536.6,644.7 L530.7,647.2 L530.5,648.8 L530.2,650.5 L535.6,650.6 L535.1,652.5 L529.5,653.1 L528.9,654.8 L528.2,656.4 L532.9,658.4 L532.0,660.3 L527.0,659.0 Z" fill="#fff" stroke="none" stroke-width="0.00" stroke-linejoin="round" stroke-linecap="round"/>
<path d="M528.0,661.4 L527.0,663.0 L530.6,666.7 L529.5,668.4 L525.4,665.3 L524.3,666.7 L523.1,668.1 L525.4,673.3 L524.0,674.7 L521.2,670.0 L519.9,671.1 L518.6,672.1 L519.4,678.5 L517.9,679.5 L516.5,673.5 L515.2,674.3 L513.8,674.9 L513.1,682.0 L511.5,682.5 L511.7,675.7 L510.3,676.1 L509.0,676.3 L506.8,683.5 L505.3,683.6 L507.0,676.4 L505.8,676.3 L504.6,676.1 L501.0,683.0 L499.7,682.6 L502.8,675.5 L501.8,674.9 L500.8,674.3 L496.1,680.5 L495.1,679.7 L499.4,673.1 L498.6,672.1 L497.9,671.1 L492.5,676.2 L491.8,674.9 L497.0,669.3 L496.5,668.1 L496.1,666.7 L490.3,670.3 L490.0,668.7 L495.8,664.5 L495.6,663.0 L495.6,661.5 L489.8,663.2 L489.9,661.4 L495.8,658.9 L496.0,657.3 L496.3,655.6 L490.9,655.5 L491.4,653.6 L497.0,653.0 L497.6,651.3 L498.3,649.7 L493.6,647.7 L494.5,645.8 L499.5,647.1 L500.4,645.5 L501.3,643.9 L497.7,640.2 L498.9,638.5 L502.9,641.6 L504.0,640.2 L505.2,638.9 L502.9,633.7 L504.3,632.3 L507.1,636.9 L508.4,635.8 L509.7,634.8 L508.9,628.5 L510.4,627.5 L511.8,633.4 L513.2,632.6 L514.5,632.0 L515.3,625.0 L516.8,624.4 L516.7,631.2 L518.0,630.9 L519.3,630.7 L521.6,623.4 L523.0,623.3 L521.3,630.6 L522.6,630.7 L523.8,630.9 L527.3,623.9 L528.6,624.3 L525.5,631.5 L526.6,632.0 L527.5,632.6 L532.2,626.4 L533.2,627.3 L528.9,633.9 L529.7,634.8 L530.4,635.8 L535.8,630.7 L536.5,632.0 L531.3,637.6 L531.8,638.9 L532.2,640.2 L538.0,636.6 L538.3,638.2 L532.6,642.4 L532.7,643.9 L532.7,645.5 L538.6,643.7 L538.4,645.5 L532.6,648.0 L532.3,649.6 L532.0,651.3 L537.4,651.4 L536.9,653.3 L531.3,653.9 L530.7,655.6 L530.1,657.3 L534.7,659.3 L533.9,661.1 L528.8,659.8 Z" fill="#fff" stroke="none" stroke-width="0.00" stroke-linejoin="round" stroke-linecap="round"/>
<path d="M529.8,662.3 L528.9,663.8 L532.5,667.5 L531.3,669.2 L527.2,666.2 L526.1,667.6 L525.0,668.9 L527.2,674.1 L525.8,675.5 L523.0,670.8 L521.8,671.9 L520.5,673.0 L521.2,679.3 L519.7,680.3 L518.4,674.4 L517.0,675.1 L515.6,675.8 L514.9,682.8 L513.4,683.4 L513.5,676.5 L512.2,676.9 L510.8,677.1 L508.6,684.4 L507.2,684.4 L508.8,677.2 L507.6,677.1 L506.4,676.9 L502.8,683.9 L501.6,683.5 L504.6,676.3 L503.6,675.8 L502.6,675.1 L498.0,681.4 L497.0,680.5 L501.2,673.9 L500.5,673.0 L499.7,672.0 L494.3,677.0 L493.7,675.7 L498.8,670.2 L498.4,668.9 L498.0,667.6 L492.1,671.1 L491.9,669.5 L497.6,665.3 L497.5,663.8 L497.4,662.3 L491.6,664.1 L491.7,662.3 L497.6,659.8 L497.8,658.1 L498.2,656.5 L492.7,656.4 L493.2,654.5 L498.9,653.8 L499.5,652.2 L500.1,650.5 L495.4,648.5 L496.3,646.7 L501.3,647.9 L502.2,646.3 L503.1,644.8 L499.5,641.1 L500.7,639.4 L504.8,642.4 L505.9,641.0 L507.0,639.7 L504.8,634.5 L506.2,633.1 L509.0,637.8 L510.2,636.7 L511.5,635.6 L510.8,629.3 L512.3,628.3 L513.6,634.2 L515.0,633.5 L516.4,632.8 L517.1,625.8 L518.6,625.2 L518.5,632.1 L519.8,631.7 L521.2,631.5 L523.4,624.2 L524.8,624.2 L523.2,631.4 L524.4,631.5 L525.6,631.7 L529.2,624.7 L530.4,625.1 L527.4,632.3 L528.4,632.8 L529.4,633.5 L534.0,627.2 L535.0,628.1 L530.8,634.7 L531.5,635.6 L532.3,636.6 L537.7,631.6 L538.3,632.9 L533.2,638.4 L533.6,639.7 L534.0,641.0 L539.9,637.5 L540.1,639.1 L534.4,643.3 L534.5,644.8 L534.6,646.3 L540.4,644.5 L540.3,646.3 L534.4,648.8 L534.2,650.5 L533.8,652.1 L539.3,652.2 L538.8,654.1 L533.1,654.8 L532.5,656.4 L531.9,658.1 L536.6,660.1 L535.7,661.9 L530.7,660.7 Z" fill="#fff" stroke="none" stroke-width="0.00" stroke-linejoin="round" stroke-linecap="round"/>
<path d="M531.6,663.1 L530.7,664.7 L534.3,668.4 L533.1,670.1 L529.1,667.0 L528.0,668.4 L526.8,669.7 L529.1,674.9 L527.7,676.3 L524.9,671.7 L523.6,672.8 L522.3,673.8 L523.1,680.1 L521.6,681.1 L520.2,675.2 L518.8,676.0 L517.5,676.6 L516.7,683.6 L515.2,684.2 L515.3,677.4 L514.0,677.7 L512.7,677.9 L510.4,685.2 L509.0,685.3 L510.7,678.0 L509.4,677.9 L508.2,677.7 L504.7,684.7 L503.4,684.3 L506.5,677.1 L505.4,676.6 L504.5,676.0 L499.8,682.2 L498.8,681.3 L503.1,674.7 L502.3,673.8 L501.6,672.8 L496.2,677.9 L495.5,676.6 L500.7,671.0 L500.2,669.7 L499.8,668.4 L494.0,672.0 L493.7,670.4 L499.4,666.2 L499.3,664.7 L499.3,663.1 L493.4,664.9 L493.6,663.1 L499.4,660.6 L499.7,659.0 L500.0,657.3 L494.6,657.2 L495.1,655.3 L500.7,654.7 L501.3,653.0 L501.9,651.3 L497.3,649.3 L498.1,647.5 L503.2,648.8 L504.0,647.2 L505.0,645.6 L501.4,641.9 L502.5,640.2 L506.6,643.3 L507.7,641.9 L508.9,640.5 L506.6,635.3 L508.0,633.9 L510.8,638.6 L512.1,637.5 L513.4,636.5 L512.6,630.1 L514.1,629.1 L515.5,635.1 L516.8,634.3 L518.2,633.7 L518.9,626.6 L520.5,626.1 L520.3,632.9 L521.7,632.5 L523.0,632.3 L525.2,625.1 L526.7,625.0 L525.0,632.2 L526.2,632.3 L527.4,632.5 L531.0,625.6 L532.3,626.0 L529.2,633.1 L530.2,633.7 L531.2,634.3 L535.9,628.1 L536.9,628.9 L532.6,635.5 L533.4,636.5 L534.1,637.5 L539.5,632.4 L540.2,633.7 L535.0,639.3 L535.5,640.5 L535.9,641.9 L541.7,638.3 L542.0,639.9 L536.2,644.1 L536.4,645.6 L536.4,647.1 L542.2,645.4 L542.1,647.2 L536.2,649.7 L536.0,651.3 L535.7,653.0 L541.1,653.1 L540.6,655.0 L535.0,655.6 L534.4,657.3 L533.7,658.9 L538.4,660.9 L537.5,662.8 L532.5,661.5 Z" fill="#fff" stroke="none" stroke-width="0.00" stroke-linejoin="round" stroke-linecap="round"/>
<path d="M533.5,663.9 L532.5,665.5 L536.1,669.2 L535.0,670.9 L530.9,667.8 L529.8,669.2 L528.6,670.6 L530.9,675.8 L529.5,677.2 L526.7,672.5 L525.4,673.6 L524.1,674.6 L524.9,681.0 L523.4,682.0 L522.0,676.0 L520.7,676.8 L519.3,677.4 L518.6,684.5 L517.0,685.0 L517.2,678.2 L515.8,678.6 L514.5,678.8 L512.3,686.0 L510.8,686.1 L512.5,678.9 L511.3,678.8 L510.1,678.6 L506.5,685.5 L505.2,685.1 L508.3,678.0 L507.3,677.4 L506.3,676.8 L501.6,683.0 L500.6,682.2 L504.9,675.6 L504.1,674.6 L503.4,673.6 L498.0,678.7 L497.3,677.4 L502.5,671.8 L502.0,670.6 L501.6,669.2 L495.8,672.8 L495.5,671.2 L501.3,667.0 L501.1,665.5 L501.1,664.0 L495.3,665.7 L495.4,663.9 L501.3,661.4 L501.5,659.8 L501.8,658.1 L496.4,658.0 L496.9,656.1 L502.5,655.5 L503.1,653.8 L503.8,652.2 L499.1,650.2 L500.0,648.3 L505.0,649.6 L505.9,648.0 L506.8,646.4 L503.2,642.7 L504.4,641.0 L508.4,644.1 L509.5,642.7 L510.7,641.4 L508.4,636.2 L509.8,634.8 L512.6,639.4 L513.9,638.3 L515.2,637.3 L514.4,631.0 L515.9,630.0 L517.3,635.9 L518.7,635.1 L520.0,634.5 L520.8,627.5 L522.3,626.9 L522.2,633.7 L523.5,633.4 L524.8,633.2 L527.1,625.9 L528.5,625.8 L526.8,633.1 L528.1,633.2 L529.3,633.4 L532.8,626.4 L534.1,626.8 L531.0,634.0 L532.1,634.5 L533.0,635.1 L537.7,628.9 L538.7,629.8 L534.4,636.4 L535.2,637.3 L535.9,638.3 L541.3,633.2 L542.0,634.5 L536.8,640.1 L537.3,641.4 L537.7,642.7 L543.5,639.1 L543.8,640.7 L538.1,644.9 L538.2,646.4 L538.2,648.0 L544.1,646.2 L543.9,648.0 L538.1,650.5 L537.8,652.1 L537.5,653.8 L542.9,653.9 L542.4,655.8 L536.8,656.4 L536.2,658.1 L535.6,659.8 L540.2,661.8 L539.4,663.6 L534.3,662.3 Z" fill="#fff" stroke="none" stroke-width="0.00" stroke-linejoin="round" stroke-linecap="round"/>
<line x1="538.0" y1="670.0" x2="527.0" y2="665.0" stroke="#000" stroke-width="0.93"/>
<line x1="536.8" y1="671.7" x2="525.8" y2="666.7" stroke="#000" stroke-width="0.93"/>
<line x1="532.7" y1="676.6" x2="521.7" y2="671.6" stroke="#000" stroke-width="0.93"/>
<line x1="531.3" y1="678.0" x2="520.3" y2="673.0" stroke="#000" stroke-width="0.93"/>
<line x1="526.7" y1="681.8" x2="515.7" y2="676.8" stroke="#000" stroke-width="0.93"/>
<line x1="525.2" y1="682.8" x2="514.2" y2="677.8" stroke="#000" stroke-width="0.93"/>
<line x1="520.4" y1="685.3" x2="509.4" y2="680.3" stroke="#000" stroke-width="0.93"/>
<line x1="518.9" y1="685.9" x2="507.9" y2="680.9" stroke="#000" stroke-width="0.93"/>
<line x1="514.1" y1="686.9" x2="503.1" y2="681.9" stroke="#000" stroke-width="0.93"/>
<line x1="512.7" y1="686.9" x2="501.7" y2="681.9" stroke="#000" stroke-width="0.93"/>
<line x1="508.3" y1="686.4" x2="497.3" y2="681.4" stroke="#000" stroke-width="0.93"/>
<line x1="507.1" y1="686.0" x2="496.1" y2="681.0" stroke="#000" stroke-width="0.93"/>
<line x1="503.5" y1="683.9" x2="492.5" y2="678.9" stroke="#000" stroke-width="0.93"/>
<line x1="502.5" y1="683.0" x2="491.5" y2="678.0" stroke="#000" stroke-width="0.93"/>
<line x1="499.8" y1="679.5" x2="488.8" y2="674.5" stroke="#000" stroke-width="0.93"/>
<line x1="499.2" y1="678.2" x2="488.2" y2="673.2" stroke="#000" stroke-width="0.93"/>
<line x1="497.6" y1="673.6" x2="486.6" y2="668.6" stroke="#000" stroke-width="0.93"/>
<line x1="497.4" y1="672.0" x2="486.4" y2="667.0" stroke="#000" stroke-width="0.93"/>
<line x1="497.1" y1="666.6" x2="486.1" y2="661.6" stroke="#000" stroke-width="0.93"/>
<line x1="497.2" y1="664.8" x2="486.2" y2="659.8" stroke="#000" stroke-width="0.93"/>
<line x1="498.2" y1="658.9" x2="487.2" y2="653.9" stroke="#000" stroke-width="0.93"/>
<line x1="498.7" y1="657.0" x2="487.7" y2="652.0" stroke="#000" stroke-width="0.93"/>
<line x1="500.9" y1="651.0" x2="489.9" y2="646.0" stroke="#000" stroke-width="0.93"/>
<line x1="501.8" y1="649.2" x2="490.8" y2="644.2" stroke="#000" stroke-width="0.93"/>
<line x1="505.0" y1="643.6" x2="494.0" y2="638.6" stroke="#000" stroke-width="0.93"/>
<line x1="506.2" y1="641.9" x2="495.2" y2="636.9" stroke="#000" stroke-width="0.93"/>
<line x1="510.3" y1="637.0" x2="499.3" y2="632.0" stroke="#000" stroke-width="0.93"/>
<line x1="511.7" y1="635.6" x2="500.7" y2="630.6" stroke="#000" stroke-width="0.93"/>
<line x1="516.3" y1="631.8" x2="505.3" y2="626.8" stroke="#000" stroke-width="0.93"/>
<line x1="517.8" y1="630.8" x2="506.8" y2="625.8" stroke="#000" stroke-width="0.93"/>
<line x1="522.6" y1="628.3" x2="511.6" y2="623.3" stroke="#000" stroke-width="0.93"/>
<line x1="524.1" y1="627.7" x2="513.1" y2="622.7" stroke="#000" stroke-width="0.93"/>
<line x1="528.9" y1="626.7" x2="517.9" y2="621.7" stroke="#000" stroke-width="0.93"/>
<line x1="530.3" y1="626.7" x2="519.3" y2="621.7" stroke="#000" stroke-width="0.93"/>
<line x1="534.7" y1="627.2" x2="523.7" y2="622.2" stroke="#000" stroke-width="0.93"/>
<line x1="535.9" y1="627.6" x2="524.9" y2="622.6" stroke="#000" stroke-width="0.93"/>
<line x1="539.5" y1="629.7" x2="528.5" y2="624.7" stroke="#000" stroke-width="0.93"/>
<line x1="540.5" y1="630.6" x2="529.5" y2="625.6" stroke="#000" stroke-width="0.93"/>
<line x1="543.2" y1="634.1" x2="532.2" y2="629.1" stroke="#000" stroke-width="0.93"/>
<line x1="543.8" y1="635.4" x2="532.8" y2="630.4" stroke="#000" stroke-width="0.93"/>
<line x1="545.4" y1="640.0" x2="534.4" y2="635.0" stroke="#000" stroke-width="0.93"/>
<line x1="545.6" y1="641.6" x2="534.6" y2="636.6" stroke="#000" stroke-width="0.93"/>
<line x1="545.9" y1="647.0" x2="534.9" y2="642.0" stroke="#000" stroke-width="0.93"/>
<line x1="545.8" y1="648.8" x2="534.8" y2="643.8" stroke="#000" stroke-width="0.93"/>
<line x1="544.8" y1="654.7" x2="533.8" y2="649.7" stroke="#000" stroke-width="0.93"/>
<line x1="544.3" y1="656.6" x2="533.3" y2="651.6" stroke="#000" stroke-width="0.93"/>
<line x1="542.1" y1="662.6" x2="531.1" y2="657.6" stroke="#000" stroke-width="0.93"/>
<line x1="541.2" y1="664.4" x2="530.2" y2="659.4" stroke="#000" stroke-width="0.93"/>
<path d="M535.3,664.8 L534.4,666.3 L538.0,670.0 L536.8,671.7 L532.7,668.7 L531.6,670.1 L530.5,671.4 L532.7,676.6 L531.3,678.0 L528.5,673.3 L527.3,674.4 L526.0,675.5 L526.7,681.8 L525.2,682.8 L523.9,676.9 L522.5,677.6 L521.1,678.3 L520.4,685.3 L518.9,685.9 L519.0,679.0 L517.7,679.4 L516.3,679.6 L514.1,686.9 L512.7,686.9 L514.3,679.7 L513.1,679.6 L511.9,679.4 L508.3,686.4 L507.1,686.0 L510.1,678.8 L509.1,678.3 L508.1,677.6 L503.5,683.9 L502.5,683.0 L506.7,676.4 L506.0,675.5 L505.2,674.5 L499.8,679.5 L499.2,678.2 L504.3,672.7 L503.9,671.4 L503.5,670.1 L497.6,673.6 L497.4,672.0 L503.1,667.8 L503.0,666.3 L502.9,664.8 L497.1,666.6 L497.2,664.8 L503.1,662.3 L503.3,660.6 L503.7,659.0 L498.2,658.9 L498.7,657.0 L504.4,656.3 L505.0,654.7 L505.6,653.0 L500.9,651.0 L501.8,649.2 L506.8,650.4 L507.7,648.8 L508.6,647.3 L505.0,643.6 L506.2,641.9 L510.3,644.9 L511.4,643.5 L512.5,642.2 L510.3,637.0 L511.7,635.6 L514.5,640.3 L515.7,639.2 L517.0,638.1 L516.3,631.8 L517.8,630.8 L519.1,636.7 L520.5,636.0 L521.9,635.3 L522.6,628.3 L524.1,627.7 L524.0,634.6 L525.3,634.2 L526.7,634.0 L528.9,626.7 L530.3,626.7 L528.7,633.9 L529.9,634.0 L531.1,634.2 L534.7,627.2 L535.9,627.6 L532.9,634.8 L533.9,635.3 L534.9,636.0 L539.5,629.7 L540.5,630.6 L536.3,637.2 L537.0,638.1 L537.8,639.1 L543.2,634.1 L543.8,635.4 L538.7,640.9 L539.1,642.2 L539.5,643.5 L545.4,640.0 L545.6,641.6 L539.9,645.8 L540.0,647.3 L540.1,648.8 L545.9,647.0 L545.8,648.8 L539.9,651.3 L539.7,653.0 L539.3,654.6 L544.8,654.7 L544.3,656.6 L538.6,657.3 L538.0,658.9 L537.4,660.6 L542.1,662.6 L541.2,664.4 L536.2,663.2 Z" fill="#fff" stroke="#000" stroke-width="1.03" stroke-linejoin="round" stroke-linecap="round"/>
<ellipse cx="520.2" cy="656.4" rx="19.1" ry="29.7" transform="rotate(30.0 520.2 656.4)" fill="#fff" stroke="#000" stroke-width="1.15"/>
<ellipse cx="520.5" cy="656.8" rx="16.4" ry="26.1" transform="rotate(30.0 520.5 656.8)" fill="none" stroke="#000" stroke-width="1.03"/>
<rect x="528.8" y="665.9" width="4.4" height="5.2" fill="#fff" stroke="#000" stroke-width="0.8" transform="rotate(30 531.0 668.5)"/>
<rect x="515.5" y="676.0" width="4.4" height="5.2" fill="#fff" stroke="#000" stroke-width="0.8" transform="rotate(30 517.7 678.6)"/>
<rect x="503.8" y="673.3" width="4.4" height="5.2" fill="#fff" stroke="#000" stroke-width="0.8" transform="rotate(30 506.0 675.9)"/>
<rect x="500.6" y="659.5" width="4.4" height="5.2" fill="#fff" stroke="#000" stroke-width="0.8" transform="rotate(30 502.8 662.1)"/>
<rect x="507.8" y="642.5" width="4.4" height="5.2" fill="#fff" stroke="#000" stroke-width="0.8" transform="rotate(30 510.0 645.1)"/>
<rect x="521.1" y="632.4" width="4.4" height="5.2" fill="#fff" stroke="#000" stroke-width="0.8" transform="rotate(30 523.3 635.0)"/>
<rect x="532.8" y="635.1" width="4.4" height="5.2" fill="#fff" stroke="#000" stroke-width="0.8" transform="rotate(30 535.0 637.7)"/>
<rect x="536.0" y="648.9" width="4.4" height="5.2" fill="#fff" stroke="#000" stroke-width="0.8" transform="rotate(30 538.2 651.5)"/>
<line x1="519.0" y1="656.0" x2="544.3" y2="670.0" stroke="#000" stroke-width="1.15"/>
<line x1="554.6" y1="591.8" x2="533.2" y2="622.7" stroke="#000" stroke-width="1.15"/>
<line x1="405.5" y1="667.7" x2="405.5" y2="732.4" stroke="#000" stroke-width="1.15"/>
<line x1="405.5" y1="732.4" x2="412.1" y2="735.8" stroke="#000" stroke-width="1.15"/>
<line x1="405.5" y1="667.7" x2="544.3" y2="747.7" stroke="#000" stroke-width="1.15"/>
<line x1="544.3" y1="670.0" x2="544.3" y2="747.7" stroke="#000" stroke-width="1.15"/>
<ellipse cx="427.5" cy="744.2" rx="15.1" ry="27.5" transform="rotate(30.0 427.5 744.2)" fill="#fff" stroke="#000" stroke-width="1.15"/>
<ellipse cx="429.0" cy="745.0" rx="15.1" ry="27.5" transform="rotate(30.0 429.0 745.0)" fill="#fff" stroke="#000" stroke-width="1.15"/>
<ellipse cx="429.5" cy="745.5" rx="8.5" ry="15.4" transform="rotate(30.0 429.5 745.5)" fill="none" stroke="#000" stroke-width="1.15"/>
<path d="M443.3,728.0 L444.2,729.5 L444.8,731.2 L445.1,733.2 L445.3,735.3 L445.2,737.6 L444.8,740.0 L444.3,742.5 L443.5,745.0 L442.5,747.5 L441.3,750.0 L439.5,749.3 L440.5,747.2 L441.3,745.1 L442.0,742.9 L442.4,740.9 L442.7,738.8 L442.8,736.9 L442.7,735.1 L442.4,733.5 L441.9,732.0 L441.2,730.8 Z" fill="none" stroke="#000" stroke-width="1.03" stroke-linejoin="round" stroke-linecap="round"/>
<path d="M429.1,763.9 L427.2,765.0 L425.3,765.7 L423.5,766.1 L421.8,766.2 L420.1,766.1 L418.7,765.6 L417.4,764.8 L416.2,763.7 L415.3,762.4 L414.6,760.8 L416.9,758.4 L417.5,759.7 L418.3,760.9 L419.3,761.8 L420.4,762.4 L421.6,762.8 L423.0,763.0 L424.4,762.9 L426.0,762.5 L427.6,761.9 L429.2,761.0 Z" fill="none" stroke="#000" stroke-width="1.03" stroke-linejoin="round" stroke-linecap="round"/>
<path d="M416.0,744.6 L417.1,742.0 L418.4,739.6 L419.9,737.2 L421.5,734.9 L423.2,732.8 L425.0,730.9 L426.9,729.2 L428.8,727.8 L430.7,726.6 L432.6,725.7 L432.1,728.8 L430.5,729.6 L428.9,730.6 L427.3,731.8 L425.7,733.2 L424.2,734.8 L422.7,736.6 L421.4,738.5 L420.2,740.5 L419.1,742.6 L418.1,744.7 Z" fill="none" stroke="#000" stroke-width="1.03" stroke-linejoin="round" stroke-linecap="round"/>
<line x1="390.5" y1="788.2" x2="412.0" y2="765.0" stroke="#000" stroke-width="1.15"/>
<path d="M462.1,747.0 L463.7,747.3 L465.1,748.0 L466.3,748.9 L467.4,750.2 L468.2,751.8 L468.7,753.6 L469.0,755.6 L469.0,757.7 L468.7,760.0 L468.2,762.4 L467.4,764.8 L466.3,767.1 L465.1,769.4 L463.6,771.6 L462.0,773.6 L460.3,775.4 L458.5,776.9 L456.6,778.1 L454.8,779.1 L452.9,779.7 L451.1,780.0 L449.4,779.9 L447.9,779.5 L446.5,778.8 L445.3,777.7 L444.4,776.3 L443.6,774.7 L443.2,772.8 L443.0,770.8 L443.1,768.6 L443.4,766.2 L444.1,763.9 L444.9,761.5 L446.0,759.1 L447.4,756.9 L448.8,754.8 L450.5,752.8 L452.2,751.1 L454.1,749.7 L456.0,748.5" fill="none" stroke="#000" stroke-width="1.15" stroke-linejoin="round" stroke-linecap="round"/>
<path d="M461.2,749.5 L462.5,749.8 L463.7,750.3 L464.7,751.1 L465.6,752.2 L466.2,753.5 L466.6,755.0 L466.8,756.6 L466.8,758.5 L466.5,760.4 L466.1,762.4 L465.4,764.4 L464.5,766.4 L463.4,768.4 L462.2,770.2 L460.9,771.9 L459.4,773.4 L457.9,774.8 L456.3,775.8 L454.8,776.6 L453.2,777.2 L451.7,777.5 L450.3,777.4 L449.1,777.1 L447.9,776.5 L447.0,775.6 L446.2,774.5 L445.6,773.1 L445.3,771.5 L445.2,769.8 L445.3,767.9 L445.6,766.0 L446.1,764.0 L446.9,761.9 L447.8,759.9 L448.9,758.0 L450.2,756.2 L451.6,754.6 L453.1,753.1 L454.6,751.9 L456.2,750.9" fill="none" stroke="#000" stroke-width="1.15" stroke-linejoin="round" stroke-linecap="round"/>
<ellipse cx="462.6" cy="748.7" rx="2.2" ry="2.6" transform="rotate(30.0 462.6 748.7)" fill="#fff" stroke="#000" stroke-width="1.03"/>
<ellipse cx="462.6" cy="748.7" rx="0.9" ry="1.1" transform="rotate(30.0 462.6 748.7)" fill="none" stroke="#000" stroke-width="0.80"/>
<ellipse cx="454.7" cy="750.6" rx="2.2" ry="2.6" transform="rotate(30.0 454.7 750.6)" fill="#fff" stroke="#000" stroke-width="1.03"/>
<ellipse cx="454.7" cy="750.6" rx="0.9" ry="1.1" transform="rotate(30.0 454.7 750.6)" fill="none" stroke="#000" stroke-width="0.80"/>
<line x1="424.0" y1="808.2" x2="448.0" y2="776.0" stroke="#000" stroke-width="1.15"/>
<ellipse cx="480.0" cy="776.6" rx="8.2" ry="11.8" transform="rotate(30.0 480.0 776.6)" fill="#fff" stroke="#000" stroke-width="1.15"/>
<ellipse cx="481.0" cy="776.8" rx="8.2" ry="11.8" transform="rotate(30.0 481.0 776.8)" fill="#fff" stroke="#000" stroke-width="1.15"/>
<ellipse cx="481.2" cy="777.2" rx="4.1" ry="5.9" transform="rotate(30.0 481.2 777.2)" fill="none" stroke="#000" stroke-width="1.15"/>
<ellipse cx="481.6" cy="777.4" rx="3.1" ry="4.5" transform="rotate(30.0 481.6 777.4)" fill="none" stroke="#000" stroke-width="0.92"/>
<line x1="453.2" y1="824.5" x2="475.0" y2="785.0" stroke="#000" stroke-width="1.15"/>
<ellipse cx="497.8" cy="789.2" rx="5.3" ry="11.6" transform="rotate(30.0 497.8 789.2)" fill="#fff" stroke="#000" stroke-width="1.15"/>
<ellipse cx="499.2" cy="790.0" rx="5.3" ry="11.6" transform="rotate(30.0 499.2 790.0)" fill="#fff" stroke="#000" stroke-width="1.15"/>
<path d="M494.4,794.2 L496.1,785.2 L503.1,779.2 L511.1,783.2 L516.2,786.1 L514.5,795.2 L507.5,801.2 L499.5,797.2 Z" fill="#fff" stroke="#000" stroke-width="1.15" stroke-linejoin="round" stroke-linecap="round"/>
<line x1="514.5" y1="795.2" x2="506.5" y2="791.2" stroke="#000" stroke-width="1.03"/>
<line x1="507.5" y1="801.2" x2="499.5" y2="797.2" stroke="#000" stroke-width="1.03"/>
<line x1="502.4" y1="798.3" x2="494.4" y2="794.3" stroke="#000" stroke-width="1.03"/>
<line x1="504.1" y1="789.2" x2="496.1" y2="785.2" stroke="#000" stroke-width="1.03"/>
<line x1="511.1" y1="783.2" x2="503.1" y2="779.2" stroke="#000" stroke-width="1.03"/>
<line x1="516.2" y1="786.1" x2="508.2" y2="782.1" stroke="#000" stroke-width="1.03"/>
<path d="M514.5,795.2 L507.5,801.2 L502.4,798.3 L504.1,789.2 L511.1,783.2 L516.2,786.1 Z" fill="#fff" stroke="#000" stroke-width="1.15" stroke-linejoin="round" stroke-linecap="round"/>
<ellipse cx="509.3" cy="792.2" rx="5.2" ry="8.8" transform="rotate(30.0 509.3 792.2)" fill="none" stroke="#000" stroke-width="0.92"/>
<ellipse cx="509.3" cy="792.2" rx="3.9" ry="6.6" transform="rotate(30.0 509.3 792.2)" fill="none" stroke="#000" stroke-width="0.92"/>
<ellipse cx="509.5" cy="792.4" rx="3.5" ry="5.8" transform="rotate(30.0 509.5 792.4)" fill="none" stroke="#000" stroke-width="0.92"/>
<ellipse cx="509.7" cy="792.5" rx="2.9" ry="4.8" transform="rotate(30.0 509.7 792.5)" fill="none" stroke="#000" stroke-width="0.92"/>
<ellipse cx="509.9" cy="792.6" rx="2.3" ry="3.8" transform="rotate(30.0 509.9 792.6)" fill="none" stroke="#000" stroke-width="0.92"/>
<ellipse cx="510.1" cy="792.7" rx="1.7" ry="2.8" transform="rotate(30.0 510.1 792.7)" fill="none" stroke="#000" stroke-width="0.92"/>
<line x1="480.5" y1="839.0" x2="497.0" y2="797.0" stroke="#000" stroke-width="1.15"/>
<ellipse cx="140.2" cy="576.8" rx="14.3" ry="22.5" transform="rotate(30.0 140.2 576.8)" fill="none" stroke="#000" stroke-width="1.15"/>
<ellipse cx="140.4" cy="577.0" rx="12.3" ry="19.3" transform="rotate(30.0 140.4 577.0)" fill="none" stroke="#000" stroke-width="1.15"/>
<line x1="101.0" y1="627.0" x2="127.0" y2="597.5" stroke="#000" stroke-width="1.15"/>
<line x1="122.8" y1="580.5" x2="126.0" y2="579.0" stroke="#000" stroke-width="1.03"/>
<line x1="123.6" y1="582.1" x2="126.8" y2="580.6" stroke="#000" stroke-width="1.03"/>
<line x1="124.4" y1="583.7" x2="127.6" y2="582.2" stroke="#000" stroke-width="1.03"/>
<path d="M155.0,610.5 L155.1,609.1 L155.2,607.7 L155.4,606.2 L155.8,604.7 L156.2,603.1 L156.8,601.4 L157.4,599.7 L158.1,598.0 L158.9,596.3 L159.7,594.6 L160.7,593.0 L161.6,591.3 L162.7,589.7 L163.8,588.2 L164.9,586.8 L166.0,585.4 L167.2,584.1 L168.4,582.9 L169.5,581.8 L170.7,580.9 L171.9,580.0 L173.0,579.3 L174.1,578.8 L175.1,578.4 L176.1,578.1 L177.1,578.0 L177.9,578.0 L178.7,578.2 L200.8,586.0 L201.6,586.4 L202.3,586.9 L202.9,587.5 L203.4,588.3 L203.8,589.3 L204.1,590.3 L204.2,591.5 L204.3,592.9 L204.3,594.3 L204.1,595.8 L203.8,597.4 L203.5,599.1 L203.0,600.8 L202.4,602.6 L201.8,604.4 L201.0,606.2 L200.2,608.0 L199.2,609.9 L198.2,611.7 L197.2,613.4 L196.1,615.1 L194.9,616.8 L193.7,618.4 L192.5,619.9 L191.2,621.2 L189.9,622.5 L188.7,623.7 L187.4,624.7 L186.2,625.6 L185.0,626.3 L183.8,626.9 L182.7,627.4 L181.6,627.7 L180.6,627.8 L179.7,627.8 L178.8,627.6 L178.0,627.2 L157.5,616.5 L156.9,616.0 L156.3,615.4 L155.9,614.7 L155.5,613.8 L155.2,612.8 L155.1,611.7 Z" fill="#fff" stroke="#000" stroke-width="1.15" stroke-linejoin="round" stroke-linecap="round"/>
<path d="M160.1,617.7 L159.6,617.2 L159.1,616.5 L158.8,615.6 L158.5,614.7 L158.3,613.6 L158.2,612.5 L158.2,611.2 L158.3,609.9 L158.5,608.5 L158.8,607.0 L159.2,605.5 L159.6,603.9 L160.2,602.3 L160.8,600.7 L161.5,599.1 L162.3,597.4 L163.1,595.8 L164.0,594.2 L165.0,592.6 L166.0,591.1 L167.0,589.6 L168.1,588.2 L169.2,586.9 L170.3,585.6 L171.4,584.4 L172.6,583.4 L173.7,582.4 L174.8,581.6 L175.9,580.9 L177.0,580.3 L178.0,579.8 L179.0,579.4 L180.0,579.2 L180.8,579.2 L181.7,579.2 L182.4,579.4 L183.1,579.8 L183.7,580.2 L184.2,580.8 L184.7,581.5" fill="none" stroke="#000" stroke-width="1.03" stroke-linejoin="round" stroke-linecap="round"/>
<path d="M162.5,619.0 L162.0,618.4 L161.5,617.7 L161.1,616.9 L160.9,615.9 L160.7,614.9 L160.6,613.7 L160.6,612.4 L160.7,611.1 L160.9,609.7 L161.2,608.2 L161.6,606.7 L162.0,605.1 L162.6,603.5 L163.2,601.8 L163.9,600.2 L164.7,598.5 L165.6,596.9 L166.5,595.2 L167.4,593.6 L168.4,592.1 L169.5,590.6 L170.6,589.2 L171.7,587.8 L172.8,586.6 L174.0,585.4 L175.1,584.3 L176.2,583.3 L177.4,582.5 L178.5,581.8 L179.5,581.1 L180.6,580.7 L181.6,580.3 L182.5,580.1 L183.4,580.0 L184.3,580.1 L185.0,580.3 L185.7,580.7 L186.3,581.1 L186.9,581.7 L187.3,582.5" fill="none" stroke="#000" stroke-width="1.03" stroke-linejoin="round" stroke-linecap="round"/>
<path d="M164.9,620.3 L164.4,619.7 L163.9,619.0 L163.5,618.1 L163.2,617.2 L163.1,616.1 L163.0,614.9 L163.0,613.6 L163.1,612.3 L163.3,610.9 L163.6,609.4 L163.9,607.8 L164.4,606.2 L165.0,604.6 L165.6,602.9 L166.3,601.2 L167.1,599.6 L168.0,597.9 L168.9,596.3 L169.9,594.7 L170.9,593.1 L171.9,591.6 L173.0,590.2 L174.2,588.8 L175.3,587.5 L176.5,586.3 L177.6,585.2 L178.8,584.3 L179.9,583.4 L181.0,582.7 L182.1,582.0 L183.2,581.6 L184.2,581.2 L185.1,581.0 L186.0,580.9 L186.9,581.0 L187.6,581.2 L188.3,581.5 L189.0,582.0 L189.5,582.6 L189.9,583.4" fill="none" stroke="#000" stroke-width="1.03" stroke-linejoin="round" stroke-linecap="round"/>
<path d="M167.3,621.5 L166.7,620.9 L166.3,620.2 L165.9,619.4 L165.6,618.4 L165.4,617.3 L165.3,616.1 L165.3,614.8 L165.4,613.5 L165.6,612.0 L165.9,610.5 L166.3,608.9 L166.8,607.3 L167.4,605.7 L168.0,604.0 L168.7,602.3 L169.5,600.6 L170.4,599.0 L171.3,597.3 L172.3,595.7 L173.3,594.1 L174.4,592.6 L175.5,591.1 L176.6,589.7 L177.8,588.5 L179.0,587.3 L180.1,586.2 L181.3,585.2 L182.4,584.3 L183.6,583.6 L184.7,582.9 L185.7,582.5 L186.7,582.1 L187.7,581.9 L188.6,581.8 L189.5,581.9 L190.3,582.1 L191.0,582.4 L191.6,582.9 L192.1,583.5 L192.6,584.3" fill="none" stroke="#000" stroke-width="1.03" stroke-linejoin="round" stroke-linecap="round"/>
<path d="M169.7,622.8 L169.1,622.2 L168.7,621.5 L168.3,620.6 L168.0,619.6 L167.8,618.5 L167.7,617.3 L167.7,616.0 L167.8,614.7 L168.0,613.2 L168.3,611.7 L168.7,610.1 L169.2,608.5 L169.8,606.8 L170.4,605.1 L171.1,603.4 L171.9,601.7 L172.8,600.0 L173.7,598.3 L174.7,596.7 L175.8,595.1 L176.9,593.6 L178.0,592.1 L179.1,590.7 L180.3,589.4 L181.5,588.2 L182.6,587.1 L183.8,586.1 L185.0,585.2 L186.1,584.5 L187.2,583.8 L188.3,583.3 L189.3,583.0 L190.3,582.8 L191.2,582.7 L192.1,582.8 L192.9,583.0 L193.6,583.3 L194.2,583.8 L194.8,584.4 L195.2,585.2" fill="none" stroke="#000" stroke-width="1.03" stroke-linejoin="round" stroke-linecap="round"/>
<path d="M172.1,624.1 L171.5,623.5 L171.0,622.7 L170.7,621.8 L170.4,620.9 L170.2,619.8 L170.1,618.6 L170.1,617.2 L170.2,615.9 L170.4,614.4 L170.7,612.8 L171.1,611.2 L171.6,609.6 L172.1,607.9 L172.8,606.2 L173.5,604.5 L174.4,602.8 L175.2,601.1 L176.2,599.4 L177.2,597.7 L178.2,596.1 L179.3,594.6 L180.4,593.1 L181.6,591.7 L182.8,590.3 L184.0,589.1 L185.1,588.0 L186.3,587.0 L187.5,586.1 L188.7,585.4 L189.8,584.7 L190.9,584.2 L191.9,583.9 L192.9,583.7 L193.8,583.6 L194.7,583.7 L195.5,583.9 L196.2,584.2 L196.8,584.7 L197.4,585.3 L197.8,586.1" fill="none" stroke="#000" stroke-width="1.03" stroke-linejoin="round" stroke-linecap="round"/>
<path d="M174.5,625.3 L173.9,624.7 L173.4,624.0 L173.0,623.1 L172.7,622.1 L172.5,621.0 L172.5,619.8 L172.5,618.4 L172.6,617.0 L172.8,615.6 L173.1,614.0 L173.5,612.4 L174.0,610.7 L174.5,609.0 L175.2,607.3 L175.9,605.6 L176.8,603.8 L177.7,602.1 L178.6,600.4 L179.6,598.7 L180.7,597.1 L181.8,595.5 L182.9,594.0 L184.1,592.6 L185.3,591.3 L186.5,590.1 L187.7,588.9 L188.9,587.9 L190.0,587.0 L191.2,586.3 L192.3,585.6 L193.4,585.1 L194.5,584.8 L195.5,584.5 L196.4,584.5 L197.3,584.5 L198.1,584.7 L198.8,585.1 L199.5,585.6 L200.0,586.2 L200.5,587.0" fill="none" stroke="#000" stroke-width="1.03" stroke-linejoin="round" stroke-linecap="round"/>
<ellipse cx="189.8" cy="606.8" rx="9.7" ry="23.6" transform="rotate(30.0 189.8 606.8)" fill="#fff" stroke="#000" stroke-width="1.15"/>
<ellipse cx="190.1" cy="607.1" rx="6.6" ry="16.5" transform="rotate(30.0 190.1 607.1)" fill="none" stroke="#000" stroke-width="1.03"/>
<ellipse cx="190.3" cy="607.3" rx="5.5" ry="13.7" transform="rotate(30.0 190.3 607.3)" fill="none" stroke="#000" stroke-width="1.03"/>
<path d="M181.8,616.0 L181.6,615.7 L181.4,615.3 L181.3,614.8 L181.2,614.2 L181.2,613.7 L181.2,613.0 L181.2,612.3 L181.3,611.6 L181.4,610.9 L181.6,610.1 L181.9,609.3 L182.1,608.5 L182.4,607.6 L182.8,606.8 L183.2,605.9 L183.6,605.1 L184.0,604.2 L184.5,603.4 L185.0,602.6 L185.5,601.8 L186.1,601.0 L186.6,600.2 L187.2,599.5 L187.8,598.9 L188.3,598.2 L188.9,597.7 L189.5,597.1 L190.1,596.7 L190.6,596.3 L191.2,595.9 L191.7,595.6 L192.3,595.4 L192.8,595.2 L193.2,595.1 L193.7,595.1 L194.1,595.1 L194.5,595.2 L194.8,595.4 L195.1,595.7 L195.4,596.0" fill="none" stroke="#000" stroke-width="0.92" stroke-linejoin="round" stroke-linecap="round"/>
<path d="M181.1,613.7 L181.0,613.3 L180.9,612.8 L180.9,612.4 L180.9,611.9 L180.9,611.3 L181.0,610.8 L181.1,610.2 L181.2,609.6 L181.4,609.0 L181.5,608.3 L181.8,607.6 L182.0,607.0 L182.3,606.3 L182.6,605.6 L182.9,604.9 L183.2,604.2 L183.6,603.5 L184.0,602.9 L184.4,602.2 L184.8,601.6 L185.3,601.0 L185.7,600.3 L186.2,599.8 L186.6,599.2 L187.1,598.7 L187.6,598.2 L188.0,597.8 L188.5,597.3 L189.0,597.0 L189.4,596.6 L189.9,596.3 L190.3,596.1 L190.7,595.9 L191.1,595.7 L191.5,595.6 L191.9,595.6 L192.2,595.6 L192.6,595.6 L192.9,595.7 L193.1,595.8" fill="none" stroke="#000" stroke-width="0.92" stroke-linejoin="round" stroke-linecap="round"/>
<line x1="147.3" y1="655.5" x2="169.0" y2="621.8" stroke="#000" stroke-width="1.15"/>
<ellipse cx="217.5" cy="623.0" rx="14.7" ry="23.9" transform="rotate(30.0 217.5 623.0)" fill="none" stroke="#000" stroke-width="1.15"/>
<ellipse cx="217.7" cy="623.2" rx="12.7" ry="20.6" transform="rotate(30.0 217.7 623.2)" fill="none" stroke="#000" stroke-width="1.15"/>
<line x1="189.0" y1="680.0" x2="203.7" y2="641.0" stroke="#000" stroke-width="1.15"/>
<line x1="200.0" y1="626.5" x2="203.2" y2="625.0" stroke="#000" stroke-width="1.03"/>
<line x1="200.8" y1="628.1" x2="204.0" y2="626.6" stroke="#000" stroke-width="1.03"/>
<line x1="201.6" y1="629.7" x2="204.8" y2="628.2" stroke="#000" stroke-width="1.03"/>
<path d="M232.4,660.1 L232.4,657.5 L232.6,654.9 L233.1,652.2 L233.7,649.4 L234.4,646.7 L235.4,643.9 L236.5,641.1 L237.8,638.4 L239.3,635.8 L240.8,633.2 L242.6,630.7 L244.4,628.4 L246.3,626.1 L248.3,624.1 L250.4,622.2 L252.5,620.5 L254.7,619.0 L256.9,617.6 L259.1,616.5 L261.2,615.7 L263.4,615.0 L265.5,614.7 L267.5,614.5 L269.5,614.6 L271.4,614.9 L273.2,615.5 L285.2,621.0 L286.8,621.8 L288.4,622.8 L289.7,624.1 L290.9,625.5 L292.0,627.2 L292.9,629.0 L293.6,631.1 L294.1,633.3 L294.5,635.6 L294.6,638.0 L294.6,640.6 L294.4,643.2 L293.9,645.9 L293.3,648.7 L292.6,651.4 L291.6,654.2 L290.5,657.0 L289.2,659.7 L287.7,662.3 L286.1,664.9 L284.4,667.4 L282.6,669.7 L280.7,672.0 L278.7,674.0 L276.6,675.9 L274.5,677.6 L272.3,679.1 L270.1,680.5 L267.9,681.5 L265.8,682.4 L263.6,683.0 L261.5,683.4 L259.5,683.6 L257.5,683.5 L255.6,683.2 L253.8,682.6 L241.8,677.1 L240.2,676.3 L238.7,675.3 L237.3,674.0 L236.1,672.6 L235.0,670.9 L234.1,669.0 L233.4,667.0 L232.8,664.8 L232.5,662.5 Z" fill="#fff" stroke="#000" stroke-width="1.15" stroke-linejoin="round" stroke-linecap="round"/>
<ellipse cx="269.5" cy="651.8" rx="21.1" ry="34.6" transform="rotate(30.0 269.5 651.8)" fill="#fff" stroke="#000" stroke-width="1.15"/>
<ellipse cx="269.5" cy="651.8" rx="17.7" ry="29.1" transform="rotate(30.0 269.5 651.8)" fill="none" stroke="#000" stroke-width="1.03"/>
<ellipse cx="269.5" cy="651.8" rx="16.6" ry="27.4" transform="rotate(30.0 269.5 651.8)" fill="none" stroke="#000" stroke-width="0.80"/>
<ellipse cx="278.2" cy="665.2" rx="6.7" ry="2.8" transform="rotate(130.8 278.2 665.2)" fill="none" stroke="#000" stroke-width="0.86"/>
<ellipse cx="268.4" cy="672.9" rx="5.5" ry="2.8" transform="rotate(156.1 268.4 672.9)" fill="none" stroke="#000" stroke-width="0.86"/>
<ellipse cx="259.0" cy="673.9" rx="4.3" ry="2.8" transform="rotate(-161.5 259.0 673.9)" fill="none" stroke="#000" stroke-width="0.86"/>
<ellipse cx="252.8" cy="667.8" rx="4.8" ry="2.8" transform="rotate(-111.7 252.8 667.8)" fill="none" stroke="#000" stroke-width="0.86"/>
<ellipse cx="252.0" cy="656.7" rx="6.3" ry="2.8" transform="rotate(-80.5 252.0 656.7)" fill="none" stroke="#000" stroke-width="0.86"/>
<ellipse cx="256.7" cy="644.0" rx="6.9" ry="2.8" transform="rotate(-59.3 256.7 644.0)" fill="none" stroke="#000" stroke-width="0.86"/>
<ellipse cx="265.5" cy="633.8" rx="6.2" ry="2.8" transform="rotate(-37.8 265.5 633.8)" fill="none" stroke="#000" stroke-width="0.86"/>
<ellipse cx="275.6" cy="629.3" rx="4.8" ry="2.8" transform="rotate(-5.5 275.6 629.3)" fill="none" stroke="#000" stroke-width="0.86"/>
<ellipse cx="283.7" cy="631.9" rx="4.3" ry="2.8" transform="rotate(45.1 283.7 631.9)" fill="none" stroke="#000" stroke-width="0.86"/>
<ellipse cx="287.3" cy="640.9" rx="5.6" ry="2.8" transform="rotate(86.0 287.3 640.9)" fill="none" stroke="#000" stroke-width="0.86"/>
<ellipse cx="285.3" cy="653.3" rx="6.8" ry="2.8" transform="rotate(110.6 285.3 653.3)" fill="none" stroke="#000" stroke-width="0.86"/>
<ellipse cx="269.5" cy="651.8" rx="13.1" ry="21.5" transform="rotate(30.0 269.5 651.8)" fill="#fff" stroke="#000" stroke-width="1.03"/>
<ellipse cx="269.5" cy="651.8" rx="9.9" ry="16.3" transform="rotate(30.0 269.5 651.8)" fill="#fff" stroke="#000" stroke-width="1.03"/>
<path d="M273.5,657.7 L271.8,659.9 L269.8,661.8 L267.8,663.3 L265.8,664.4 L263.7,665.1 L261.8,665.4 L260.0,665.2 L258.4,664.5 L257.0,663.5 L255.9,662.0 L255.2,660.2 L254.8,658.0 L254.7,655.7 L255.0,653.2 L255.7,650.6 L256.6,648.0 L257.9,645.5 L259.5,643.1" fill="none" stroke="#000" stroke-width="0.92" stroke-linejoin="round" stroke-linecap="round"/>
<line x1="248.2" y1="714.1" x2="254.0" y2="684.6" stroke="#000" stroke-width="1.15"/>
<line x1="269.2" y1="653.3" x2="306.4" y2="674.7" stroke="#000" stroke-width="1.15"/>
<path d="M265.6,202.8 L265.7,201.4 L265.9,200.0 L266.1,198.6 L266.5,197.1 L267.0,195.6 L267.6,194.0 L268.2,192.5 L268.9,191.0 L269.7,189.6 L270.6,188.1 L271.5,186.8 L272.5,185.4 L273.5,184.2 L274.6,183.0 L275.7,182.0 L276.9,181.0 L278.0,180.1 L279.1,179.4 L280.3,178.7 L281.4,178.2 L282.6,177.8 L283.6,177.6 L284.7,177.4 L285.7,177.4 L286.7,177.6 L287.6,177.8 L296.4,181.2 L297.2,181.6 L297.9,182.1 L298.6,182.8 L299.2,183.5 L299.7,184.4 L300.1,185.4 L300.4,186.4 L300.7,187.6 L300.8,188.9 L300.8,190.2 L300.7,191.6 L300.5,193.0 L300.2,194.4 L299.9,195.9 L299.4,197.4 L298.9,199.0 L298.2,200.5 L297.5,202.0 L296.7,203.4 L295.8,204.9 L294.9,206.2 L293.9,207.6 L292.9,208.8 L291.8,210.0 L290.7,211.0 L289.6,212.0 L288.4,212.9 L287.2,213.6 L286.1,214.3 L285.0,214.8 L283.9,215.2 L282.8,215.4 L281.7,215.6 L280.7,215.6 L279.7,215.4 L278.9,215.2 L270.1,211.8 L269.2,211.4 L268.5,210.9 L267.8,210.2 L267.2,209.5 L266.7,208.6 L266.3,207.6 L266.0,206.6 L265.7,205.4 L265.6,204.1 Z" fill="#fff" stroke="#000" stroke-width="1.15" stroke-linejoin="round" stroke-linecap="round"/>
<ellipse cx="287.6" cy="198.2" rx="10.5" ry="19.2" transform="rotate(30.0 287.6 198.2)" fill="#fff" stroke="#000" stroke-width="1.15"/>
<ellipse cx="287.6" cy="198.2" rx="8.8" ry="16.1" transform="rotate(30.0 287.6 198.2)" fill="none" stroke="#000" stroke-width="1.03"/>
<ellipse cx="291.8" cy="205.2" rx="3.7" ry="1.5" transform="rotate(129.8 291.8 205.2)" fill="none" stroke="#000" stroke-width="0.86"/>
<ellipse cx="284.6" cy="210.4" rx="2.6" ry="1.5" transform="rotate(166.4 284.6 210.4)" fill="none" stroke="#000" stroke-width="0.86"/>
<ellipse cx="279.2" cy="208.4" rx="2.3" ry="1.5" transform="rotate(-120.1 279.2 208.4)" fill="none" stroke="#000" stroke-width="0.86"/>
<ellipse cx="278.7" cy="200.4" rx="3.5" ry="1.5" transform="rotate(-75.9 278.7 200.4)" fill="none" stroke="#000" stroke-width="0.86"/>
<ellipse cx="283.4" cy="191.2" rx="3.7" ry="1.5" transform="rotate(-50.2 283.4 191.2)" fill="none" stroke="#000" stroke-width="0.86"/>
<ellipse cx="290.6" cy="186.0" rx="2.6" ry="1.5" transform="rotate(-13.6 290.6 186.0)" fill="none" stroke="#000" stroke-width="0.86"/>
<ellipse cx="296.0" cy="188.0" rx="2.3" ry="1.5" transform="rotate(59.9 296.0 188.0)" fill="none" stroke="#000" stroke-width="0.86"/>
<ellipse cx="296.5" cy="196.0" rx="3.5" ry="1.5" transform="rotate(104.1 296.5 196.0)" fill="none" stroke="#000" stroke-width="0.86"/>
<ellipse cx="287.6" cy="198.2" rx="6.5" ry="11.9" transform="rotate(30.0 287.6 198.2)" fill="#fff" stroke="#000" stroke-width="1.03"/>
<ellipse cx="287.6" cy="198.2" rx="4.9" ry="9.0" transform="rotate(30.0 287.6 198.2)" fill="#fff" stroke="#000" stroke-width="1.03"/>
<line x1="305.0" y1="145.0" x2="291.0" y2="180.0" stroke="#000" stroke-width="1.15"/>
<path d="M304,241.7 L318.3,230.8 L340,220 L351.7,214.2 L368.3,221.7 L367.5,227.5 L353.3,251.7 Q349,260 345,263.3 Q339,267 333.3,266.7 Q326,266 321.7,263.3 L320,258.3 L305,246.7 Z" fill="#fff" stroke="#000" stroke-width="1.26" stroke-linejoin="round" stroke-linecap="round"/>
<path d="M305,246.7 Q312,245 320,258.3" fill="none" stroke="#000" stroke-width="1.03" stroke-linejoin="round" stroke-linecap="round"/>
<path d="M340,220 L356,227.5 L367.5,227.5" fill="none" stroke="#000" stroke-width="0.92" stroke-linejoin="round" stroke-linecap="round"/>
<path d="M322.0,210.0 L350.0,223.5 L348.0,243.0 L313.2,221.5 Z" fill="#fff" stroke="#000" stroke-width="1.15" stroke-linejoin="round" stroke-linecap="round"/>
<path d="M299.2,215.3 L299.2,214.7 L299.2,214.1 L299.3,213.4 L299.4,212.7 L299.6,212.0 L299.8,211.4 L300.0,210.7 L300.3,210.0 L300.6,209.3 L300.9,208.7 L301.2,208.1 L301.6,207.5 L301.9,206.9 L302.3,206.3 L302.8,205.9 L303.2,205.4 L303.6,205.0 L304.0,204.6 L304.4,204.3 L304.8,204.1 L305.2,203.9 L305.6,203.8 L306.0,203.7 L306.4,203.7 L306.8,203.7 L307.1,203.8 L313.1,206.3 L313.4,206.5 L313.7,206.7 L314.0,206.9 L314.2,207.3 L314.4,207.7 L314.6,208.1 L314.7,208.6 L314.8,209.1 L314.8,209.6 L314.8,210.2 L314.8,210.8 L314.8,211.4 L314.7,212.1 L314.6,212.8 L314.4,213.5 L314.2,214.1 L314.0,214.8 L313.7,215.5 L313.4,216.2 L313.1,216.8 L312.8,217.4 L312.4,218.0 L312.1,218.6 L311.7,219.2 L311.2,219.6 L310.8,220.1 L310.4,220.5 L310.0,220.9 L309.6,221.2 L309.2,221.4 L308.8,221.6 L308.4,221.7 L308.0,221.8 L307.6,221.8 L307.2,221.8 L306.9,221.7 L300.9,219.2 L300.6,219.0 L300.3,218.8 L300.0,218.6 L299.8,218.2 L299.6,217.8 L299.4,217.4 L299.3,216.9 L299.2,216.4 L299.2,215.9 Z" fill="#fff" stroke="#000" stroke-width="1.15" stroke-linejoin="round" stroke-linecap="round"/>
<ellipse cx="304.0" cy="211.5" rx="4.0" ry="8.3" transform="rotate(22.0 304.0 211.5)" fill="#fff" stroke="#000" stroke-width="1.15"/>
<path d="M305.9,218.8 L306.0,217.9 L306.1,217.0 L306.3,216.1 L306.5,215.1 L306.8,214.2 L307.1,213.2 L307.4,212.2 L307.8,211.3 L308.3,210.4 L308.8,209.6 L309.3,208.7 L309.8,207.9 L310.4,207.2 L310.9,206.5 L311.5,205.9 L312.1,205.3 L312.8,204.8 L313.4,204.4 L314.0,204.1 L314.6,203.8 L315.2,203.6 L315.8,203.5 L316.3,203.5 L316.8,203.6 L317.4,203.7 L322.9,205.7 L323.3,206.0 L323.8,206.3 L324.1,206.7 L324.5,207.2 L324.8,207.7 L325.0,208.3 L325.2,209.0 L325.4,209.7 L325.5,210.5 L325.6,211.3 L325.6,212.2 L325.5,213.1 L325.4,214.0 L325.2,214.9 L325.0,215.9 L324.7,216.8 L324.4,217.8 L324.1,218.8 L323.7,219.7 L323.2,220.6 L322.8,221.4 L322.2,222.3 L321.7,223.1 L321.1,223.8 L320.6,224.5 L320.0,225.1 L319.4,225.7 L318.8,226.2 L318.1,226.6 L317.5,226.9 L316.9,227.2 L316.3,227.4 L315.7,227.5 L315.2,227.5 L314.7,227.4 L314.1,227.3 L308.6,225.3 L308.2,225.0 L307.8,224.7 L307.4,224.3 L307.0,223.8 L306.7,223.3 L306.5,222.7 L306.2,222.0 L306.1,221.3 L306.0,220.5 L305.9,219.7 Z" fill="#fff" stroke="#000" stroke-width="1.15" stroke-linejoin="round" stroke-linecap="round"/>
<ellipse cx="313.0" cy="214.5" rx="6.0" ry="11.6" transform="rotate(22.0 313.0 214.5)" fill="none" stroke="#000" stroke-width="1.03"/>
<ellipse cx="318.5" cy="216.5" rx="6.0" ry="11.6" transform="rotate(22.0 318.5 216.5)" fill="#fff" stroke="#000" stroke-width="1.15"/>
<ellipse cx="319.0" cy="217.0" rx="4.6" ry="9.5" transform="rotate(22.0 319.0 217.0)" fill="#fff" stroke="#000" stroke-width="1.03"/>
<line x1="323.0" y1="210.3" x2="349.0" y2="223.4" stroke="#000" stroke-width="1.15"/>
<line x1="318.5" y1="226.3" x2="344.0" y2="239.0" stroke="#000" stroke-width="1.03"/>
<line x1="316.0" y1="228.5" x2="340.0" y2="241.0" stroke="#000" stroke-width="0.92"/>
<path d="M348.9,243.3 L348.9,242.3 L349.1,241.2 L349.2,240.2 L349.5,239.1 L349.8,238.0 L350.1,236.9 L350.5,235.9 L351.0,234.8 L351.4,233.8 L352.0,232.8 L352.6,231.9 L353.2,231.0 L353.8,230.2 L354.5,229.4 L355.2,228.7 L355.9,228.1 L356.6,227.6 L357.3,227.1 L358.0,226.8 L358.7,226.5 L359.4,226.3 L360.0,226.2 L360.7,226.2 L361.3,226.3 L361.9,226.4 L362.4,226.7 L365.4,228.2 L365.9,228.6 L366.4,229.0 L366.8,229.6 L367.2,230.2 L367.5,230.9 L367.7,231.6 L367.9,232.4 L368.0,233.3 L368.1,234.3 L368.1,235.2 L368.1,236.2 L367.9,237.3 L367.8,238.3 L367.5,239.4 L367.2,240.5 L366.9,241.6 L366.5,242.6 L366.0,243.7 L365.6,244.7 L365.0,245.7 L364.4,246.6 L363.8,247.5 L363.2,248.3 L362.5,249.1 L361.8,249.8 L361.1,250.4 L360.4,250.9 L359.7,251.4 L359.0,251.8 L358.3,252.0 L357.6,252.2 L357.0,252.3 L356.3,252.3 L355.7,252.2 L355.1,252.1 L354.6,251.8 L351.6,250.3 L351.1,249.9 L350.6,249.5 L350.2,248.9 L349.8,248.3 L349.5,247.6 L349.3,246.9 L349.1,246.1 L349.0,245.2 L348.9,244.2 Z" fill="#fff" stroke="#000" stroke-width="1.15" stroke-linejoin="round" stroke-linecap="round"/>
<ellipse cx="360.0" cy="240.0" rx="7.0" ry="13.0" transform="rotate(22.0 360.0 240.0)" fill="#fff" stroke="#000" stroke-width="1.15"/>
<path d="M362.0,233.5 L388.0,247.0 L382.0,262.0 L357.0,249.0 Z" fill="#fff" stroke="#000" stroke-width="1.15" stroke-linejoin="round" stroke-linecap="round"/>
<ellipse cx="371.0" cy="245.0" rx="4.0" ry="8.0" transform="rotate(22.0 371.0 245.0)" fill="none" stroke="#000" stroke-width="0.92"/>
<ellipse cx="382.0" cy="252.0" rx="4.0" ry="7.0" transform="rotate(22.0 382.0 252.0)" fill="#fff" stroke="#000" stroke-width="1.03"/>
<ellipse cx="384.6" cy="253.4" rx="4.0" ry="7.0" transform="rotate(22.0 384.6 253.4)" fill="#fff" stroke="#000" stroke-width="1.03"/>
<ellipse cx="387.2" cy="254.8" rx="4.0" ry="7.0" transform="rotate(22.0 387.2 254.8)" fill="#fff" stroke="#000" stroke-width="1.03"/>
<ellipse cx="389.8" cy="256.2" rx="4.0" ry="7.0" transform="rotate(22.0 389.8 256.2)" fill="#fff" stroke="#000" stroke-width="1.03"/>
<ellipse cx="391.7" cy="257.5" rx="3.5" ry="5.8" transform="rotate(22.0 391.7 257.5)" fill="#fff" stroke="#000" stroke-width="1.03"/>
<ellipse cx="392.0" cy="257.8" rx="1.8" ry="3.0" transform="rotate(22.0 392.0 257.8)" fill="none" stroke="#000" stroke-width="0.80"/>
<path d="M376,245 L382,243 L385,246 L379,249 Z" fill="none" stroke="#000" stroke-width="0.92" stroke-linejoin="round" stroke-linecap="round"/>
<line x1="366.0" y1="180.0" x2="357.0" y2="215.0" stroke="#000" stroke-width="1.15"/>
<path d="M380,221 L384,219.5 L387,222 L386,226 L382,227.5 L379.5,225 Z" fill="#fff" stroke="#000" stroke-width="1.15" stroke-linejoin="round" stroke-linecap="round"/>
<line x1="398.0" y1="197.0" x2="385.0" y2="219.0" stroke="#000" stroke-width="1.15"/>
<line x1="382.0" y1="229.0" x2="382.0" y2="245.0" stroke="#000" stroke-width="1.15"/>
<path d="M392.7,277.6 L392.7,276.3 L392.9,274.9 L393.1,273.4 L393.4,271.9 L393.9,270.4 L394.4,268.8 L395.0,267.3 L395.7,265.7 L396.4,264.1 L397.3,262.6 L398.2,261.1 L399.1,259.7 L400.1,258.3 L401.2,257.0 L402.3,255.8 L403.4,254.6 L404.6,253.6 L405.7,252.7 L406.9,251.8 L408.0,251.2 L409.1,250.6 L410.2,250.1 L411.3,249.8 L412.3,249.6 L413.3,249.6 L414.2,249.7 L415.1,249.9 L423.9,253.3 L424.7,253.7 L425.4,254.2 L426.0,254.8 L426.6,255.6 L427.0,256.4 L427.4,257.4 L427.7,258.5 L427.8,259.7 L427.9,260.9 L427.9,262.3 L427.7,263.7 L427.5,265.2 L427.2,266.7 L426.7,268.2 L426.2,269.8 L425.6,271.3 L424.9,272.9 L424.2,274.5 L423.3,276.0 L422.4,277.5 L421.5,278.9 L420.4,280.3 L419.4,281.6 L418.3,282.8 L417.2,284.0 L416.0,285.0 L414.9,285.9 L413.7,286.8 L412.6,287.4 L411.5,288.0 L410.4,288.5 L409.3,288.8 L408.3,289.0 L407.3,289.0 L406.4,288.9 L405.5,288.7 L396.7,285.3 L395.9,284.9 L395.2,284.4 L394.6,283.8 L394.0,283.0 L393.6,282.1 L393.2,281.2 L392.9,280.1 L392.8,278.9 Z" fill="#fff" stroke="#000" stroke-width="1.15" stroke-linejoin="round" stroke-linecap="round"/>
<ellipse cx="414.7" cy="271.0" rx="10.0" ry="20.0" transform="rotate(30.0 414.7 271.0)" fill="#fff" stroke="#000" stroke-width="1.15"/>
<ellipse cx="414.7" cy="271.0" rx="8.4" ry="16.8" transform="rotate(30.0 414.7 271.0)" fill="none" stroke="#000" stroke-width="1.03"/>
<ellipse cx="418.5" cy="278.0" rx="3.9" ry="1.5" transform="rotate(128.9 418.5 278.0)" fill="none" stroke="#000" stroke-width="0.86"/>
<ellipse cx="411.3" cy="283.5" rx="2.6" ry="1.5" transform="rotate(163.8 411.3 283.5)" fill="none" stroke="#000" stroke-width="0.86"/>
<ellipse cx="406.1" cy="281.7" rx="2.2" ry="1.5" transform="rotate(-117.8 406.1 281.7)" fill="none" stroke="#000" stroke-width="0.86"/>
<ellipse cx="406.0" cy="273.6" rx="3.7" ry="1.5" transform="rotate(-74.6 406.0 273.6)" fill="none" stroke="#000" stroke-width="0.86"/>
<ellipse cx="410.9" cy="264.0" rx="3.9" ry="1.5" transform="rotate(-51.1 410.9 264.0)" fill="none" stroke="#000" stroke-width="0.86"/>
<ellipse cx="418.1" cy="258.5" rx="2.6" ry="1.5" transform="rotate(-16.2 418.1 258.5)" fill="none" stroke="#000" stroke-width="0.86"/>
<ellipse cx="423.3" cy="260.3" rx="2.2" ry="1.5" transform="rotate(62.2 423.3 260.3)" fill="none" stroke="#000" stroke-width="0.86"/>
<ellipse cx="423.4" cy="268.4" rx="3.7" ry="1.5" transform="rotate(105.4 423.4 268.4)" fill="none" stroke="#000" stroke-width="0.86"/>
<ellipse cx="414.7" cy="271.0" rx="6.2" ry="12.4" transform="rotate(30.0 414.7 271.0)" fill="#fff" stroke="#000" stroke-width="1.03"/>
<ellipse cx="414.7" cy="271.0" rx="4.7" ry="9.4" transform="rotate(30.0 414.7 271.0)" fill="#fff" stroke="#000" stroke-width="1.03"/>
<line x1="428.9" y1="217.0" x2="418.8" y2="252.5" stroke="#000" stroke-width="1.15"/>
<path d="M425.0,286.1 L425.0,285.4 L425.1,284.6 L425.2,283.9 L425.4,283.1 L425.6,282.2 L425.8,281.4 L426.1,280.5 L426.5,279.7 L426.9,278.8 L427.3,277.9 L427.8,277.1 L428.3,276.2 L428.8,275.4 L429.4,274.6 L430.0,273.9 L430.6,273.2 L431.2,272.6 L431.8,271.9 L432.4,271.4 L433.0,270.9 L433.6,270.5 L434.2,270.2 L434.8,269.9 L435.3,269.7 L435.8,269.6 L436.3,269.5 L436.8,269.5 L437.2,269.6 L437.6,269.8 L445.6,273.8 L445.9,274.1 L446.2,274.4 L446.5,274.8 L446.7,275.2 L446.9,275.7 L446.9,276.3 L447.0,276.9 L447.0,277.6 L446.9,278.4 L446.8,279.1 L446.6,279.9 L446.4,280.8 L446.2,281.6 L445.9,282.5 L445.5,283.3 L445.1,284.2 L444.7,285.1 L444.2,285.9 L443.7,286.8 L443.2,287.6 L442.6,288.4 L442.0,289.1 L441.4,289.8 L440.8,290.4 L440.2,291.1 L439.6,291.6 L439.0,292.1 L438.4,292.5 L437.8,292.8 L437.2,293.1 L436.7,293.3 L436.2,293.4 L435.7,293.5 L435.2,293.5 L434.8,293.4 L434.4,293.2 L426.4,289.2 L426.1,288.9 L425.8,288.6 L425.5,288.2 L425.3,287.8 L425.1,287.3 L425.1,286.7 Z" fill="#fff" stroke="#000" stroke-width="1.15" stroke-linejoin="round" stroke-linecap="round"/>
<ellipse cx="440.0" cy="283.5" rx="4.8" ry="11.2" transform="rotate(30.0 440.0 283.5)" fill="#fff" stroke="#000" stroke-width="1.15"/>
<ellipse cx="440.3" cy="283.8" rx="3.2" ry="7.3" transform="rotate(30.0 440.3 283.8)" fill="none" stroke="#000" stroke-width="1.03"/>
<line x1="459.0" y1="234.4" x2="442.0" y2="275.0" stroke="#000" stroke-width="1.15"/>
<path d="M474.9,304.2 L474.1,305.5 L476.8,308.5 L475.0,310.7 L472.0,308.3 L470.9,309.4 L469.9,310.4 L471.2,314.6 L469.1,316.2 L467.2,312.4 L466.0,313.1 L464.8,313.7 L464.7,318.6 L462.4,319.4 L462.0,314.7 L460.8,314.9 L459.6,315.1 L457.9,320.1 L455.7,320.0 L456.8,314.9 L455.7,314.6 L454.7,314.3 L451.8,318.8 L450.0,317.8 L452.5,313.0 L451.6,312.3 L450.8,311.4 L447.0,314.9 L445.8,313.1 L449.3,309.2 L448.9,308.1 L448.4,306.9 L444.2,308.9 L443.7,306.5 L447.9,303.9 L447.8,302.6 L447.8,301.2 L443.6,301.5 L443.9,298.8 L448.2,297.9 L448.6,296.5 L449.0,295.0 L445.3,293.6 L446.4,291.0 L450.4,291.8 L451.1,290.4 L451.9,289.1 L449.2,286.1 L451.0,283.9 L454.0,286.3 L455.1,285.2 L456.1,284.2 L454.8,280.0 L456.9,278.4 L458.8,282.2 L460.0,281.5 L461.2,280.9 L461.3,276.0 L463.6,275.2 L464.0,279.9 L465.2,279.7 L466.4,279.5 L468.1,274.5 L470.3,274.6 L469.2,279.7 L470.3,280.0 L471.3,280.3 L474.2,275.8 L476.0,276.8 L473.5,281.6 L474.4,282.3 L475.2,283.2 L479.0,279.7 L480.2,281.5 L476.7,285.4 L477.1,286.5 L477.6,287.7 L481.8,285.7 L482.3,288.1 L478.1,290.7 L478.2,292.0 L478.2,293.4 L482.4,293.1 L482.1,295.8 L477.8,296.7 L477.4,298.1 L477.0,299.6 L480.7,301.0 L479.6,303.6 L475.6,302.8 Z" fill="#fff" stroke="#000" stroke-width="1.03" stroke-linejoin="round" stroke-linecap="round"/>
<path d="M475.3,304.4 L474.5,305.7 L477.2,308.7 L475.4,310.9 L472.4,308.5 L471.4,309.6 L470.3,310.6 L471.6,314.8 L469.5,316.4 L467.6,312.6 L466.4,313.3 L465.2,313.9 L465.1,318.8 L462.8,319.6 L462.4,314.9 L461.2,315.1 L460.0,315.3 L458.3,320.3 L456.1,320.2 L457.3,315.1 L456.2,314.8 L455.1,314.5 L452.2,319.0 L450.4,318.0 L452.9,313.2 L452.0,312.5 L451.3,311.6 L447.4,315.1 L446.2,313.3 L449.8,309.4 L449.3,308.3 L448.9,307.1 L444.6,309.1 L444.1,306.7 L448.3,304.1 L448.2,302.8 L448.2,301.4 L444.0,301.7 L444.3,299.0 L448.7,298.1 L449.0,296.7 L449.4,295.2 L445.8,293.8 L446.9,291.2 L450.8,292.0 L451.5,290.6 L452.3,289.3 L449.7,286.3 L451.4,284.1 L454.5,286.5 L455.5,285.4 L456.5,284.4 L455.2,280.2 L457.4,278.6 L459.2,282.4 L460.4,281.7 L461.6,281.1 L461.8,276.2 L464.1,275.4 L464.5,280.1 L465.7,279.9 L466.9,279.7 L468.5,274.7 L470.7,274.8 L469.6,279.9 L470.7,280.2 L471.7,280.5 L474.6,276.0 L476.4,277.0 L474.0,281.8 L474.8,282.5 L475.6,283.4 L479.4,279.9 L480.6,281.7 L477.1,285.6 L477.6,286.7 L478.0,287.9 L482.3,285.9 L482.7,288.3 L478.5,290.9 L478.6,292.2 L478.6,293.6 L482.8,293.3 L482.5,296.0 L478.2,296.9 L477.8,298.3 L477.4,299.8 L481.1,301.2 L480.0,303.8 L476.0,303.0 Z" fill="#fff" stroke="none" stroke-width="0.00" stroke-linejoin="round" stroke-linecap="round"/>
<path d="M475.7,304.6 L474.9,305.9 L477.6,308.9 L475.9,311.1 L472.8,308.7 L471.8,309.8 L470.7,310.8 L472.0,315.0 L469.9,316.6 L468.0,312.8 L466.9,313.5 L465.7,314.1 L465.5,319.0 L463.2,319.8 L462.8,315.1 L461.6,315.3 L460.4,315.5 L458.8,320.5 L456.6,320.4 L457.7,315.3 L456.6,315.0 L455.5,314.7 L452.6,319.2 L450.8,318.2 L453.3,313.4 L452.4,312.7 L451.7,311.8 L447.8,315.3 L446.6,313.5 L450.2,309.6 L449.7,308.5 L449.3,307.3 L445.0,309.3 L444.5,306.9 L448.7,304.3 L448.6,303.0 L448.6,301.6 L444.4,301.9 L444.8,299.2 L449.1,298.3 L449.4,296.9 L449.8,295.4 L446.2,294.0 L447.3,291.4 L451.2,292.2 L451.9,290.8 L452.7,289.5 L450.1,286.5 L451.8,284.3 L454.9,286.7 L455.9,285.6 L457.0,284.6 L455.6,280.4 L457.8,278.8 L459.6,282.6 L460.8,281.9 L462.0,281.3 L462.2,276.4 L464.5,275.6 L464.9,280.3 L466.1,280.1 L467.3,279.9 L468.9,274.9 L471.1,275.0 L470.0,280.1 L471.1,280.4 L472.1,280.7 L475.0,276.2 L476.9,277.2 L474.4,282.0 L475.2,282.7 L476.0,283.6 L479.8,280.1 L481.0,281.9 L477.5,285.8 L478.0,286.9 L478.4,288.1 L482.7,286.1 L483.1,288.5 L479.0,291.1 L479.0,292.4 L479.0,293.8 L483.3,293.5 L482.9,296.2 L478.6,297.1 L478.3,298.5 L477.8,300.0 L481.5,301.4 L480.4,304.0 L476.5,303.2 Z" fill="#fff" stroke="none" stroke-width="0.00" stroke-linejoin="round" stroke-linecap="round"/>
<path d="M476.2,304.8 L475.4,306.1 L478.0,309.1 L476.3,311.3 L473.2,308.9 L472.2,310.0 L471.1,311.0 L472.5,315.2 L470.3,316.8 L468.5,313.0 L467.3,313.7 L466.1,314.3 L465.9,319.2 L463.6,320.0 L463.2,315.3 L462.0,315.5 L460.8,315.7 L459.2,320.7 L457.0,320.6 L458.1,315.5 L457.0,315.2 L455.9,314.9 L453.0,319.4 L451.2,318.4 L453.7,313.6 L452.9,312.9 L452.1,312.0 L448.3,315.5 L447.1,313.7 L450.6,309.8 L450.1,308.7 L449.7,307.5 L445.4,309.5 L444.9,307.1 L449.1,304.5 L449.0,303.2 L449.1,301.8 L444.8,302.1 L445.2,299.4 L449.5,298.5 L449.8,297.1 L450.3,295.6 L446.6,294.2 L447.7,291.6 L451.6,292.4 L452.3,291.0 L453.1,289.7 L450.5,286.7 L452.2,284.5 L455.3,286.9 L456.3,285.8 L457.4,284.8 L456.0,280.6 L458.2,279.0 L460.0,282.8 L461.2,282.1 L462.4,281.5 L462.6,276.6 L464.9,275.8 L465.3,280.5 L466.5,280.3 L467.7,280.1 L469.3,275.1 L471.5,275.2 L470.4,280.3 L471.5,280.6 L472.6,280.9 L475.5,276.4 L477.3,277.4 L474.8,282.2 L475.6,282.9 L476.4,283.8 L480.2,280.3 L481.4,282.1 L477.9,286.0 L478.4,287.1 L478.8,288.3 L483.1,286.3 L483.6,288.7 L479.4,291.3 L479.5,292.6 L479.4,294.0 L483.7,293.7 L483.3,296.4 L479.0,297.3 L478.7,298.7 L478.2,300.2 L481.9,301.6 L480.8,304.2 L476.9,303.4 Z" fill="#fff" stroke="none" stroke-width="0.00" stroke-linejoin="round" stroke-linecap="round"/>
<path d="M476.6,305.0 L475.8,306.3 L478.4,309.3 L476.7,311.5 L473.6,309.1 L472.6,310.2 L471.5,311.2 L472.9,315.4 L470.7,317.0 L468.9,313.2 L467.7,313.9 L466.5,314.5 L466.3,319.4 L464.0,320.2 L463.6,315.5 L462.4,315.7 L461.2,315.9 L459.6,320.9 L457.4,320.8 L458.5,315.7 L457.4,315.4 L456.4,315.1 L453.5,319.6 L451.6,318.6 L454.1,313.8 L453.3,313.1 L452.5,312.2 L448.7,315.7 L447.5,313.9 L451.0,310.0 L450.5,308.9 L450.1,307.7 L445.8,309.7 L445.4,307.3 L449.5,304.7 L449.5,303.4 L449.5,302.0 L445.2,302.3 L445.6,299.6 L449.9,298.7 L450.2,297.3 L450.7,295.8 L447.0,294.4 L448.1,291.8 L452.0,292.6 L452.8,291.2 L453.6,289.9 L450.9,286.9 L452.6,284.7 L455.7,287.1 L456.7,286.0 L457.8,285.0 L456.5,280.8 L458.6,279.2 L460.5,283.0 L461.6,282.3 L462.8,281.7 L463.0,276.8 L465.3,276.0 L465.7,280.7 L466.9,280.5 L468.1,280.3 L469.7,275.3 L471.9,275.4 L470.8,280.5 L471.9,280.8 L473.0,281.1 L475.9,276.6 L477.7,277.6 L475.2,282.4 L476.1,283.1 L476.8,284.0 L480.7,280.5 L481.9,282.3 L478.3,286.2 L478.8,287.3 L479.2,288.5 L483.5,286.5 L484.0,288.9 L479.8,291.5 L479.9,292.8 L479.9,294.2 L484.1,293.9 L483.7,296.6 L479.4,297.5 L479.1,298.9 L478.7,300.4 L482.3,301.8 L481.2,304.4 L477.3,303.6 Z" fill="#fff" stroke="none" stroke-width="0.00" stroke-linejoin="round" stroke-linecap="round"/>
<path d="M477.0,305.2 L476.2,306.5 L478.8,309.5 L477.1,311.7 L474.0,309.3 L473.0,310.4 L472.0,311.4 L473.3,315.6 L471.1,317.2 L469.3,313.4 L468.1,314.1 L466.9,314.7 L466.7,319.6 L464.4,320.4 L464.0,315.7 L462.8,315.9 L461.6,316.1 L460.0,321.1 L457.8,321.0 L458.9,315.9 L457.8,315.6 L456.8,315.3 L453.9,319.8 L452.1,318.8 L454.5,314.0 L453.7,313.3 L452.9,312.4 L449.1,315.9 L447.9,314.1 L451.4,310.2 L450.9,309.1 L450.5,307.9 L446.2,309.9 L445.8,307.5 L450.0,304.9 L449.9,303.6 L449.9,302.2 L445.7,302.5 L446.0,299.8 L450.3,298.9 L450.7,297.5 L451.1,296.0 L447.4,294.6 L448.5,292.0 L452.5,292.8 L453.2,291.4 L454.0,290.1 L451.3,287.1 L453.1,284.9 L456.1,287.3 L457.1,286.2 L458.2,285.2 L456.9,281.0 L459.0,279.4 L460.9,283.2 L462.1,282.5 L463.3,281.9 L463.4,277.0 L465.7,276.2 L466.1,280.9 L467.3,280.7 L468.5,280.5 L470.2,275.5 L472.4,275.6 L471.2,280.7 L472.3,281.0 L473.4,281.3 L476.3,276.8 L478.1,277.8 L475.6,282.6 L476.5,283.3 L477.2,284.2 L481.1,280.7 L482.3,282.5 L478.7,286.4 L479.2,287.5 L479.6,288.7 L483.9,286.7 L484.4,289.1 L480.2,291.7 L480.3,293.0 L480.3,294.4 L484.5,294.1 L484.2,296.8 L479.8,297.7 L479.5,299.1 L479.1,300.6 L482.7,302.0 L481.6,304.6 L477.7,303.8 Z" fill="#fff" stroke="none" stroke-width="0.00" stroke-linejoin="round" stroke-linecap="round"/>
<line x1="479.3" y1="309.7" x2="476.8" y2="308.5" stroke="#000" stroke-width="0.93"/>
<line x1="477.5" y1="311.9" x2="475.0" y2="310.7" stroke="#000" stroke-width="0.93"/>
<line x1="473.7" y1="315.8" x2="471.2" y2="314.6" stroke="#000" stroke-width="0.93"/>
<line x1="471.6" y1="317.4" x2="469.1" y2="316.2" stroke="#000" stroke-width="0.93"/>
<line x1="467.2" y1="319.8" x2="464.7" y2="318.6" stroke="#000" stroke-width="0.93"/>
<line x1="464.9" y1="320.6" x2="462.4" y2="319.4" stroke="#000" stroke-width="0.93"/>
<line x1="460.4" y1="321.3" x2="457.9" y2="320.1" stroke="#000" stroke-width="0.93"/>
<line x1="458.2" y1="321.2" x2="455.7" y2="320.0" stroke="#000" stroke-width="0.93"/>
<line x1="454.3" y1="320.0" x2="451.8" y2="318.8" stroke="#000" stroke-width="0.93"/>
<line x1="452.5" y1="319.0" x2="450.0" y2="317.8" stroke="#000" stroke-width="0.93"/>
<line x1="449.5" y1="316.1" x2="447.0" y2="314.9" stroke="#000" stroke-width="0.93"/>
<line x1="448.3" y1="314.3" x2="445.8" y2="313.1" stroke="#000" stroke-width="0.93"/>
<line x1="446.7" y1="310.1" x2="444.2" y2="308.9" stroke="#000" stroke-width="0.93"/>
<line x1="446.2" y1="307.7" x2="443.7" y2="306.5" stroke="#000" stroke-width="0.93"/>
<line x1="446.1" y1="302.7" x2="443.6" y2="301.5" stroke="#000" stroke-width="0.93"/>
<line x1="446.4" y1="300.0" x2="443.9" y2="298.8" stroke="#000" stroke-width="0.93"/>
<line x1="447.8" y1="294.8" x2="445.3" y2="293.6" stroke="#000" stroke-width="0.93"/>
<line x1="448.9" y1="292.2" x2="446.4" y2="291.0" stroke="#000" stroke-width="0.93"/>
<line x1="451.7" y1="287.3" x2="449.2" y2="286.1" stroke="#000" stroke-width="0.93"/>
<line x1="453.5" y1="285.1" x2="451.0" y2="283.9" stroke="#000" stroke-width="0.93"/>
<line x1="457.3" y1="281.2" x2="454.8" y2="280.0" stroke="#000" stroke-width="0.93"/>
<line x1="459.4" y1="279.6" x2="456.9" y2="278.4" stroke="#000" stroke-width="0.93"/>
<line x1="463.8" y1="277.2" x2="461.3" y2="276.0" stroke="#000" stroke-width="0.93"/>
<line x1="466.1" y1="276.4" x2="463.6" y2="275.2" stroke="#000" stroke-width="0.93"/>
<line x1="470.6" y1="275.7" x2="468.1" y2="274.5" stroke="#000" stroke-width="0.93"/>
<line x1="472.8" y1="275.8" x2="470.3" y2="274.6" stroke="#000" stroke-width="0.93"/>
<line x1="476.7" y1="277.0" x2="474.2" y2="275.8" stroke="#000" stroke-width="0.93"/>
<line x1="478.5" y1="278.0" x2="476.0" y2="276.8" stroke="#000" stroke-width="0.93"/>
<line x1="481.5" y1="280.9" x2="479.0" y2="279.7" stroke="#000" stroke-width="0.93"/>
<line x1="482.7" y1="282.7" x2="480.2" y2="281.5" stroke="#000" stroke-width="0.93"/>
<line x1="484.3" y1="286.9" x2="481.8" y2="285.7" stroke="#000" stroke-width="0.93"/>
<line x1="484.8" y1="289.3" x2="482.3" y2="288.1" stroke="#000" stroke-width="0.93"/>
<line x1="484.9" y1="294.3" x2="482.4" y2="293.1" stroke="#000" stroke-width="0.93"/>
<line x1="484.6" y1="297.0" x2="482.1" y2="295.8" stroke="#000" stroke-width="0.93"/>
<line x1="483.2" y1="302.2" x2="480.7" y2="301.0" stroke="#000" stroke-width="0.93"/>
<line x1="482.1" y1="304.8" x2="479.6" y2="303.6" stroke="#000" stroke-width="0.93"/>
<path d="M477.4,305.4 L476.6,306.7 L479.3,309.7 L477.5,311.9 L474.5,309.5 L473.4,310.6 L472.4,311.6 L473.7,315.8 L471.6,317.4 L469.7,313.6 L468.5,314.3 L467.3,314.9 L467.2,319.8 L464.9,320.6 L464.5,315.9 L463.3,316.1 L462.1,316.3 L460.4,321.3 L458.2,321.2 L459.3,316.1 L458.2,315.8 L457.2,315.5 L454.3,320.0 L452.5,319.0 L455.0,314.2 L454.1,313.5 L453.3,312.6 L449.5,316.1 L448.3,314.3 L451.8,310.4 L451.4,309.3 L450.9,308.1 L446.7,310.1 L446.2,307.7 L450.4,305.1 L450.3,303.8 L450.3,302.4 L446.1,302.7 L446.4,300.0 L450.7,299.1 L451.1,297.7 L451.5,296.2 L447.8,294.8 L448.9,292.2 L452.9,293.0 L453.6,291.6 L454.4,290.3 L451.7,287.3 L453.5,285.1 L456.5,287.5 L457.6,286.4 L458.6,285.4 L457.3,281.2 L459.4,279.6 L461.3,283.4 L462.5,282.7 L463.7,282.1 L463.8,277.2 L466.1,276.4 L466.5,281.1 L467.7,280.9 L468.9,280.7 L470.6,275.7 L472.8,275.8 L471.7,280.9 L472.8,281.2 L473.8,281.5 L476.7,277.0 L478.5,278.0 L476.0,282.8 L476.9,283.5 L477.7,284.4 L481.5,280.9 L482.7,282.7 L479.2,286.6 L479.6,287.7 L480.1,288.9 L484.3,286.9 L484.8,289.3 L480.6,291.9 L480.7,293.2 L480.7,294.6 L484.9,294.3 L484.6,297.0 L480.3,297.9 L479.9,299.3 L479.5,300.8 L483.2,302.2 L482.1,304.8 L478.1,304.0 Z" fill="#fff" stroke="#000" stroke-width="1.03" stroke-linejoin="round" stroke-linecap="round"/>
<ellipse cx="465.5" cy="298.0" rx="14.2" ry="19.5" transform="rotate(30.0 465.5 298.0)" fill="none" stroke="#000" stroke-width="0.92"/>
<ellipse cx="474.5" cy="303.2" rx="2.0" ry="2.8" transform="rotate(30.0 474.5 303.2)" fill="none" stroke="#000" stroke-width="1.03"/>
<ellipse cx="466.8" cy="310.4" rx="2.0" ry="2.8" transform="rotate(30.0 466.8 310.4)" fill="none" stroke="#000" stroke-width="1.03"/>
<ellipse cx="458.4" cy="310.4" rx="2.0" ry="2.8" transform="rotate(30.0 458.4 310.4)" fill="none" stroke="#000" stroke-width="1.03"/>
<ellipse cx="454.1" cy="303.1" rx="2.0" ry="2.8" transform="rotate(30.0 454.1 303.1)" fill="none" stroke="#000" stroke-width="1.03"/>
<ellipse cx="456.5" cy="292.8" rx="2.0" ry="2.8" transform="rotate(30.0 456.5 292.8)" fill="none" stroke="#000" stroke-width="1.03"/>
<ellipse cx="464.2" cy="285.6" rx="2.0" ry="2.8" transform="rotate(30.0 464.2 285.6)" fill="none" stroke="#000" stroke-width="1.03"/>
<ellipse cx="472.6" cy="285.6" rx="2.0" ry="2.8" transform="rotate(30.0 472.6 285.6)" fill="none" stroke="#000" stroke-width="1.03"/>
<ellipse cx="476.9" cy="292.9" rx="2.0" ry="2.8" transform="rotate(30.0 476.9 292.9)" fill="none" stroke="#000" stroke-width="1.03"/>
<ellipse cx="466.0" cy="298.5" rx="5.1" ry="7.5" transform="rotate(30.0 466.0 298.5)" fill="none" stroke="#000" stroke-width="1.03"/>
<path d="M462,291 l3,-2 l1,4" fill="none" stroke="#000" stroke-width="0.92" stroke-linejoin="round" stroke-linecap="round"/>
<line x1="493.5" y1="254.4" x2="480.0" y2="278.0" stroke="#000" stroke-width="1.15"/>
<path d="M512.0,327.9 L511.4,329.0 L513.0,330.9 L511.4,333.3 L509.3,332.2 L508.6,333.1 L508.0,334.0 L509.0,336.6 L507.3,338.8 L505.7,337.0 L504.9,337.8 L504.2,338.6 L504.7,341.7 L502.8,343.7 L501.7,341.2 L500.9,341.9 L500.2,342.6 L500.1,346.1 L498.1,347.7 L497.6,344.6 L496.8,345.2 L496.0,345.7 L495.4,349.6 L493.5,350.8 L493.5,347.2 L492.7,347.6 L491.9,347.9 L490.8,352.0 L488.9,352.7 L489.5,348.8 L488.7,349.0 L488.0,349.2 L486.3,353.4 L484.6,353.6 L485.7,349.5 L485.0,349.5 L484.4,349.4 L482.3,353.5 L480.7,353.2 L482.3,349.1 L481.8,348.9 L481.2,348.7 L478.7,352.5 L477.4,351.8 L479.5,347.7 L479.0,347.3 L478.5,346.9 L475.8,350.4 L474.7,349.2 L477.2,345.3 L476.8,344.8 L476.5,344.2 L473.5,347.2 L472.8,345.6 L475.6,342.0 L475.4,341.3 L475.2,340.6 L472.1,343.1 L471.8,341.1 L474.7,338.0 L474.7,337.2 L474.6,336.3 L471.5,338.1 L471.5,335.8 L474.6,333.3 L474.7,332.4 L474.8,331.4 L471.8,332.5 L472.2,330.0 L475.3,328.2 L475.5,327.2 L475.7,326.2 L473.0,326.5 L473.7,323.8 L476.7,322.7 L477.0,321.7 L477.4,320.6 L474.9,320.2 L476.0,317.5 L478.8,317.2 L479.2,316.1 L479.7,315.1 L477.7,313.9 L479.0,311.3 L481.5,311.7 L482.0,310.7 L482.6,309.6 L481.0,307.7 L482.6,305.3 L484.7,306.4 L485.4,305.5 L486.0,304.6 L485.0,302.0 L486.7,299.8 L488.3,301.6 L489.1,300.8 L489.8,300.0 L489.3,296.9 L491.2,294.9 L492.3,297.4 L493.1,296.7 L493.8,296.0 L493.9,292.5 L495.9,290.9 L496.4,294.0 L497.2,293.4 L498.0,292.9 L498.6,289.0 L500.5,287.8 L500.5,291.4 L501.3,291.0 L502.1,290.7 L503.2,286.6 L505.1,285.9 L504.5,289.8 L505.3,289.6 L506.0,289.4 L507.7,285.2 L509.4,285.0 L508.3,289.1 L509.0,289.1 L509.6,289.2 L511.7,285.1 L513.3,285.4 L511.7,289.5 L512.2,289.7 L512.8,289.9 L515.3,286.1 L516.6,286.8 L514.5,290.9 L515.0,291.3 L515.5,291.7 L518.2,288.2 L519.3,289.4 L516.8,293.3 L517.2,293.8 L517.5,294.4 L520.5,291.4 L521.2,293.0 L518.4,296.6 L518.6,297.3 L518.8,298.0 L521.9,295.5 L522.2,297.5 L519.3,300.6 L519.3,301.4 L519.4,302.3 L522.5,300.5 L522.5,302.8 L519.4,305.3 L519.3,306.2 L519.2,307.2 L522.2,306.1 L521.8,308.6 L518.7,310.4 L518.5,311.4 L518.3,312.4 L521.0,312.1 L520.3,314.8 L517.3,315.9 L517.0,316.9 L516.6,318.0 L519.1,318.4 L518.0,321.1 L515.2,321.4 L514.8,322.5 L514.3,323.5 L516.3,324.7 L515.0,327.3 L512.5,326.9 Z" fill="#fff" stroke="#000" stroke-width="1.03" stroke-linejoin="round" stroke-linecap="round"/>
<path d="M513.3,328.5 L512.7,329.5 L514.3,331.4 L512.7,333.9 L510.6,332.7 L510.0,333.7 L509.3,334.6 L510.4,337.2 L508.6,339.4 L507.0,337.5 L506.3,338.4 L505.5,339.2 L506.0,342.3 L504.1,344.3 L503.0,341.7 L502.3,342.5 L501.5,343.1 L501.5,346.7 L499.5,348.3 L498.9,345.2 L498.1,345.8 L497.4,346.3 L496.8,350.2 L494.8,351.3 L494.8,347.8 L494.0,348.2 L493.3,348.5 L492.1,352.6 L490.2,353.3 L490.8,349.4 L490.1,349.6 L489.3,349.8 L487.7,353.9 L485.9,354.2 L487.0,350.1 L486.4,350.1 L485.7,350.0 L483.6,354.1 L482.0,353.8 L483.7,349.7 L483.1,349.5 L482.5,349.3 L480.0,353.1 L478.7,352.3 L480.8,348.3 L480.3,347.9 L479.9,347.5 L477.1,351.0 L476.1,349.8 L478.5,345.9 L478.2,345.3 L477.8,344.8 L474.9,347.8 L474.2,346.1 L476.9,342.6 L476.7,341.9 L476.5,341.2 L473.4,343.6 L473.1,341.6 L476.1,338.6 L476.0,337.8 L475.9,336.9 L472.9,338.7 L472.9,336.4 L476.0,333.9 L476.0,333.0 L476.1,332.0 L473.2,333.1 L473.5,330.6 L476.6,328.8 L476.8,327.8 L477.1,326.7 L474.3,327.1 L475.0,324.4 L478.0,323.3 L478.3,322.3 L478.7,321.2 L476.3,320.8 L477.3,318.1 L480.1,317.8 L480.6,316.7 L481.0,315.7 L479.0,314.4 L480.3,311.8 L482.8,312.3 L483.4,311.2 L484.0,310.2 L482.4,308.3 L484.0,305.8 L486.0,307.0 L486.7,306.1 L487.4,305.1 L486.3,302.6 L488.1,300.3 L489.7,302.2 L490.4,301.4 L491.2,300.6 L490.6,297.4 L492.5,295.5 L493.6,298.0 L494.4,297.3 L495.2,296.6 L495.2,293.1 L497.2,291.5 L497.7,294.6 L498.5,294.0 L499.3,293.5 L499.9,289.6 L501.9,288.4 L501.9,292.0 L502.6,291.6 L503.4,291.2 L504.6,287.1 L506.5,286.5 L505.9,290.3 L506.6,290.1 L507.3,290.0 L509.0,285.8 L510.8,285.6 L509.6,289.7 L510.3,289.7 L511.0,289.7 L513.1,285.7 L514.6,285.9 L513.0,290.1 L513.6,290.3 L514.1,290.5 L516.6,286.7 L518.0,287.4 L515.9,291.5 L516.3,291.9 L516.8,292.3 L519.6,288.8 L520.6,290.0 L518.1,293.9 L518.5,294.4 L518.8,295.0 L521.8,292.0 L522.5,293.6 L519.7,297.1 L520.0,297.8 L520.1,298.6 L523.2,296.1 L523.6,298.1 L520.6,301.2 L520.7,302.0 L520.7,302.9 L523.8,301.1 L523.8,303.4 L520.7,305.8 L520.6,306.8 L520.5,307.7 L523.5,306.7 L523.1,309.2 L520.1,311.0 L519.8,312.0 L519.6,313.0 L522.4,312.7 L521.6,315.3 L518.7,316.4 L518.3,317.5 L518.0,318.6 L520.4,319.0 L519.3,321.7 L516.6,322.0 L516.1,323.1 L515.6,324.1 L517.7,325.3 L516.3,327.9 L513.9,327.5 Z" fill="#fff" stroke="none" stroke-width="0.00" stroke-linejoin="round" stroke-linecap="round"/>
<path d="M514.6,329.1 L514.0,330.1 L515.6,332.0 L514.0,334.5 L512.0,333.3 L511.3,334.3 L510.6,335.2 L511.7,337.8 L509.9,340.0 L508.3,338.1 L507.6,339.0 L506.8,339.8 L507.4,342.9 L505.5,344.9 L504.4,342.3 L503.6,343.0 L502.8,343.7 L502.8,347.3 L500.8,348.9 L500.3,345.8 L499.5,346.3 L498.7,346.9 L498.1,350.8 L496.1,351.9 L496.1,348.4 L495.4,348.8 L494.6,349.1 L493.4,353.2 L491.5,353.9 L492.1,350.0 L491.4,350.2 L490.7,350.4 L489.0,354.5 L487.2,354.7 L488.4,350.6 L487.7,350.6 L487.0,350.6 L484.9,354.7 L483.4,354.4 L485.0,350.3 L484.4,350.1 L483.9,349.8 L481.4,353.7 L480.0,352.9 L482.1,348.8 L481.7,348.5 L481.2,348.1 L478.4,351.6 L477.4,350.3 L479.9,346.5 L479.5,345.9 L479.2,345.3 L476.2,348.4 L475.5,346.7 L478.3,343.2 L478.0,342.5 L477.9,341.8 L474.8,344.2 L474.4,342.2 L477.4,339.2 L477.3,338.3 L477.3,337.5 L474.2,339.3 L474.2,337.0 L477.3,334.5 L477.4,333.6 L477.5,332.6 L474.5,333.7 L474.9,331.2 L477.9,329.4 L478.2,328.3 L478.4,327.3 L475.6,327.6 L476.4,325.0 L479.3,323.9 L479.7,322.9 L480.0,321.8 L477.6,321.3 L478.7,318.7 L481.4,318.3 L481.9,317.3 L482.4,316.2 L480.3,315.0 L481.7,312.4 L484.1,312.8 L484.7,311.8 L485.3,310.8 L483.7,308.9 L485.3,306.4 L487.4,307.6 L488.0,306.7 L488.7,305.7 L487.6,303.2 L489.4,300.9 L491.0,302.8 L491.7,302.0 L492.5,301.1 L492.0,298.0 L493.9,296.1 L495.0,298.6 L495.7,297.9 L496.5,297.2 L496.5,293.6 L498.5,292.1 L499.1,295.2 L499.9,294.6 L500.6,294.1 L501.2,290.2 L503.2,289.0 L503.2,292.6 L504.0,292.2 L504.7,291.8 L505.9,287.7 L507.8,287.0 L507.2,290.9 L507.9,290.7 L508.7,290.6 L510.3,286.4 L512.1,286.2 L511.0,290.3 L511.6,290.3 L512.3,290.3 L514.4,286.2 L516.0,286.5 L514.3,290.7 L514.9,290.9 L515.5,291.1 L518.0,287.2 L519.3,288.0 L517.2,292.1 L517.7,292.5 L518.1,292.9 L520.9,289.4 L521.9,290.6 L519.5,294.5 L519.8,295.0 L520.2,295.6 L523.1,292.6 L523.8,294.2 L521.1,297.7 L521.3,298.4 L521.5,299.2 L524.6,296.7 L524.9,298.7 L521.9,301.8 L522.0,302.6 L522.1,303.5 L525.1,301.7 L525.1,303.9 L522.0,306.4 L522.0,307.4 L521.9,308.3 L524.8,307.3 L524.5,309.8 L521.4,311.6 L521.2,312.6 L520.9,313.6 L523.7,313.3 L523.0,315.9 L520.0,317.0 L519.7,318.1 L519.3,319.1 L521.7,319.6 L520.7,322.2 L517.9,322.6 L517.4,323.6 L517.0,324.7 L519.0,325.9 L517.7,328.5 L515.2,328.1 Z" fill="#fff" stroke="none" stroke-width="0.00" stroke-linejoin="round" stroke-linecap="round"/>
<path d="M516.0,329.7 L515.4,330.7 L517.0,332.6 L515.4,335.1 L513.3,333.9 L512.6,334.9 L512.0,335.8 L513.0,338.4 L511.3,340.6 L509.7,338.7 L508.9,339.6 L508.2,340.4 L508.7,343.5 L506.8,345.4 L505.7,342.9 L504.9,343.6 L504.2,344.3 L504.1,347.9 L502.1,349.5 L501.6,346.4 L500.8,346.9 L500.0,347.4 L499.4,351.4 L497.5,352.5 L497.5,348.9 L496.7,349.3 L495.9,349.7 L494.8,353.8 L492.9,354.5 L493.5,350.6 L492.7,350.8 L492.0,351.0 L490.3,355.1 L488.6,355.3 L489.7,351.2 L489.0,351.2 L488.4,351.2 L486.3,355.3 L484.7,355.0 L486.3,350.8 L485.8,350.6 L485.2,350.4 L482.7,354.3 L481.4,353.5 L483.5,349.4 L483.0,349.1 L482.5,348.6 L479.8,352.1 L478.7,350.9 L481.2,347.1 L480.8,346.5 L480.5,345.9 L477.5,348.9 L476.8,347.3 L479.6,343.8 L479.4,343.1 L479.2,342.4 L476.1,344.8 L475.8,342.8 L478.7,339.8 L478.7,338.9 L478.6,338.1 L475.5,339.8 L475.5,337.6 L478.6,335.1 L478.7,334.1 L478.8,333.2 L475.8,334.3 L476.2,331.8 L479.3,329.9 L479.5,328.9 L479.7,327.9 L477.0,328.2 L477.7,325.6 L480.7,324.5 L481.0,323.4 L481.4,322.4 L478.9,321.9 L480.0,319.3 L482.8,318.9 L483.2,317.9 L483.7,316.8 L481.7,315.6 L483.0,313.0 L485.5,313.4 L486.0,312.4 L486.6,311.4 L485.0,309.5 L486.6,307.0 L488.7,308.2 L489.4,307.2 L490.0,306.3 L489.0,303.7 L490.7,301.5 L492.3,303.4 L493.1,302.5 L493.8,301.7 L493.3,298.6 L495.2,296.7 L496.3,299.2 L497.1,298.5 L497.8,297.8 L497.9,294.2 L499.9,292.6 L500.4,295.7 L501.2,295.2 L502.0,294.7 L502.6,290.7 L504.5,289.6 L504.5,293.2 L505.3,292.8 L506.1,292.4 L507.2,288.3 L509.1,287.6 L508.5,291.5 L509.3,291.3 L510.0,291.1 L511.7,287.0 L513.4,286.8 L512.3,290.9 L513.0,290.9 L513.6,290.9 L515.7,286.8 L517.3,287.1 L515.7,291.3 L516.2,291.5 L516.8,291.7 L519.3,287.8 L520.6,288.6 L518.5,292.7 L519.0,293.0 L519.5,293.5 L522.2,290.0 L523.3,291.2 L520.8,295.0 L521.2,295.6 L521.5,296.2 L524.5,293.2 L525.2,294.8 L522.4,298.3 L522.6,299.0 L522.8,299.7 L525.9,297.3 L526.2,299.3 L523.3,302.3 L523.3,303.2 L523.4,304.0 L526.5,302.3 L526.5,304.5 L523.4,307.0 L523.3,308.0 L523.2,308.9 L526.2,307.8 L525.8,310.3 L522.7,312.2 L522.5,313.2 L522.3,314.2 L525.0,313.9 L524.3,316.5 L521.3,317.6 L521.0,318.7 L520.6,319.7 L523.1,320.2 L522.0,322.8 L519.2,323.2 L518.8,324.2 L518.3,325.3 L520.3,326.5 L519.0,329.1 L516.5,328.7 Z" fill="#fff" stroke="none" stroke-width="0.00" stroke-linejoin="round" stroke-linecap="round"/>
<path d="M517.3,330.3 L516.7,331.3 L518.3,333.2 L516.7,335.7 L514.6,334.5 L514.0,335.4 L513.3,336.4 L514.4,338.9 L512.6,341.2 L511.0,339.3 L510.3,340.1 L509.5,341.0 L510.0,344.1 L508.1,346.0 L507.0,343.5 L506.3,344.2 L505.5,344.9 L505.5,348.5 L503.5,350.0 L502.9,346.9 L502.1,347.5 L501.4,348.0 L500.8,351.9 L498.8,353.1 L498.8,349.5 L498.0,349.9 L497.3,350.3 L496.1,354.4 L494.2,355.1 L494.8,351.2 L494.1,351.4 L493.3,351.5 L491.7,355.7 L489.9,355.9 L491.0,351.8 L490.4,351.8 L489.7,351.8 L487.6,355.9 L486.0,355.6 L487.7,351.4 L487.1,351.2 L486.5,351.0 L484.0,354.9 L482.7,354.1 L484.8,350.0 L484.3,349.6 L483.9,349.2 L481.1,352.7 L480.1,351.5 L482.5,347.6 L482.2,347.1 L481.8,346.5 L478.9,349.5 L478.2,347.9 L480.9,344.4 L480.7,343.7 L480.5,342.9 L477.4,345.4 L477.1,343.4 L480.1,340.3 L480.0,339.5 L479.9,338.6 L476.9,340.4 L476.9,338.2 L480.0,335.7 L480.0,334.7 L480.1,333.8 L477.2,334.8 L477.5,332.3 L480.6,330.5 L480.8,329.5 L481.1,328.5 L478.3,328.8 L479.0,326.2 L482.0,325.1 L482.3,324.0 L482.7,323.0 L480.3,322.5 L481.3,319.9 L484.1,319.5 L484.6,318.5 L485.0,317.4 L483.0,316.2 L484.3,313.6 L486.8,314.0 L487.4,313.0 L488.0,312.0 L486.4,310.1 L488.0,307.6 L490.0,308.8 L490.7,307.8 L491.4,306.9 L490.3,304.3 L492.1,302.1 L493.7,304.0 L494.4,303.1 L495.2,302.3 L494.6,299.2 L496.5,297.2 L497.6,299.8 L498.4,299.1 L499.2,298.4 L499.2,294.8 L501.2,293.2 L501.7,296.3 L502.5,295.8 L503.3,295.2 L503.9,291.3 L505.9,290.2 L505.9,293.7 L506.6,293.3 L507.4,293.0 L508.6,288.9 L510.5,288.2 L509.9,292.1 L510.6,291.9 L511.3,291.7 L513.0,287.6 L514.8,287.4 L513.6,291.5 L514.3,291.5 L515.0,291.5 L517.1,287.4 L518.6,287.7 L517.0,291.8 L517.6,292.0 L518.1,292.3 L520.6,288.4 L522.0,289.2 L519.9,293.3 L520.3,293.6 L520.8,294.0 L523.6,290.5 L524.6,291.8 L522.1,295.6 L522.5,296.2 L522.8,296.8 L525.8,293.7 L526.5,295.4 L523.7,298.9 L524.0,299.6 L524.1,300.3 L527.2,297.9 L527.6,299.9 L524.6,302.9 L524.7,303.8 L524.7,304.6 L527.8,302.8 L527.8,305.1 L524.7,307.6 L524.6,308.5 L524.5,309.5 L527.5,308.4 L527.1,310.9 L524.1,312.7 L523.8,313.8 L523.6,314.8 L526.4,314.5 L525.6,317.1 L522.7,318.2 L522.3,319.2 L522.0,320.3 L524.4,320.8 L523.3,323.4 L520.6,323.8 L520.1,324.8 L519.6,325.9 L521.7,327.1 L520.3,329.7 L517.9,329.3 Z" fill="#fff" stroke="none" stroke-width="0.00" stroke-linejoin="round" stroke-linecap="round"/>
<path d="M518.6,330.9 L518.0,331.9 L519.6,333.8 L518.0,336.3 L516.0,335.1 L515.3,336.0 L514.6,337.0 L515.7,339.5 L513.9,341.8 L512.3,339.9 L511.6,340.7 L510.8,341.5 L511.4,344.7 L509.5,346.6 L508.4,344.1 L507.6,344.8 L506.8,345.5 L506.8,349.0 L504.8,350.6 L504.3,347.5 L503.5,348.1 L502.7,348.6 L502.1,352.5 L500.1,353.7 L500.1,350.1 L499.4,350.5 L498.6,350.9 L497.4,355.0 L495.5,355.6 L496.1,351.8 L495.4,352.0 L494.7,352.1 L493.0,356.3 L491.2,356.5 L492.4,352.4 L491.7,352.4 L491.0,352.4 L488.9,356.4 L487.4,356.2 L489.0,352.0 L488.4,351.8 L487.9,351.6 L485.4,355.4 L484.0,354.7 L486.1,350.6 L485.7,350.2 L485.2,349.8 L482.4,353.3 L481.4,352.1 L483.9,348.2 L483.5,347.7 L483.2,347.1 L480.2,350.1 L479.5,348.5 L482.3,345.0 L482.0,344.3 L481.9,343.5 L478.8,346.0 L478.4,344.0 L481.4,340.9 L481.3,340.1 L481.3,339.2 L478.2,341.0 L478.2,338.7 L481.3,336.3 L481.4,335.3 L481.5,334.4 L478.5,335.4 L478.9,332.9 L481.9,331.1 L482.2,330.1 L482.4,329.1 L479.6,329.4 L480.4,326.8 L483.3,325.7 L483.7,324.6 L484.0,323.5 L481.6,323.1 L482.7,320.4 L485.4,320.1 L485.9,319.0 L486.4,318.0 L484.3,316.8 L485.7,314.2 L488.1,314.6 L488.7,313.6 L489.3,312.6 L487.7,310.7 L489.3,308.2 L491.4,309.4 L492.0,308.4 L492.7,307.5 L491.6,304.9 L493.4,302.7 L495.0,304.6 L495.7,303.7 L496.5,302.9 L496.0,299.8 L497.9,297.8 L499.0,300.4 L499.7,299.6 L500.5,299.0 L500.5,295.4 L502.5,293.8 L503.1,296.9 L503.9,296.3 L504.6,295.8 L505.2,291.9 L507.2,290.8 L507.2,294.3 L508.0,293.9 L508.7,293.6 L509.9,289.5 L511.8,288.8 L511.2,292.7 L511.9,292.5 L512.7,292.3 L514.3,288.2 L516.1,287.9 L515.0,292.0 L515.6,292.0 L516.3,292.1 L518.4,288.0 L520.0,288.3 L518.3,292.4 L518.9,292.6 L519.5,292.8 L522.0,289.0 L523.3,289.8 L521.2,293.8 L521.7,294.2 L522.1,294.6 L524.9,291.1 L525.9,292.3 L523.5,296.2 L523.8,296.8 L524.2,297.3 L527.1,294.3 L527.8,296.0 L525.1,299.5 L525.3,300.2 L525.5,300.9 L528.6,298.5 L528.9,300.5 L525.9,303.5 L526.0,304.3 L526.1,305.2 L529.1,303.4 L529.1,305.7 L526.0,308.2 L526.0,309.1 L525.9,310.1 L528.8,309.0 L528.5,311.5 L525.4,313.3 L525.2,314.3 L524.9,315.4 L527.7,315.0 L527.0,317.7 L524.0,318.8 L523.7,319.8 L523.3,320.9 L525.7,321.3 L524.7,324.0 L521.9,324.3 L521.4,325.4 L521.0,326.4 L523.0,327.7 L521.7,330.3 L519.2,329.8 Z" fill="#fff" stroke="none" stroke-width="0.00" stroke-linejoin="round" stroke-linecap="round"/>
<line x1="521.0" y1="334.4" x2="513.0" y2="330.9" stroke="#000" stroke-width="0.93"/>
<line x1="519.4" y1="336.8" x2="511.4" y2="333.3" stroke="#000" stroke-width="0.93"/>
<line x1="517.0" y1="340.1" x2="509.0" y2="336.6" stroke="#000" stroke-width="0.93"/>
<line x1="515.3" y1="342.3" x2="507.3" y2="338.8" stroke="#000" stroke-width="0.93"/>
<line x1="512.7" y1="345.2" x2="504.7" y2="341.7" stroke="#000" stroke-width="0.93"/>
<line x1="510.8" y1="347.2" x2="502.8" y2="343.7" stroke="#000" stroke-width="0.93"/>
<line x1="508.1" y1="349.6" x2="500.1" y2="346.1" stroke="#000" stroke-width="0.93"/>
<line x1="506.1" y1="351.2" x2="498.1" y2="347.7" stroke="#000" stroke-width="0.93"/>
<line x1="503.4" y1="353.1" x2="495.4" y2="349.6" stroke="#000" stroke-width="0.93"/>
<line x1="501.5" y1="354.3" x2="493.5" y2="350.8" stroke="#000" stroke-width="0.93"/>
<line x1="498.8" y1="355.5" x2="490.8" y2="352.0" stroke="#000" stroke-width="0.93"/>
<line x1="496.9" y1="356.2" x2="488.9" y2="352.7" stroke="#000" stroke-width="0.93"/>
<line x1="494.3" y1="356.9" x2="486.3" y2="353.4" stroke="#000" stroke-width="0.93"/>
<line x1="492.6" y1="357.1" x2="484.6" y2="353.6" stroke="#000" stroke-width="0.93"/>
<line x1="490.3" y1="357.0" x2="482.3" y2="353.5" stroke="#000" stroke-width="0.93"/>
<line x1="488.7" y1="356.7" x2="480.7" y2="353.2" stroke="#000" stroke-width="0.93"/>
<line x1="486.7" y1="356.0" x2="478.7" y2="352.5" stroke="#000" stroke-width="0.93"/>
<line x1="485.4" y1="355.3" x2="477.4" y2="351.8" stroke="#000" stroke-width="0.93"/>
<line x1="483.8" y1="353.9" x2="475.8" y2="350.4" stroke="#000" stroke-width="0.93"/>
<line x1="482.7" y1="352.7" x2="474.7" y2="349.2" stroke="#000" stroke-width="0.93"/>
<line x1="481.5" y1="350.7" x2="473.5" y2="347.2" stroke="#000" stroke-width="0.93"/>
<line x1="480.8" y1="349.1" x2="472.8" y2="345.6" stroke="#000" stroke-width="0.93"/>
<line x1="480.1" y1="346.6" x2="472.1" y2="343.1" stroke="#000" stroke-width="0.93"/>
<line x1="479.8" y1="344.6" x2="471.8" y2="341.1" stroke="#000" stroke-width="0.93"/>
<line x1="479.5" y1="341.6" x2="471.5" y2="338.1" stroke="#000" stroke-width="0.93"/>
<line x1="479.5" y1="339.3" x2="471.5" y2="335.8" stroke="#000" stroke-width="0.93"/>
<line x1="479.8" y1="336.0" x2="471.8" y2="332.5" stroke="#000" stroke-width="0.93"/>
<line x1="480.2" y1="333.5" x2="472.2" y2="330.0" stroke="#000" stroke-width="0.93"/>
<line x1="481.0" y1="330.0" x2="473.0" y2="326.5" stroke="#000" stroke-width="0.93"/>
<line x1="481.7" y1="327.3" x2="473.7" y2="323.8" stroke="#000" stroke-width="0.93"/>
<line x1="482.9" y1="323.7" x2="474.9" y2="320.2" stroke="#000" stroke-width="0.93"/>
<line x1="484.0" y1="321.0" x2="476.0" y2="317.5" stroke="#000" stroke-width="0.93"/>
<line x1="485.7" y1="317.4" x2="477.7" y2="313.9" stroke="#000" stroke-width="0.93"/>
<line x1="487.0" y1="314.8" x2="479.0" y2="311.3" stroke="#000" stroke-width="0.93"/>
<line x1="489.0" y1="311.2" x2="481.0" y2="307.7" stroke="#000" stroke-width="0.93"/>
<line x1="490.6" y1="308.8" x2="482.6" y2="305.3" stroke="#000" stroke-width="0.93"/>
<line x1="493.0" y1="305.5" x2="485.0" y2="302.0" stroke="#000" stroke-width="0.93"/>
<line x1="494.7" y1="303.3" x2="486.7" y2="299.8" stroke="#000" stroke-width="0.93"/>
<line x1="497.3" y1="300.4" x2="489.3" y2="296.9" stroke="#000" stroke-width="0.93"/>
<line x1="499.2" y1="298.4" x2="491.2" y2="294.9" stroke="#000" stroke-width="0.93"/>
<line x1="501.9" y1="296.0" x2="493.9" y2="292.5" stroke="#000" stroke-width="0.93"/>
<line x1="503.9" y1="294.4" x2="495.9" y2="290.9" stroke="#000" stroke-width="0.93"/>
<line x1="506.6" y1="292.5" x2="498.6" y2="289.0" stroke="#000" stroke-width="0.93"/>
<line x1="508.5" y1="291.3" x2="500.5" y2="287.8" stroke="#000" stroke-width="0.93"/>
<line x1="511.2" y1="290.1" x2="503.2" y2="286.6" stroke="#000" stroke-width="0.93"/>
<line x1="513.1" y1="289.4" x2="505.1" y2="285.9" stroke="#000" stroke-width="0.93"/>
<line x1="515.7" y1="288.7" x2="507.7" y2="285.2" stroke="#000" stroke-width="0.93"/>
<line x1="517.4" y1="288.5" x2="509.4" y2="285.0" stroke="#000" stroke-width="0.93"/>
<line x1="519.7" y1="288.6" x2="511.7" y2="285.1" stroke="#000" stroke-width="0.93"/>
<line x1="521.3" y1="288.9" x2="513.3" y2="285.4" stroke="#000" stroke-width="0.93"/>
<line x1="523.3" y1="289.6" x2="515.3" y2="286.1" stroke="#000" stroke-width="0.93"/>
<line x1="524.6" y1="290.3" x2="516.6" y2="286.8" stroke="#000" stroke-width="0.93"/>
<line x1="526.2" y1="291.7" x2="518.2" y2="288.2" stroke="#000" stroke-width="0.93"/>
<line x1="527.3" y1="292.9" x2="519.3" y2="289.4" stroke="#000" stroke-width="0.93"/>
<line x1="528.5" y1="294.9" x2="520.5" y2="291.4" stroke="#000" stroke-width="0.93"/>
<line x1="529.2" y1="296.5" x2="521.2" y2="293.0" stroke="#000" stroke-width="0.93"/>
<line x1="529.9" y1="299.0" x2="521.9" y2="295.5" stroke="#000" stroke-width="0.93"/>
<line x1="530.2" y1="301.0" x2="522.2" y2="297.5" stroke="#000" stroke-width="0.93"/>
<line x1="530.5" y1="304.0" x2="522.5" y2="300.5" stroke="#000" stroke-width="0.93"/>
<line x1="530.5" y1="306.3" x2="522.5" y2="302.8" stroke="#000" stroke-width="0.93"/>
<line x1="530.2" y1="309.6" x2="522.2" y2="306.1" stroke="#000" stroke-width="0.93"/>
<line x1="529.8" y1="312.1" x2="521.8" y2="308.6" stroke="#000" stroke-width="0.93"/>
<line x1="529.0" y1="315.6" x2="521.0" y2="312.1" stroke="#000" stroke-width="0.93"/>
<line x1="528.3" y1="318.3" x2="520.3" y2="314.8" stroke="#000" stroke-width="0.93"/>
<line x1="527.1" y1="321.9" x2="519.1" y2="318.4" stroke="#000" stroke-width="0.93"/>
<line x1="526.0" y1="324.6" x2="518.0" y2="321.1" stroke="#000" stroke-width="0.93"/>
<line x1="524.3" y1="328.2" x2="516.3" y2="324.7" stroke="#000" stroke-width="0.93"/>
<line x1="523.0" y1="330.8" x2="515.0" y2="327.3" stroke="#000" stroke-width="0.93"/>
<path d="M520.0,331.4 L519.4,332.5 L521.0,334.4 L519.4,336.8 L517.3,335.7 L516.6,336.6 L516.0,337.5 L517.0,340.1 L515.3,342.3 L513.7,340.5 L512.9,341.3 L512.2,342.1 L512.7,345.2 L510.8,347.2 L509.7,344.7 L508.9,345.4 L508.2,346.1 L508.1,349.6 L506.1,351.2 L505.6,348.1 L504.8,348.7 L504.0,349.2 L503.4,353.1 L501.5,354.3 L501.5,350.7 L500.7,351.1 L499.9,351.4 L498.8,355.5 L496.9,356.2 L497.5,352.3 L496.7,352.5 L496.0,352.7 L494.3,356.9 L492.6,357.1 L493.7,353.0 L493.0,353.0 L492.4,352.9 L490.3,357.0 L488.7,356.7 L490.3,352.6 L489.8,352.4 L489.2,352.2 L486.7,356.0 L485.4,355.3 L487.5,351.2 L487.0,350.8 L486.5,350.4 L483.8,353.9 L482.7,352.7 L485.2,348.8 L484.8,348.3 L484.5,347.7 L481.5,350.7 L480.8,349.1 L483.6,345.5 L483.4,344.8 L483.2,344.1 L480.1,346.6 L479.8,344.6 L482.7,341.5 L482.7,340.7 L482.6,339.8 L479.5,341.6 L479.5,339.3 L482.6,336.8 L482.7,335.9 L482.8,334.9 L479.8,336.0 L480.2,333.5 L483.3,331.7 L483.5,330.7 L483.7,329.7 L481.0,330.0 L481.7,327.3 L484.7,326.2 L485.0,325.2 L485.4,324.1 L482.9,323.7 L484.0,321.0 L486.8,320.7 L487.2,319.6 L487.7,318.6 L485.7,317.4 L487.0,314.8 L489.5,315.2 L490.0,314.2 L490.6,313.1 L489.0,311.2 L490.6,308.8 L492.7,309.9 L493.4,309.0 L494.0,308.1 L493.0,305.5 L494.7,303.3 L496.3,305.1 L497.1,304.3 L497.8,303.5 L497.3,300.4 L499.2,298.4 L500.3,300.9 L501.1,300.2 L501.8,299.5 L501.9,296.0 L503.9,294.4 L504.4,297.5 L505.2,296.9 L506.0,296.4 L506.6,292.5 L508.5,291.3 L508.5,294.9 L509.3,294.5 L510.1,294.2 L511.2,290.1 L513.1,289.4 L512.5,293.3 L513.3,293.1 L514.0,292.9 L515.7,288.7 L517.4,288.5 L516.3,292.6 L517.0,292.6 L517.6,292.7 L519.7,288.6 L521.3,288.9 L519.7,293.0 L520.2,293.2 L520.8,293.4 L523.3,289.6 L524.6,290.3 L522.5,294.4 L523.0,294.8 L523.5,295.2 L526.2,291.7 L527.3,292.9 L524.8,296.8 L525.2,297.3 L525.5,297.9 L528.5,294.9 L529.2,296.5 L526.4,300.1 L526.6,300.8 L526.8,301.5 L529.9,299.0 L530.2,301.0 L527.3,304.1 L527.3,304.9 L527.4,305.8 L530.5,304.0 L530.5,306.3 L527.4,308.8 L527.3,309.7 L527.2,310.7 L530.2,309.6 L529.8,312.1 L526.7,313.9 L526.5,314.9 L526.3,315.9 L529.0,315.6 L528.3,318.3 L525.3,319.4 L525.0,320.4 L524.6,321.5 L527.1,321.9 L526.0,324.6 L523.2,324.9 L522.8,326.0 L522.3,327.0 L524.3,328.2 L523.0,330.8 L520.5,330.4 Z" fill="#fff" stroke="#000" stroke-width="1.03" stroke-linejoin="round" stroke-linecap="round"/>
<ellipse cx="505.0" cy="322.0" rx="16.0" ry="31.0" transform="rotate(30.0 505.0 322.0)" fill="none" stroke="#000" stroke-width="1.03"/>
<ellipse cx="507.5" cy="324.0" rx="7.4" ry="14.3" transform="rotate(30.0 507.5 324.0)" fill="#fff" stroke="#000" stroke-width="1.15"/>
<ellipse cx="508.0" cy="324.5" rx="4.6" ry="9.3" transform="rotate(30.0 508.0 324.5)" fill="none" stroke="#000" stroke-width="1.15"/>
<path d="M508,300 Q514,298 517,302 L514,308 Q508,309 506,305 Z" fill="none" stroke="#000" stroke-width="1.03" stroke-linejoin="round" stroke-linecap="round"/>
<path d="M486,312 Q489,306 492,310 L490,334 Q486,338 485,331 Z" fill="none" stroke="#000" stroke-width="1.03" stroke-linejoin="round" stroke-linecap="round"/>
<path d="M488,338 Q494,336 497,341 L495,347 Q489,348 487,343 Z" fill="none" stroke="#000" stroke-width="1.03" stroke-linejoin="round" stroke-linecap="round"/>
<line x1="535.0" y1="277.0" x2="525.0" y2="292.0" stroke="#000" stroke-width="1.15"/>
<path d="M522.5,347.5 L528,340.5 L531.5,336 L533,333 L536,331.2 L539,332.5 L541.5,331.5 L544,333.2 L544.3,334.2 L551.5,334.8 L552.2,347.5 L545,348.3 Q542,352.5 536,355.2 L531,355.5 L529.5,357.8 L525.5,357.5 L522.3,350.5 Z" fill="#fff" stroke="#000" stroke-width="1.15" stroke-linejoin="round" stroke-linecap="round"/>
<ellipse cx="537.5" cy="343.8" rx="4.2" ry="7.1" transform="rotate(30.0 537.5 343.8)" fill="none" stroke="#000" stroke-width="1.15"/>
<ellipse cx="537.8" cy="344.2" rx="3.2" ry="5.3" transform="rotate(30.0 537.8 344.2)" fill="none" stroke="#000" stroke-width="0.92"/>
<line x1="545.0" y1="335.0" x2="545.0" y2="347.5" stroke="#000" stroke-width="0.92"/>
<line x1="522.8" y1="349.0" x2="530.0" y2="345.5" stroke="#000" stroke-width="0.92"/>
<line x1="530.0" y1="345.5" x2="531.0" y2="355.5" stroke="#000" stroke-width="0.92"/>
<line x1="523.5" y1="350.0" x2="524.5" y2="356.5" stroke="#000" stroke-width="0.80"/>
<line x1="525.1" y1="350.2" x2="526.1" y2="356.8" stroke="#000" stroke-width="0.80"/>
<line x1="526.7" y1="350.4" x2="527.7" y2="357.1" stroke="#000" stroke-width="0.80"/>
<line x1="528.3" y1="350.6" x2="529.3" y2="357.4" stroke="#000" stroke-width="0.80"/>
<line x1="565.0" y1="297.0" x2="543.0" y2="335.0" stroke="#000" stroke-width="1.15"/>
<path d="M547.6,362.4 L548.7,349.6 L559.1,342.3 L563.6,344.8 L572.9,350.1 L571.8,362.9 L561.4,370.2 L556.9,367.7 Z" fill="#fff" stroke="#000" stroke-width="1.15" stroke-linejoin="round" stroke-linecap="round"/>
<line x1="571.8" y1="362.9" x2="567.3" y2="360.4" stroke="#000" stroke-width="1.03"/>
<line x1="561.4" y1="370.2" x2="556.9" y2="367.7" stroke="#000" stroke-width="1.03"/>
<line x1="552.1" y1="364.8" x2="547.6" y2="362.3" stroke="#000" stroke-width="1.03"/>
<line x1="553.2" y1="352.1" x2="548.7" y2="349.6" stroke="#000" stroke-width="1.03"/>
<line x1="563.6" y1="344.8" x2="559.1" y2="342.3" stroke="#000" stroke-width="1.03"/>
<line x1="572.9" y1="350.2" x2="568.4" y2="347.7" stroke="#000" stroke-width="1.03"/>
<path d="M571.8,362.9 L561.4,370.2 L552.1,364.8 L553.2,352.1 L563.6,344.8 L572.9,350.2 Z" fill="#fff" stroke="#000" stroke-width="1.15" stroke-linejoin="round" stroke-linecap="round"/>
<ellipse cx="562.5" cy="357.5" rx="9.4" ry="11.8" transform="rotate(30.0 562.5 357.5)" fill="none" stroke="#000" stroke-width="0.92"/>
<ellipse cx="562.5" cy="357.5" rx="6.9" ry="8.6" transform="rotate(30.0 562.5 357.5)" fill="none" stroke="#000" stroke-width="0.92"/>
<ellipse cx="562.8" cy="357.7" rx="6.0" ry="7.5" transform="rotate(30.0 562.8 357.7)" fill="none" stroke="#000" stroke-width="0.92"/>
<ellipse cx="563.1" cy="357.9" rx="5.1" ry="6.4" transform="rotate(30.0 563.1 357.9)" fill="none" stroke="#000" stroke-width="0.92"/>
<line x1="601.0" y1="316.0" x2="571.0" y2="347.0" stroke="#000" stroke-width="1.15"/>
<path d="M103.7,810.7 L126.4,798.6 L126.4,792.5 L143.5,802 L129.1,822.8 L129.1,818.8 L107.1,829.3 L103.7,827.6 Z" fill="#fff" stroke="#000" stroke-width="1.26" stroke-linejoin="round" stroke-linecap="round"/>
<path d="M103.7,810.7 L107.1,812.7 L129.1,801.3 L129.1,795.6 L126.4,792.5" fill="none" stroke="#000" stroke-width="1.15" stroke-linejoin="round" stroke-linecap="round"/>
<line x1="107.1" y1="812.7" x2="107.1" y2="829.3" stroke="#000" stroke-width="1.15"/>
<line x1="129.1" y1="801.3" x2="129.1" y2="805.0" stroke="#000" stroke-width="1.03"/>
<text transform="translate(110.3,826.5) skewY(-27) scale(0.72 1)" font-size="14.5" font-weight="bold" letter-spacing="-0.3">FWD</text>
<text transform="translate(298.6 142.8) scale(1.25 1)" font-size="12.4">30</text>
<text transform="translate(361.7 176.9) scale(1.25 1)" font-size="12.4">22</text>
<text transform="translate(394.6 195.0) scale(1.25 1)" font-size="12.4">25</text>
<text transform="translate(421.6 212.8) scale(1.25 1)" font-size="12.4">29</text>
<text transform="translate(452.0 230.4) scale(1.25 1)" font-size="12.4">26</text>
<text transform="translate(490.0 252.2) scale(1.25 1)" font-size="12.4">24</text>
<text transform="translate(531.2 275.0) scale(1.25 1)" font-size="12.4">23</text>
<text transform="translate(562.6 294.2) scale(1.25 1)" font-size="12.4">28</text>
<text transform="translate(598.6 315.0) scale(1.25 1)" font-size="12.4">27</text>
<text transform="translate(86.7 236.8) scale(1.25 1)" font-size="12.4">17</text>
<text transform="translate(100.9 283.0) scale(1.25 1)" font-size="12.4">19</text>
<text transform="translate(123.1 341.2) scale(1.25 1)" font-size="12.4">16</text>
<text transform="translate(309.5 311.8) scale(1.25 1)" font-size="12.4">18</text>
<text transform="translate(353.2 335.5) scale(1.25 1)" font-size="12.4">19</text>
<text transform="translate(182.0 380.9) scale(1.25 1)" font-size="12.4">3</text>
<text transform="translate(225.0 406.0) scale(1.25 1)" font-size="12.4">5</text>
<text transform="translate(292.7 402.4) scale(1.25 1)" font-size="12.4">1</text>
<text transform="translate(288.0 442.6) scale(1.25 1)" font-size="12.4">6</text>
<text transform="translate(343.0 473.8) scale(1.25 1)" font-size="12.4">4</text>
<text transform="translate(396.4 505.4) scale(1.25 1)" font-size="12.4">2</text>
<text transform="translate(470.9 522.6) scale(1.25 1)" font-size="12.4">9</text>
<text transform="translate(452.2 535.2) scale(1.25 1)" font-size="12.4">10</text>
<text transform="translate(493.1 569.6) scale(1.25 1)" font-size="12.4">12</text>
<text transform="translate(550.7 590.3) scale(1.25 1)" font-size="12.4">7</text>
<text transform="translate(86.2 638.8) scale(1.25 1)" font-size="12.4">21</text>
<text transform="translate(134.4 666.0) scale(1.25 1)" font-size="12.4">20</text>
<text transform="translate(177.0 691.0) scale(1.25 1)" font-size="12.4">21</text>
<text transform="translate(237.1 725.1) scale(1.25 1)" font-size="12.4">15</text>
<text transform="translate(381.6 798.0) scale(1.25 1)" font-size="12.4">8</text>
<text transform="translate(410.4 818.8) scale(1.25 1)" font-size="12.4">11</text>
<text transform="translate(441.0 835.2) scale(1.25 1)" font-size="12.4">13</text>
<text transform="translate(467.6 850.0) scale(1.25 1)" font-size="12.4">14</text>
<text transform="translate(75.6 847.2) scale(1.15 1)" font-size="12.2">1XD1110-N030</text>
</svg>
</body></html>
